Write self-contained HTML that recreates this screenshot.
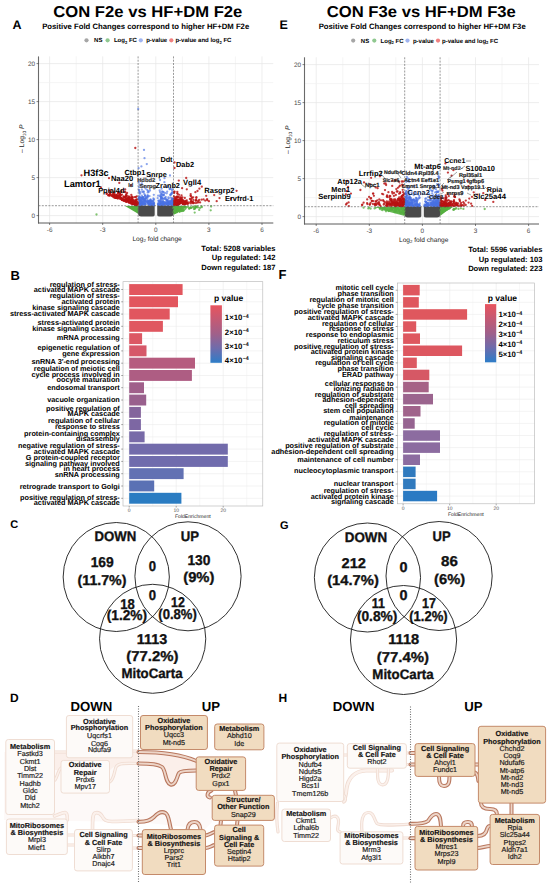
<!DOCTYPE html><html><head><meta charset="utf-8"><style>html,body{margin:0;padding:0;background:#fff}svg{display:block}text{font-family:"Liberation Sans", sans-serif;text-rendering:geometricPrecision}</style></head><body>
<svg width="550" height="890" viewBox="0 0 550 890" font-family='"Liberation Sans", sans-serif'>
<rect width="550" height="890" fill="#fff"/>
<text x="147.8" y="17.0" font-size="15.8" font-weight="bold" text-anchor="middle" textLength="189" lengthAdjust="spacingAndGlyphs">CON F2e vs HF+DM F2e</text>
<text x="145.7" y="28.8" font-size="7.8" font-weight="bold" text-anchor="middle" textLength="207" lengthAdjust="spacingAndGlyphs">Positive Fold Changes correspond to higher HF+DM F2e</text>
<text x="12.5" y="29.3" font-size="12.5" font-weight="bold">A</text>
<text x="421.3" y="17.0" font-size="15.8" font-weight="bold" text-anchor="middle" textLength="189" lengthAdjust="spacingAndGlyphs">CON F3e vs HF+DM F3e</text>
<text x="422.2" y="28.8" font-size="7.8" font-weight="bold" text-anchor="middle" textLength="207" lengthAdjust="spacingAndGlyphs">Positive Fold Changes correspond to higher HF+DM F3e</text>
<text x="279.5" y="29.3" font-size="12.5" font-weight="bold">E</text>
<line x1="49.6" y1="56.4" x2="49.6" y2="223.0" stroke="#e6e6e6" stroke-width="0.7"/><line x1="76.2" y1="56.4" x2="76.2" y2="223.0" stroke="#f1f1f1" stroke-width="0.7"/><line x1="102.7" y1="56.4" x2="102.7" y2="223.0" stroke="#e6e6e6" stroke-width="0.7"/><line x1="129.2" y1="56.4" x2="129.2" y2="223.0" stroke="#f1f1f1" stroke-width="0.7"/><line x1="155.8" y1="56.4" x2="155.8" y2="223.0" stroke="#e6e6e6" stroke-width="0.7"/><line x1="182.4" y1="56.4" x2="182.4" y2="223.0" stroke="#f1f1f1" stroke-width="0.7"/><line x1="208.9" y1="56.4" x2="208.9" y2="223.0" stroke="#e6e6e6" stroke-width="0.7"/><line x1="235.4" y1="56.4" x2="235.4" y2="223.0" stroke="#f1f1f1" stroke-width="0.7"/><line x1="262.0" y1="56.4" x2="262.0" y2="223.0" stroke="#e6e6e6" stroke-width="0.7"/><line x1="38.5" y1="215.6" x2="273.3" y2="215.6" stroke="#e6e6e6" stroke-width="0.7"/><line x1="38.5" y1="196.6" x2="273.3" y2="196.6" stroke="#f1f1f1" stroke-width="0.7"/><line x1="38.5" y1="177.6" x2="273.3" y2="177.6" stroke="#e6e6e6" stroke-width="0.7"/><line x1="38.5" y1="158.6" x2="273.3" y2="158.6" stroke="#f1f1f1" stroke-width="0.7"/><line x1="38.5" y1="139.6" x2="273.3" y2="139.6" stroke="#e6e6e6" stroke-width="0.7"/><line x1="38.5" y1="120.6" x2="273.3" y2="120.6" stroke="#f1f1f1" stroke-width="0.7"/><line x1="38.5" y1="101.6" x2="273.3" y2="101.6" stroke="#e6e6e6" stroke-width="0.7"/><line x1="38.5" y1="82.6" x2="273.3" y2="82.6" stroke="#f1f1f1" stroke-width="0.7"/><line x1="38.5" y1="63.6" x2="273.3" y2="63.6" stroke="#e6e6e6" stroke-width="0.7"/>
<path d="M138.1,205.7 H154.7 V215.0 Q154.7,216.5 152.3,216.5 H141.1 Q138.1,216.5 138.1,213.5Z" fill="#4a4a4a"/><path d="M157.2,205.7 H173.5 V213.5 Q173.5,216.5 170.5,216.5 H159.7 Q157.2,216.5 157.2,215.0Z" fill="#4a4a4a"/><path d="M125,205.9 L138.1,205.9 L138.1,213.7 Z" fill="#55b040"/><path d="M173.5,205.9 L187.5,205.9 Q180.5,210.7 173.5,215.1 Z" fill="#55b040"/><g fill="#55b040" fill-opacity="0.75"><circle cx="175.4" cy="210.1" r="1.15"/><circle cx="195.6" cy="207.8" r="1.15"/><circle cx="173.5" cy="212.3" r="1.15"/><circle cx="174.6" cy="207.3" r="1.15"/><circle cx="195.0" cy="208.6" r="1.15"/><circle cx="190.6" cy="208.0" r="1.15"/><circle cx="178.1" cy="206.7" r="1.15"/><circle cx="179.6" cy="211.8" r="1.15"/><circle cx="176.6" cy="211.7" r="1.15"/><circle cx="176.2" cy="208.4" r="1.15"/><circle cx="184.0" cy="206.6" r="1.15"/><circle cx="176.0" cy="207.7" r="1.15"/><circle cx="181.4" cy="209.0" r="1.15"/><circle cx="200.0" cy="207.9" r="1.15"/><circle cx="175.8" cy="208.2" r="1.15"/><circle cx="176.8" cy="209.5" r="1.15"/><circle cx="173.6" cy="206.8" r="1.15"/><circle cx="189.4" cy="208.6" r="1.15"/><circle cx="174.1" cy="209.8" r="1.15"/><circle cx="176.0" cy="209.1" r="1.15"/><circle cx="194.0" cy="209.1" r="1.15"/><circle cx="177.0" cy="207.4" r="1.15"/><circle cx="182.2" cy="210.6" r="1.15"/><circle cx="178.1" cy="210.6" r="1.15"/><circle cx="196.1" cy="207.0" r="1.15"/><circle cx="201.5" cy="206.5" r="1.15"/><circle cx="184.7" cy="207.4" r="1.15"/><circle cx="174.9" cy="212.6" r="1.15"/><circle cx="196.2" cy="206.7" r="1.15"/><circle cx="181.7" cy="209.8" r="1.15"/><circle cx="173.6" cy="208.2" r="1.15"/><circle cx="174.9" cy="209.9" r="1.15"/><circle cx="180.4" cy="209.1" r="1.15"/><circle cx="177.9" cy="210.3" r="1.15"/><circle cx="179.6" cy="211.4" r="1.15"/><circle cx="201.8" cy="207.2" r="1.15"/><circle cx="181.4" cy="210.8" r="1.15"/><circle cx="181.1" cy="210.6" r="1.15"/><circle cx="179.9" cy="210.3" r="1.15"/><circle cx="185.2" cy="209.1" r="1.15"/><circle cx="197.4" cy="206.6" r="1.15"/><circle cx="189.0" cy="208.5" r="1.15"/><circle cx="179.5" cy="208.4" r="1.15"/><circle cx="173.7" cy="208.2" r="1.15"/><circle cx="184.5" cy="207.0" r="1.15"/><circle cx="176.5" cy="212.2" r="1.15"/><circle cx="183.7" cy="210.6" r="1.15"/><circle cx="193.7" cy="207.0" r="1.15"/><circle cx="195.4" cy="207.0" r="1.15"/><circle cx="194.5" cy="208.8" r="1.15"/><circle cx="179.5" cy="209.3" r="1.15"/><circle cx="174.3" cy="209.8" r="1.15"/><circle cx="179.6" cy="207.2" r="1.15"/><circle cx="183.4" cy="210.3" r="1.15"/><circle cx="192.7" cy="206.9" r="1.15"/><circle cx="174.3" cy="208.2" r="1.15"/><circle cx="177.4" cy="207.6" r="1.15"/><circle cx="191.5" cy="207.9" r="1.15"/><circle cx="185.7" cy="207.4" r="1.15"/><circle cx="175.2" cy="208.3" r="1.15"/><circle cx="195.4" cy="207.6" r="1.15"/><circle cx="190.5" cy="207.3" r="1.15"/><circle cx="175.7" cy="208.4" r="1.15"/><circle cx="182.9" cy="210.7" r="1.15"/><circle cx="188.0" cy="206.9" r="1.15"/><circle cx="175.7" cy="212.6" r="1.15"/><circle cx="174.4" cy="208.4" r="1.15"/><circle cx="211.1" cy="206.5" r="1.15"/><circle cx="178.0" cy="207.7" r="1.15"/><circle cx="174.9" cy="209.5" r="1.15"/><circle cx="183.2" cy="208.0" r="1.15"/><circle cx="174.0" cy="211.7" r="1.15"/><circle cx="198.0" cy="207.6" r="1.15"/><circle cx="178.4" cy="209.6" r="1.15"/><circle cx="178.5" cy="208.9" r="1.15"/><circle cx="190.5" cy="207.8" r="1.15"/><circle cx="179.1" cy="207.1" r="1.15"/><circle cx="174.9" cy="211.3" r="1.15"/><circle cx="186.3" cy="207.6" r="1.15"/><circle cx="179.1" cy="208.8" r="1.15"/><circle cx="179.5" cy="207.5" r="1.15"/><circle cx="183.7" cy="209.8" r="1.15"/><circle cx="182.5" cy="210.7" r="1.15"/><circle cx="182.2" cy="208.8" r="1.15"/><circle cx="181.1" cy="211.2" r="1.15"/><circle cx="179.7" cy="210.2" r="1.15"/><circle cx="177.2" cy="212.0" r="1.15"/><circle cx="177.0" cy="206.7" r="1.15"/><circle cx="195.9" cy="206.7" r="1.15"/><circle cx="96.5" cy="214.5" r="1.15"/><circle cx="210.7" cy="210.3" r="1.15"/><circle cx="199.2" cy="209.9" r="1.15"/><circle cx="194.7" cy="212.6" r="1.15"/></g><g fill="#4a72e4" fill-opacity="0.65"><circle cx="172.6" cy="202.0" r="1.15"/><circle cx="140.4" cy="200.2" r="1.15"/><circle cx="164.9" cy="192.9" r="1.15"/><circle cx="152.9" cy="203.7" r="1.15"/><circle cx="172.9" cy="198.7" r="1.15"/><circle cx="158.2" cy="204.8" r="1.15"/><circle cx="147.6" cy="202.2" r="1.15"/><circle cx="161.7" cy="203.2" r="1.15"/><circle cx="139.3" cy="203.0" r="1.15"/><circle cx="162.2" cy="203.8" r="1.15"/><circle cx="145.2" cy="201.0" r="1.15"/><circle cx="145.8" cy="198.5" r="1.15"/><circle cx="139.1" cy="190.3" r="1.15"/><circle cx="157.7" cy="198.1" r="1.15"/><circle cx="139.4" cy="184.5" r="1.15"/><circle cx="161.5" cy="192.7" r="1.15"/><circle cx="148.7" cy="203.6" r="1.15"/><circle cx="141.5" cy="200.6" r="1.15"/><circle cx="164.4" cy="182.2" r="1.15"/><circle cx="172.8" cy="202.4" r="1.15"/><circle cx="150.6" cy="199.4" r="1.15"/><circle cx="145.2" cy="195.5" r="1.15"/><circle cx="141.8" cy="203.8" r="1.15"/><circle cx="167.2" cy="191.6" r="1.15"/><circle cx="172.6" cy="192.2" r="1.15"/><circle cx="168.4" cy="197.5" r="1.15"/><circle cx="153.2" cy="202.4" r="1.15"/><circle cx="168.1" cy="202.0" r="1.15"/><circle cx="163.0" cy="201.6" r="1.15"/><circle cx="161.0" cy="198.2" r="1.15"/><circle cx="141.7" cy="198.1" r="1.15"/><circle cx="160.7" cy="203.7" r="1.15"/><circle cx="146.8" cy="197.1" r="1.15"/><circle cx="172.3" cy="202.3" r="1.15"/><circle cx="153.5" cy="203.6" r="1.15"/><circle cx="142.0" cy="203.0" r="1.15"/><circle cx="144.7" cy="203.4" r="1.15"/><circle cx="166.6" cy="200.1" r="1.15"/><circle cx="164.2" cy="203.7" r="1.15"/><circle cx="150.3" cy="204.6" r="1.15"/><circle cx="166.7" cy="193.3" r="1.15"/><circle cx="139.3" cy="198.1" r="1.15"/><circle cx="165.7" cy="204.0" r="1.15"/><circle cx="152.7" cy="204.7" r="1.15"/><circle cx="139.3" cy="191.8" r="1.15"/><circle cx="141.8" cy="203.8" r="1.15"/><circle cx="152.9" cy="204.0" r="1.15"/><circle cx="172.9" cy="201.4" r="1.15"/><circle cx="162.0" cy="204.9" r="1.15"/><circle cx="163.1" cy="204.2" r="1.15"/><circle cx="160.5" cy="203.7" r="1.15"/><circle cx="172.1" cy="189.2" r="1.15"/><circle cx="168.4" cy="204.3" r="1.15"/><circle cx="153.2" cy="203.9" r="1.15"/><circle cx="152.5" cy="204.1" r="1.15"/><circle cx="169.3" cy="204.0" r="1.15"/><circle cx="140.4" cy="205.0" r="1.15"/><circle cx="159.6" cy="200.7" r="1.15"/><circle cx="149.1" cy="204.9" r="1.15"/><circle cx="172.2" cy="201.1" r="1.15"/><circle cx="145.1" cy="195.6" r="1.15"/><circle cx="147.7" cy="192.4" r="1.15"/><circle cx="170.5" cy="194.6" r="1.15"/><circle cx="139.7" cy="197.6" r="1.15"/><circle cx="158.6" cy="204.7" r="1.15"/><circle cx="143.6" cy="202.0" r="1.15"/><circle cx="158.6" cy="201.0" r="1.15"/><circle cx="169.0" cy="204.2" r="1.15"/><circle cx="153.6" cy="205.1" r="1.15"/><circle cx="161.8" cy="203.6" r="1.15"/><circle cx="145.4" cy="198.0" r="1.15"/><circle cx="154.0" cy="199.5" r="1.15"/><circle cx="162.9" cy="199.1" r="1.15"/><circle cx="143.6" cy="191.4" r="1.15"/><circle cx="141.7" cy="201.7" r="1.15"/><circle cx="140.0" cy="201.4" r="1.15"/><circle cx="160.6" cy="194.4" r="1.15"/><circle cx="142.6" cy="202.4" r="1.15"/><circle cx="142.8" cy="197.1" r="1.15"/><circle cx="167.5" cy="201.8" r="1.15"/><circle cx="171.7" cy="193.5" r="1.15"/><circle cx="163.8" cy="204.4" r="1.15"/><circle cx="151.6" cy="203.6" r="1.15"/><circle cx="163.0" cy="201.0" r="1.15"/><circle cx="148.1" cy="202.4" r="1.15"/><circle cx="172.5" cy="199.4" r="1.15"/><circle cx="147.8" cy="203.7" r="1.15"/><circle cx="163.9" cy="203.8" r="1.15"/><circle cx="146.3" cy="201.6" r="1.15"/><circle cx="167.5" cy="204.1" r="1.15"/><circle cx="167.2" cy="200.4" r="1.15"/><circle cx="168.7" cy="203.5" r="1.15"/><circle cx="147.1" cy="189.8" r="1.15"/><circle cx="159.6" cy="204.9" r="1.15"/><circle cx="141.4" cy="202.2" r="1.15"/><circle cx="168.5" cy="204.0" r="1.15"/><circle cx="145.5" cy="188.6" r="1.15"/><circle cx="147.3" cy="198.8" r="1.15"/><circle cx="163.6" cy="203.8" r="1.15"/><circle cx="146.8" cy="200.3" r="1.15"/><circle cx="138.8" cy="181.9" r="1.15"/><circle cx="170.7" cy="201.9" r="1.15"/><circle cx="147.7" cy="197.2" r="1.15"/><circle cx="142.7" cy="203.1" r="1.15"/><circle cx="139.8" cy="200.2" r="1.15"/><circle cx="171.9" cy="198.1" r="1.15"/><circle cx="139.7" cy="203.9" r="1.15"/><circle cx="141.6" cy="198.6" r="1.15"/><circle cx="142.8" cy="198.9" r="1.15"/><circle cx="171.7" cy="200.8" r="1.15"/><circle cx="141.8" cy="183.3" r="1.15"/><circle cx="149.3" cy="204.6" r="1.15"/><circle cx="160.9" cy="197.0" r="1.15"/><circle cx="153.9" cy="203.4" r="1.15"/><circle cx="170.7" cy="203.9" r="1.15"/><circle cx="164.5" cy="198.5" r="1.15"/><circle cx="168.3" cy="204.9" r="1.15"/><circle cx="148.4" cy="201.0" r="1.15"/><circle cx="170.6" cy="203.9" r="1.15"/><circle cx="163.6" cy="194.5" r="1.15"/><circle cx="143.5" cy="204.8" r="1.15"/><circle cx="139.4" cy="196.2" r="1.15"/><circle cx="161.3" cy="196.5" r="1.15"/><circle cx="153.1" cy="200.9" r="1.15"/><circle cx="140.5" cy="185.7" r="1.15"/><circle cx="162.6" cy="198.6" r="1.15"/><circle cx="150.9" cy="201.2" r="1.15"/><circle cx="163.6" cy="202.7" r="1.15"/><circle cx="169.3" cy="204.2" r="1.15"/><circle cx="144.9" cy="204.0" r="1.15"/><circle cx="160.3" cy="203.1" r="1.15"/><circle cx="148.1" cy="190.9" r="1.15"/><circle cx="145.1" cy="204.4" r="1.15"/><circle cx="143.3" cy="199.9" r="1.15"/><circle cx="162.1" cy="191.3" r="1.15"/><circle cx="145.1" cy="196.1" r="1.15"/><circle cx="168.9" cy="203.1" r="1.15"/><circle cx="140.5" cy="200.2" r="1.15"/><circle cx="154.0" cy="203.7" r="1.15"/><circle cx="153.5" cy="199.7" r="1.15"/><circle cx="147.5" cy="202.0" r="1.15"/><circle cx="172.1" cy="204.3" r="1.15"/><circle cx="142.6" cy="197.2" r="1.15"/><circle cx="145.6" cy="203.9" r="1.15"/><circle cx="165.7" cy="204.9" r="1.15"/><circle cx="158.5" cy="203.7" r="1.15"/><circle cx="140.5" cy="204.0" r="1.15"/><circle cx="167.2" cy="205.0" r="1.15"/><circle cx="162.9" cy="204.6" r="1.15"/><circle cx="144.8" cy="200.3" r="1.15"/><circle cx="167.3" cy="200.7" r="1.15"/><circle cx="150.3" cy="204.8" r="1.15"/><circle cx="166.7" cy="204.1" r="1.15"/><circle cx="140.6" cy="202.4" r="1.15"/><circle cx="153.4" cy="198.3" r="1.15"/><circle cx="163.2" cy="202.2" r="1.15"/><circle cx="168.3" cy="202.7" r="1.15"/><circle cx="143.7" cy="192.1" r="1.15"/><circle cx="139.2" cy="203.3" r="1.15"/><circle cx="148.0" cy="196.2" r="1.15"/><circle cx="148.9" cy="203.2" r="1.15"/><circle cx="142.1" cy="203.0" r="1.15"/><circle cx="149.5" cy="196.1" r="1.15"/><circle cx="169.7" cy="189.0" r="1.15"/><circle cx="152.7" cy="201.1" r="1.15"/><circle cx="142.7" cy="202.2" r="1.15"/><circle cx="151.5" cy="204.4" r="1.15"/><circle cx="172.9" cy="203.6" r="1.15"/><circle cx="151.3" cy="201.6" r="1.15"/><circle cx="172.4" cy="203.4" r="1.15"/><circle cx="161.4" cy="194.1" r="1.15"/><circle cx="168.2" cy="185.9" r="1.15"/><circle cx="148.2" cy="201.0" r="1.15"/><circle cx="153.5" cy="202.7" r="1.15"/><circle cx="148.8" cy="203.7" r="1.15"/><circle cx="141.1" cy="204.7" r="1.15"/><circle cx="140.5" cy="204.4" r="1.15"/><circle cx="142.2" cy="204.4" r="1.15"/><circle cx="150.6" cy="205.0" r="1.15"/><circle cx="150.4" cy="199.9" r="1.15"/><circle cx="144.0" cy="200.8" r="1.15"/><circle cx="170.7" cy="202.1" r="1.15"/><circle cx="160.8" cy="201.6" r="1.15"/><circle cx="159.6" cy="204.8" r="1.15"/><circle cx="147.7" cy="195.2" r="1.15"/><circle cx="160.1" cy="196.0" r="1.15"/><circle cx="160.5" cy="200.6" r="1.15"/><circle cx="166.9" cy="203.6" r="1.15"/><circle cx="149.7" cy="201.0" r="1.15"/><circle cx="140.2" cy="202.1" r="1.15"/><circle cx="144.4" cy="186.8" r="1.15"/><circle cx="158.1" cy="195.7" r="1.15"/><circle cx="163.6" cy="203.5" r="1.15"/><circle cx="141.6" cy="204.1" r="1.15"/><circle cx="142.3" cy="203.1" r="1.15"/><circle cx="138.7" cy="199.7" r="1.15"/><circle cx="151.3" cy="203.2" r="1.15"/><circle cx="165.6" cy="201.8" r="1.15"/><circle cx="149.6" cy="202.2" r="1.15"/><circle cx="171.5" cy="200.0" r="1.15"/><circle cx="169.2" cy="204.5" r="1.15"/><circle cx="143.5" cy="197.4" r="1.15"/><circle cx="143.2" cy="203.8" r="1.15"/><circle cx="143.1" cy="202.1" r="1.15"/><circle cx="171.0" cy="201.2" r="1.15"/><circle cx="145.2" cy="200.4" r="1.15"/><circle cx="149.4" cy="203.1" r="1.15"/><circle cx="161.1" cy="199.5" r="1.15"/><circle cx="171.5" cy="193.9" r="1.15"/><circle cx="170.3" cy="203.6" r="1.15"/><circle cx="168.2" cy="205.0" r="1.15"/><circle cx="147.7" cy="202.3" r="1.15"/><circle cx="171.8" cy="193.0" r="1.15"/><circle cx="160.6" cy="204.7" r="1.15"/><circle cx="170.1" cy="203.7" r="1.15"/><circle cx="140.3" cy="202.2" r="1.15"/><circle cx="164.0" cy="195.1" r="1.15"/><circle cx="148.2" cy="204.0" r="1.15"/><circle cx="162.5" cy="198.1" r="1.15"/><circle cx="172.4" cy="199.9" r="1.15"/><circle cx="170.0" cy="200.8" r="1.15"/><circle cx="166.3" cy="199.4" r="1.15"/><circle cx="141.5" cy="197.6" r="1.15"/><circle cx="149.9" cy="201.2" r="1.15"/><circle cx="167.4" cy="200.1" r="1.15"/><circle cx="138.8" cy="197.9" r="1.15"/><circle cx="166.0" cy="203.1" r="1.15"/><circle cx="139.0" cy="187.2" r="1.15"/><circle cx="140.4" cy="203.0" r="1.15"/><circle cx="168.6" cy="202.9" r="1.15"/><circle cx="161.6" cy="188.7" r="1.15"/><circle cx="163.6" cy="205.1" r="1.15"/><circle cx="166.4" cy="203.1" r="1.15"/><circle cx="143.2" cy="197.6" r="1.15"/><circle cx="172.8" cy="204.0" r="1.15"/><circle cx="169.8" cy="189.0" r="1.15"/><circle cx="167.9" cy="202.4" r="1.15"/><circle cx="140.1" cy="199.6" r="1.15"/><circle cx="163.1" cy="205.0" r="1.15"/><circle cx="151.9" cy="204.2" r="1.15"/><circle cx="151.0" cy="204.4" r="1.15"/><circle cx="172.2" cy="201.9" r="1.15"/><circle cx="144.7" cy="201.6" r="1.15"/><circle cx="144.4" cy="203.0" r="1.15"/><circle cx="144.3" cy="199.7" r="1.15"/><circle cx="140.1" cy="202.2" r="1.15"/><circle cx="170.4" cy="195.2" r="1.15"/><circle cx="139.6" cy="202.0" r="1.15"/><circle cx="169.5" cy="201.6" r="1.15"/><circle cx="168.6" cy="198.7" r="1.15"/><circle cx="158.0" cy="203.4" r="1.15"/><circle cx="167.7" cy="201.3" r="1.15"/><circle cx="170.5" cy="197.7" r="1.15"/><circle cx="139.2" cy="199.2" r="1.15"/><circle cx="165.1" cy="202.6" r="1.15"/><circle cx="158.7" cy="204.6" r="1.15"/><circle cx="172.1" cy="204.5" r="1.15"/><circle cx="159.7" cy="190.4" r="1.15"/><circle cx="150.8" cy="203.9" r="1.15"/><circle cx="172.7" cy="204.9" r="1.15"/><circle cx="138.7" cy="198.5" r="1.15"/><circle cx="170.9" cy="205.0" r="1.15"/><circle cx="172.4" cy="199.2" r="1.15"/><circle cx="148.2" cy="201.0" r="1.15"/><circle cx="150.2" cy="202.8" r="1.15"/><circle cx="160.4" cy="202.6" r="1.15"/><circle cx="158.5" cy="204.4" r="1.15"/><circle cx="160.0" cy="192.1" r="1.15"/><circle cx="141.0" cy="200.6" r="1.15"/><circle cx="159.0" cy="203.1" r="1.15"/><circle cx="140.6" cy="204.5" r="1.15"/><circle cx="154.0" cy="204.9" r="1.15"/><circle cx="144.3" cy="193.9" r="1.15"/><circle cx="141.9" cy="189.7" r="1.15"/><circle cx="139.4" cy="193.6" r="1.15"/><circle cx="139.9" cy="192.1" r="1.15"/><circle cx="165.7" cy="196.9" r="1.15"/><circle cx="143.2" cy="203.1" r="1.15"/><circle cx="141.8" cy="204.2" r="1.15"/><circle cx="152.0" cy="203.8" r="1.15"/><circle cx="163.3" cy="195.1" r="1.15"/><circle cx="142.7" cy="199.4" r="1.15"/><circle cx="142.5" cy="200.4" r="1.15"/><circle cx="172.0" cy="190.4" r="1.15"/><circle cx="160.6" cy="196.5" r="1.15"/><circle cx="163.0" cy="202.0" r="1.15"/><circle cx="145.4" cy="203.2" r="1.15"/><circle cx="139.3" cy="197.2" r="1.15"/><circle cx="161.7" cy="204.9" r="1.15"/><circle cx="158.6" cy="204.8" r="1.15"/><circle cx="160.7" cy="199.2" r="1.15"/><circle cx="149.1" cy="204.3" r="1.15"/><circle cx="151.0" cy="202.8" r="1.15"/><circle cx="150.4" cy="200.8" r="1.15"/><circle cx="152.1" cy="201.3" r="1.15"/><circle cx="149.4" cy="202.8" r="1.15"/><circle cx="166.1" cy="203.1" r="1.15"/><circle cx="145.6" cy="204.3" r="1.15"/><circle cx="153.5" cy="205.0" r="1.15"/><circle cx="158.5" cy="200.7" r="1.15"/><circle cx="150.7" cy="200.4" r="1.15"/><circle cx="148.7" cy="192.0" r="1.15"/><circle cx="172.6" cy="199.5" r="1.15"/><circle cx="163.3" cy="191.8" r="1.15"/><circle cx="150.0" cy="190.5" r="1.15"/><circle cx="142.7" cy="197.8" r="1.15"/><circle cx="172.9" cy="204.6" r="1.15"/><circle cx="142.4" cy="204.3" r="1.15"/><circle cx="143.8" cy="198.8" r="1.15"/><circle cx="169.9" cy="202.7" r="1.15"/><circle cx="144.5" cy="199.3" r="1.15"/><circle cx="167.8" cy="201.8" r="1.15"/><circle cx="141.5" cy="201.4" r="1.15"/><circle cx="163.4" cy="204.6" r="1.15"/><circle cx="145.0" cy="199.1" r="1.15"/><circle cx="162.0" cy="194.5" r="1.15"/><circle cx="152.5" cy="204.5" r="1.15"/><circle cx="166.1" cy="199.5" r="1.15"/><circle cx="164.2" cy="203.5" r="1.15"/><circle cx="168.4" cy="201.3" r="1.15"/><circle cx="152.3" cy="204.5" r="1.15"/><circle cx="162.5" cy="195.7" r="1.15"/><circle cx="161.9" cy="202.4" r="1.15"/><circle cx="149.4" cy="202.5" r="1.15"/><circle cx="160.8" cy="205.1" r="1.15"/><circle cx="141.8" cy="197.9" r="1.15"/><circle cx="170.1" cy="188.5" r="1.15"/><circle cx="170.4" cy="202.4" r="1.15"/><circle cx="164.0" cy="202.0" r="1.15"/><circle cx="159.8" cy="201.8" r="1.15"/><circle cx="147.3" cy="196.5" r="1.15"/><circle cx="161.8" cy="198.1" r="1.15"/><circle cx="152.5" cy="204.8" r="1.15"/><circle cx="140.2" cy="193.6" r="1.15"/><circle cx="165.2" cy="197.8" r="1.15"/><circle cx="140.0" cy="197.5" r="1.15"/><circle cx="140.0" cy="198.1" r="1.15"/><circle cx="161.3" cy="201.6" r="1.15"/><circle cx="166.6" cy="204.1" r="1.15"/><circle cx="167.5" cy="202.0" r="1.15"/><circle cx="141.0" cy="204.4" r="1.15"/><circle cx="143.1" cy="204.7" r="1.15"/><circle cx="163.2" cy="192.1" r="1.15"/><circle cx="153.7" cy="202.3" r="1.15"/><circle cx="159.4" cy="201.8" r="1.15"/><circle cx="161.3" cy="197.5" r="1.15"/><circle cx="153.8" cy="194.8" r="1.15"/><circle cx="166.5" cy="187.2" r="1.15"/><circle cx="150.9" cy="204.9" r="1.15"/><circle cx="141.1" cy="204.6" r="1.15"/><circle cx="153.1" cy="205.0" r="1.15"/><circle cx="141.9" cy="195.7" r="1.15"/><circle cx="161.8" cy="203.8" r="1.15"/><circle cx="170.7" cy="194.7" r="1.15"/><circle cx="139.1" cy="199.9" r="1.15"/><circle cx="144.9" cy="201.3" r="1.15"/><circle cx="146.1" cy="198.1" r="1.15"/><circle cx="163.3" cy="203.6" r="1.15"/><circle cx="172.2" cy="203.6" r="1.15"/><circle cx="150.0" cy="201.8" r="1.15"/><circle cx="139.0" cy="189.8" r="1.15"/><circle cx="145.8" cy="201.5" r="1.15"/><circle cx="164.5" cy="198.9" r="1.15"/><circle cx="146.8" cy="201.8" r="1.15"/><circle cx="139.2" cy="203.0" r="1.15"/><circle cx="170.2" cy="203.7" r="1.15"/><circle cx="139.7" cy="205.0" r="1.15"/><circle cx="169.5" cy="201.6" r="1.15"/><circle cx="170.9" cy="203.2" r="1.15"/><circle cx="161.5" cy="204.9" r="1.15"/><circle cx="151.0" cy="201.6" r="1.15"/><circle cx="141.0" cy="199.6" r="1.15"/><circle cx="142.3" cy="192.0" r="1.15"/><circle cx="161.6" cy="201.5" r="1.15"/><circle cx="138.8" cy="203.9" r="1.15"/><circle cx="138.2" cy="109.0" r="1.15"/><circle cx="144.0" cy="149.9" r="1.15"/><circle cx="144.5" cy="158.2" r="1.15"/><circle cx="146.8" cy="164.1" r="1.15"/><circle cx="141.4" cy="166.4" r="1.15"/><circle cx="138.6" cy="168.2" r="1.15"/><circle cx="170.0" cy="175.5" r="1.15"/><circle cx="164.5" cy="178.2" r="1.15"/><circle cx="150.0" cy="176.0" r="1.15"/><circle cx="160.0" cy="180.0" r="1.15"/></g><g fill="#b81212" fill-opacity="0.82"><circle cx="128.8" cy="201.8" r="1.15"/><circle cx="132.5" cy="200.8" r="1.15"/><circle cx="119.7" cy="197.1" r="1.15"/><circle cx="106.8" cy="193.4" r="1.15"/><circle cx="133.0" cy="201.9" r="1.15"/><circle cx="119.7" cy="198.7" r="1.15"/><circle cx="118.2" cy="196.9" r="1.15"/><circle cx="125.6" cy="199.5" r="1.15"/><circle cx="137.6" cy="204.0" r="1.15"/><circle cx="128.7" cy="198.5" r="1.15"/><circle cx="116.8" cy="198.0" r="1.15"/><circle cx="128.5" cy="201.7" r="1.15"/><circle cx="109.1" cy="195.5" r="1.15"/><circle cx="124.6" cy="199.7" r="1.15"/><circle cx="128.9" cy="202.4" r="1.15"/><circle cx="125.4" cy="200.1" r="1.15"/><circle cx="116.0" cy="196.5" r="1.15"/><circle cx="116.3" cy="196.6" r="1.15"/><circle cx="106.6" cy="193.9" r="1.15"/><circle cx="114.6" cy="197.4" r="1.15"/><circle cx="135.0" cy="204.7" r="1.15"/><circle cx="134.2" cy="204.4" r="1.15"/><circle cx="131.7" cy="198.2" r="1.15"/><circle cx="126.6" cy="201.6" r="1.15"/><circle cx="134.8" cy="197.1" r="1.15"/><circle cx="128.1" cy="198.6" r="1.15"/><circle cx="122.3" cy="198.9" r="1.15"/><circle cx="114.4" cy="196.3" r="1.15"/><circle cx="122.1" cy="198.6" r="1.15"/><circle cx="127.9" cy="200.3" r="1.15"/><circle cx="129.1" cy="201.3" r="1.15"/><circle cx="114.4" cy="195.4" r="1.15"/><circle cx="117.7" cy="198.3" r="1.15"/><circle cx="112.2" cy="194.9" r="1.15"/><circle cx="116.8" cy="196.8" r="1.15"/><circle cx="119.7" cy="194.8" r="1.15"/><circle cx="129.8" cy="202.7" r="1.15"/><circle cx="134.2" cy="202.0" r="1.15"/><circle cx="135.5" cy="203.7" r="1.15"/><circle cx="114.2" cy="194.8" r="1.15"/><circle cx="136.1" cy="204.1" r="1.15"/><circle cx="115.6" cy="197.8" r="1.15"/><circle cx="129.2" cy="199.2" r="1.15"/><circle cx="122.0" cy="199.1" r="1.15"/><circle cx="117.7" cy="197.3" r="1.15"/><circle cx="134.9" cy="202.3" r="1.15"/><circle cx="126.8" cy="198.8" r="1.15"/><circle cx="132.0" cy="201.8" r="1.15"/><circle cx="121.9" cy="199.4" r="1.15"/><circle cx="113.3" cy="193.7" r="1.15"/><circle cx="129.6" cy="200.0" r="1.15"/><circle cx="126.2" cy="195.0" r="1.15"/><circle cx="121.0" cy="198.4" r="1.15"/><circle cx="130.3" cy="201.6" r="1.15"/><circle cx="126.0" cy="201.1" r="1.15"/><circle cx="135.7" cy="203.1" r="1.15"/><circle cx="136.2" cy="205.0" r="1.15"/><circle cx="132.0" cy="200.1" r="1.15"/><circle cx="113.9" cy="195.9" r="1.15"/><circle cx="133.5" cy="203.7" r="1.15"/><circle cx="128.9" cy="200.8" r="1.15"/><circle cx="125.9" cy="195.7" r="1.15"/><circle cx="117.2" cy="197.8" r="1.15"/><circle cx="121.6" cy="198.0" r="1.15"/><circle cx="121.1" cy="198.1" r="1.15"/><circle cx="127.5" cy="199.8" r="1.15"/><circle cx="118.7" cy="195.6" r="1.15"/><circle cx="124.0" cy="197.0" r="1.15"/><circle cx="125.9" cy="200.9" r="1.15"/><circle cx="135.4" cy="201.2" r="1.15"/><circle cx="127.7" cy="200.6" r="1.15"/><circle cx="134.9" cy="201.8" r="1.15"/><circle cx="136.0" cy="200.2" r="1.15"/><circle cx="123.6" cy="200.4" r="1.15"/><circle cx="136.6" cy="205.1" r="1.15"/><circle cx="133.3" cy="203.1" r="1.15"/><circle cx="131.1" cy="203.5" r="1.15"/><circle cx="120.7" cy="199.1" r="1.15"/><circle cx="116.4" cy="196.7" r="1.15"/><circle cx="116.7" cy="197.0" r="1.15"/><circle cx="134.1" cy="203.3" r="1.15"/><circle cx="124.9" cy="197.1" r="1.15"/><circle cx="129.7" cy="200.9" r="1.15"/><circle cx="136.8" cy="202.6" r="1.15"/><circle cx="128.9" cy="202.5" r="1.15"/><circle cx="115.7" cy="197.2" r="1.15"/><circle cx="123.0" cy="200.3" r="1.15"/><circle cx="133.5" cy="199.8" r="1.15"/><circle cx="112.9" cy="196.2" r="1.15"/><circle cx="133.2" cy="204.2" r="1.15"/><circle cx="126.1" cy="200.3" r="1.15"/><circle cx="109.7" cy="195.5" r="1.15"/><circle cx="108.1" cy="195.3" r="1.15"/><circle cx="118.0" cy="197.4" r="1.15"/><circle cx="127.3" cy="200.4" r="1.15"/><circle cx="127.9" cy="199.4" r="1.15"/><circle cx="130.1" cy="202.7" r="1.15"/><circle cx="120.0" cy="197.7" r="1.15"/><circle cx="126.6" cy="199.1" r="1.15"/><circle cx="129.6" cy="197.9" r="1.15"/><circle cx="116.0" cy="196.4" r="1.15"/><circle cx="109.3" cy="194.6" r="1.15"/><circle cx="136.8" cy="199.5" r="1.15"/><circle cx="109.9" cy="193.6" r="1.15"/><circle cx="120.2" cy="197.2" r="1.15"/><circle cx="128.9" cy="200.0" r="1.15"/><circle cx="120.1" cy="194.5" r="1.15"/><circle cx="133.0" cy="204.1" r="1.15"/><circle cx="132.3" cy="203.8" r="1.15"/><circle cx="116.2" cy="195.2" r="1.15"/><circle cx="129.2" cy="199.6" r="1.15"/><circle cx="112.2" cy="196.0" r="1.15"/><circle cx="129.0" cy="201.5" r="1.15"/><circle cx="133.2" cy="201.8" r="1.15"/><circle cx="131.2" cy="200.5" r="1.15"/><circle cx="135.3" cy="202.0" r="1.15"/><circle cx="108.5" cy="195.1" r="1.15"/><circle cx="116.8" cy="195.6" r="1.15"/><circle cx="136.5" cy="205.1" r="1.15"/><circle cx="118.1" cy="195.7" r="1.15"/><circle cx="129.6" cy="200.5" r="1.15"/><circle cx="122.1" cy="200.1" r="1.15"/><circle cx="129.8" cy="199.2" r="1.15"/><circle cx="122.0" cy="194.6" r="1.15"/><circle cx="126.6" cy="195.9" r="1.15"/><circle cx="117.9" cy="197.3" r="1.15"/><circle cx="124.3" cy="197.4" r="1.15"/><circle cx="132.0" cy="199.6" r="1.15"/><circle cx="119.6" cy="196.8" r="1.15"/><circle cx="132.2" cy="203.8" r="1.15"/><circle cx="113.7" cy="197.3" r="1.15"/><circle cx="111.5" cy="195.7" r="1.15"/><circle cx="118.7" cy="196.7" r="1.15"/><circle cx="133.9" cy="201.9" r="1.15"/><circle cx="115.8" cy="195.6" r="1.15"/><circle cx="135.1" cy="204.9" r="1.15"/><circle cx="131.0" cy="197.5" r="1.15"/><circle cx="131.4" cy="202.0" r="1.15"/><circle cx="133.7" cy="203.1" r="1.15"/><circle cx="121.8" cy="199.6" r="1.15"/><circle cx="126.0" cy="201.5" r="1.15"/><circle cx="115.9" cy="197.6" r="1.15"/><circle cx="126.5" cy="198.3" r="1.15"/><circle cx="135.4" cy="205.0" r="1.15"/><circle cx="115.7" cy="197.0" r="1.15"/><circle cx="129.3" cy="196.9" r="1.15"/><circle cx="137.6" cy="201.9" r="1.15"/><circle cx="134.1" cy="202.1" r="1.15"/><circle cx="122.5" cy="199.9" r="1.15"/><circle cx="115.7" cy="197.7" r="1.15"/><circle cx="132.1" cy="198.4" r="1.15"/><circle cx="124.0" cy="200.8" r="1.15"/><circle cx="123.3" cy="199.0" r="1.15"/><circle cx="134.2" cy="202.7" r="1.15"/><circle cx="122.3" cy="199.5" r="1.15"/><circle cx="131.2" cy="203.4" r="1.15"/><circle cx="133.8" cy="203.0" r="1.15"/><circle cx="122.3" cy="199.8" r="1.15"/><circle cx="132.2" cy="198.2" r="1.15"/><circle cx="114.3" cy="196.0" r="1.15"/><circle cx="133.7" cy="201.6" r="1.15"/><circle cx="113.3" cy="194.8" r="1.15"/><circle cx="137.4" cy="204.5" r="1.15"/><circle cx="127.5" cy="201.7" r="1.15"/><circle cx="131.9" cy="200.3" r="1.15"/><circle cx="135.8" cy="197.2" r="1.15"/><circle cx="132.4" cy="203.3" r="1.15"/><circle cx="124.8" cy="200.4" r="1.15"/><circle cx="120.1" cy="197.0" r="1.15"/><circle cx="131.2" cy="200.4" r="1.15"/><circle cx="110.3" cy="193.9" r="1.15"/><circle cx="135.2" cy="202.8" r="1.15"/><circle cx="117.9" cy="198.4" r="1.15"/><circle cx="117.2" cy="195.7" r="1.15"/><circle cx="125.6" cy="197.2" r="1.15"/><circle cx="115.4" cy="196.1" r="1.15"/><circle cx="125.1" cy="199.9" r="1.15"/><circle cx="129.9" cy="202.4" r="1.15"/><circle cx="126.2" cy="200.9" r="1.15"/><circle cx="126.0" cy="201.6" r="1.15"/><circle cx="126.5" cy="201.6" r="1.15"/><circle cx="132.9" cy="197.3" r="1.15"/><circle cx="115.5" cy="197.9" r="1.15"/><circle cx="112.9" cy="196.4" r="1.15"/><circle cx="136.4" cy="199.7" r="1.15"/><circle cx="137.0" cy="202.8" r="1.15"/><circle cx="125.7" cy="196.5" r="1.15"/><circle cx="135.8" cy="202.5" r="1.15"/><circle cx="120.1" cy="194.2" r="1.15"/><circle cx="110.7" cy="195.1" r="1.15"/><circle cx="124.5" cy="201.1" r="1.15"/><circle cx="132.2" cy="199.8" r="1.15"/><circle cx="132.2" cy="199.8" r="1.15"/><circle cx="134.3" cy="200.6" r="1.15"/><circle cx="131.6" cy="202.0" r="1.15"/><circle cx="115.1" cy="197.6" r="1.15"/><circle cx="115.0" cy="197.2" r="1.15"/><circle cx="128.1" cy="197.8" r="1.15"/><circle cx="136.3" cy="204.6" r="1.15"/><circle cx="125.9" cy="198.7" r="1.15"/><circle cx="136.7" cy="196.3" r="1.15"/><circle cx="131.9" cy="201.4" r="1.15"/><circle cx="131.8" cy="197.7" r="1.15"/><circle cx="127.1" cy="192.9" r="1.15"/><circle cx="120.9" cy="195.2" r="1.15"/><circle cx="128.6" cy="196.4" r="1.15"/><circle cx="118.0" cy="192.9" r="1.15"/><circle cx="114.2" cy="191.8" r="1.15"/><circle cx="130.8" cy="200.3" r="1.15"/><circle cx="129.6" cy="200.9" r="1.15"/><circle cx="136.5" cy="201.5" r="1.15"/><circle cx="120.1" cy="195.6" r="1.15"/><circle cx="123.5" cy="196.5" r="1.15"/><circle cx="110.5" cy="190.7" r="1.15"/><circle cx="124.6" cy="191.9" r="1.15"/><circle cx="109.2" cy="190.7" r="1.15"/><circle cx="126.7" cy="196.1" r="1.15"/><circle cx="110.2" cy="192.9" r="1.15"/><circle cx="114.6" cy="194.0" r="1.15"/><circle cx="134.1" cy="201.9" r="1.15"/><circle cx="121.5" cy="191.2" r="1.15"/><circle cx="129.0" cy="198.0" r="1.15"/><circle cx="132.0" cy="196.6" r="1.15"/><circle cx="126.4" cy="194.1" r="1.15"/><circle cx="128.1" cy="198.9" r="1.15"/><circle cx="120.1" cy="192.6" r="1.15"/><circle cx="119.8" cy="193.6" r="1.15"/><circle cx="119.3" cy="195.2" r="1.15"/><circle cx="130.4" cy="200.5" r="1.15"/><circle cx="118.0" cy="193.2" r="1.15"/><circle cx="119.3" cy="182.9" r="1.15"/><circle cx="131.3" cy="194.9" r="1.15"/><circle cx="129.2" cy="200.6" r="1.15"/><circle cx="119.6" cy="196.6" r="1.15"/><circle cx="125.2" cy="189.5" r="1.15"/><circle cx="127.7" cy="198.4" r="1.15"/><circle cx="125.3" cy="192.2" r="1.15"/><circle cx="113.4" cy="193.5" r="1.15"/><circle cx="116.7" cy="195.0" r="1.15"/><circle cx="137.7" cy="202.9" r="1.15"/><circle cx="191.0" cy="196.2" r="1.15"/><circle cx="175.5" cy="198.4" r="1.15"/><circle cx="178.6" cy="201.4" r="1.15"/><circle cx="174.4" cy="191.6" r="1.15"/><circle cx="180.2" cy="200.4" r="1.15"/><circle cx="196.2" cy="199.9" r="1.15"/><circle cx="177.8" cy="203.4" r="1.15"/><circle cx="192.9" cy="202.0" r="1.15"/><circle cx="176.5" cy="196.9" r="1.15"/><circle cx="175.7" cy="199.1" r="1.15"/><circle cx="177.6" cy="204.6" r="1.15"/><circle cx="195.4" cy="192.2" r="1.15"/><circle cx="190.9" cy="201.5" r="1.15"/><circle cx="174.9" cy="203.8" r="1.15"/><circle cx="179.5" cy="197.4" r="1.15"/><circle cx="230.7" cy="198.8" r="1.15"/><circle cx="177.8" cy="203.5" r="1.15"/><circle cx="185.9" cy="202.0" r="1.15"/><circle cx="176.7" cy="203.3" r="1.15"/><circle cx="192.1" cy="202.2" r="1.15"/><circle cx="183.3" cy="204.0" r="1.15"/><circle cx="175.6" cy="204.1" r="1.15"/><circle cx="176.4" cy="204.0" r="1.15"/><circle cx="187.9" cy="203.7" r="1.15"/><circle cx="175.3" cy="203.2" r="1.15"/><circle cx="185.2" cy="204.2" r="1.15"/><circle cx="181.7" cy="202.5" r="1.15"/><circle cx="177.6" cy="197.5" r="1.15"/><circle cx="175.9" cy="202.9" r="1.15"/><circle cx="178.8" cy="200.1" r="1.15"/><circle cx="187.7" cy="202.1" r="1.15"/><circle cx="196.3" cy="197.9" r="1.15"/><circle cx="177.1" cy="204.8" r="1.15"/><circle cx="192.1" cy="197.7" r="1.15"/><circle cx="183.9" cy="203.9" r="1.15"/><circle cx="184.8" cy="202.2" r="1.15"/><circle cx="175.7" cy="200.9" r="1.15"/><circle cx="174.2" cy="193.1" r="1.15"/><circle cx="183.6" cy="202.1" r="1.15"/><circle cx="178.0" cy="203.4" r="1.15"/><circle cx="189.9" cy="199.0" r="1.15"/><circle cx="178.2" cy="200.2" r="1.15"/><circle cx="174.4" cy="202.8" r="1.15"/><circle cx="178.9" cy="201.7" r="1.15"/><circle cx="177.7" cy="204.6" r="1.15"/><circle cx="175.8" cy="204.1" r="1.15"/><circle cx="183.0" cy="203.5" r="1.15"/><circle cx="175.8" cy="200.7" r="1.15"/><circle cx="191.5" cy="198.4" r="1.15"/><circle cx="176.3" cy="204.9" r="1.15"/><circle cx="182.1" cy="199.7" r="1.15"/><circle cx="176.3" cy="200.2" r="1.15"/><circle cx="207.2" cy="200.2" r="1.15"/><circle cx="180.9" cy="200.2" r="1.15"/><circle cx="183.4" cy="200.5" r="1.15"/><circle cx="176.7" cy="203.7" r="1.15"/><circle cx="175.9" cy="203.6" r="1.15"/><circle cx="174.2" cy="200.8" r="1.15"/><circle cx="178.4" cy="203.7" r="1.15"/><circle cx="182.5" cy="202.7" r="1.15"/><circle cx="175.2" cy="202.2" r="1.15"/><circle cx="200.1" cy="202.4" r="1.15"/><circle cx="191.3" cy="201.2" r="1.15"/><circle cx="178.8" cy="201.5" r="1.15"/><circle cx="196.4" cy="197.2" r="1.15"/><circle cx="177.3" cy="191.8" r="1.15"/><circle cx="193.1" cy="203.3" r="1.15"/><circle cx="201.6" cy="199.7" r="1.15"/><circle cx="177.3" cy="193.3" r="1.15"/><circle cx="182.4" cy="197.3" r="1.15"/><circle cx="181.0" cy="198.8" r="1.15"/><circle cx="182.9" cy="204.1" r="1.15"/><circle cx="176.9" cy="203.9" r="1.15"/><circle cx="180.3" cy="203.1" r="1.15"/><circle cx="177.0" cy="197.3" r="1.15"/><circle cx="177.6" cy="193.8" r="1.15"/><circle cx="203.5" cy="199.4" r="1.15"/><circle cx="178.5" cy="202.5" r="1.15"/><circle cx="176.7" cy="203.3" r="1.15"/><circle cx="205.2" cy="200.6" r="1.15"/><circle cx="185.7" cy="203.1" r="1.15"/><circle cx="180.7" cy="197.4" r="1.15"/><circle cx="184.6" cy="204.2" r="1.15"/><circle cx="179.5" cy="203.0" r="1.15"/><circle cx="185.2" cy="202.8" r="1.15"/><circle cx="181.5" cy="195.4" r="1.15"/><circle cx="180.5" cy="202.9" r="1.15"/><circle cx="198.1" cy="200.9" r="1.15"/><circle cx="176.4" cy="198.8" r="1.15"/><circle cx="176.7" cy="204.3" r="1.15"/><circle cx="181.4" cy="200.7" r="1.15"/><circle cx="182.4" cy="200.3" r="1.15"/><circle cx="181.9" cy="199.9" r="1.15"/><circle cx="207.1" cy="199.2" r="1.15"/><circle cx="179.2" cy="201.8" r="1.15"/><circle cx="174.5" cy="202.9" r="1.15"/><circle cx="185.0" cy="201.5" r="1.15"/><circle cx="186.8" cy="200.3" r="1.15"/><circle cx="179.8" cy="202.0" r="1.15"/><circle cx="177.9" cy="201.2" r="1.15"/><circle cx="178.3" cy="204.3" r="1.15"/><circle cx="190.5" cy="195.6" r="1.15"/><circle cx="195.9" cy="203.1" r="1.15"/><circle cx="191.1" cy="199.6" r="1.15"/><circle cx="175.7" cy="203.4" r="1.15"/><circle cx="178.3" cy="204.4" r="1.15"/><circle cx="179.8" cy="203.0" r="1.15"/><circle cx="178.2" cy="201.0" r="1.15"/><circle cx="175.6" cy="204.0" r="1.15"/><circle cx="177.0" cy="203.1" r="1.15"/><circle cx="193.4" cy="199.9" r="1.15"/><circle cx="175.7" cy="200.7" r="1.15"/><circle cx="186.2" cy="178.0" r="1.15"/><circle cx="175.0" cy="200.0" r="1.15"/><circle cx="182.1" cy="188.2" r="1.15"/><circle cx="174.0" cy="196.3" r="1.15"/><circle cx="176.9" cy="200.1" r="1.15"/><circle cx="180.7" cy="201.5" r="1.15"/><circle cx="176.3" cy="204.6" r="1.15"/><circle cx="176.4" cy="204.7" r="1.15"/><circle cx="186.7" cy="202.9" r="1.15"/><circle cx="183.6" cy="201.4" r="1.15"/><circle cx="176.8" cy="203.4" r="1.15"/><circle cx="174.9" cy="200.5" r="1.15"/><circle cx="179.5" cy="203.9" r="1.15"/><circle cx="176.9" cy="203.2" r="1.15"/><circle cx="180.2" cy="202.3" r="1.15"/><circle cx="198.5" cy="202.3" r="1.15"/><circle cx="183.3" cy="201.7" r="1.15"/><circle cx="177.5" cy="199.8" r="1.15"/><circle cx="190.7" cy="194.1" r="1.15"/><circle cx="177.3" cy="196.4" r="1.15"/><circle cx="178.5" cy="204.4" r="1.15"/><circle cx="193.2" cy="197.3" r="1.15"/><circle cx="176.7" cy="201.7" r="1.15"/><circle cx="174.5" cy="202.6" r="1.15"/><circle cx="186.8" cy="189.3" r="1.15"/><circle cx="174.4" cy="198.0" r="1.15"/><circle cx="185.5" cy="203.9" r="1.15"/><circle cx="184.4" cy="201.9" r="1.15"/><circle cx="178.1" cy="196.8" r="1.15"/><circle cx="184.8" cy="197.9" r="1.15"/><circle cx="236.6" cy="190.8" r="1.15"/><circle cx="197.5" cy="191.0" r="1.15"/><circle cx="192.9" cy="202.7" r="1.15"/><circle cx="181.3" cy="201.7" r="1.15"/><circle cx="181.5" cy="198.4" r="1.15"/><circle cx="183.3" cy="201.7" r="1.15"/><circle cx="191.4" cy="201.7" r="1.15"/><circle cx="181.7" cy="201.3" r="1.15"/><circle cx="182.8" cy="204.1" r="1.15"/><circle cx="176.4" cy="204.6" r="1.15"/><circle cx="195.8" cy="200.5" r="1.15"/><circle cx="185.9" cy="200.9" r="1.15"/><circle cx="180.2" cy="202.3" r="1.15"/><circle cx="180.0" cy="200.2" r="1.15"/><circle cx="189.6" cy="202.7" r="1.15"/><circle cx="178.1" cy="204.1" r="1.15"/><circle cx="177.0" cy="204.5" r="1.15"/><circle cx="199.4" cy="188.7" r="1.15"/><circle cx="178.6" cy="200.2" r="1.15"/><circle cx="174.5" cy="201.7" r="1.15"/><circle cx="197.3" cy="202.5" r="1.15"/><circle cx="175.0" cy="201.9" r="1.15"/><circle cx="187.7" cy="203.5" r="1.15"/><circle cx="179.1" cy="204.3" r="1.15"/><circle cx="216.7" cy="201.2" r="1.15"/><circle cx="177.5" cy="204.2" r="1.15"/><circle cx="195.9" cy="200.6" r="1.15"/><circle cx="179.5" cy="198.8" r="1.15"/><circle cx="186.5" cy="203.6" r="1.15"/><circle cx="181.2" cy="198.3" r="1.15"/><circle cx="178.4" cy="202.3" r="1.15"/><circle cx="174.5" cy="205.0" r="1.15"/><circle cx="174.6" cy="204.2" r="1.15"/><circle cx="174.5" cy="200.9" r="1.15"/><circle cx="187.4" cy="203.4" r="1.15"/><circle cx="174.3" cy="192.0" r="1.15"/><circle cx="190.9" cy="203.4" r="1.15"/><circle cx="183.6" cy="204.1" r="1.15"/><circle cx="179.1" cy="194.8" r="1.15"/><circle cx="182.1" cy="202.9" r="1.15"/><circle cx="174.2" cy="204.3" r="1.15"/><circle cx="174.2" cy="204.9" r="1.15"/><circle cx="176.6" cy="204.7" r="1.15"/><circle cx="175.7" cy="197.4" r="1.15"/><circle cx="182.0" cy="200.5" r="1.15"/><circle cx="175.8" cy="203.3" r="1.15"/><circle cx="185.4" cy="202.1" r="1.15"/><circle cx="194.1" cy="202.9" r="1.15"/><circle cx="81.5" cy="175.3" r="1.15"/><circle cx="100.9" cy="187.5" r="1.15"/><circle cx="109.0" cy="178.2" r="1.15"/><circle cx="131.0" cy="185.2" r="1.15"/><circle cx="135.3" cy="148.0" r="1.15"/><circle cx="174.5" cy="162.5" r="1.15"/><circle cx="174.5" cy="168.0" r="1.15"/><circle cx="178.8" cy="180.6" r="1.15"/><circle cx="201.8" cy="186.7" r="1.15"/><circle cx="214.2" cy="195.1" r="1.15"/><circle cx="219.5" cy="198.1" r="1.15"/><circle cx="206.2" cy="195.8" r="1.15"/><circle cx="208.9" cy="201.2" r="1.15"/><circle cx="199.2" cy="200.0" r="1.15"/></g>
<line x1="138.1" y1="56.4" x2="138.1" y2="223.0" stroke="#555" stroke-width="0.6" stroke-dasharray="2,1.3"/>
<line x1="173.5" y1="56.4" x2="173.5" y2="223.0" stroke="#555" stroke-width="0.6" stroke-dasharray="2,1.3"/>
<line x1="38.5" y1="205.7" x2="273.3" y2="205.7" stroke="#555" stroke-width="0.6" stroke-dasharray="2,1.3"/>
<line x1="38.5" y1="56.4" x2="38.5" y2="223.5" stroke="#6a6a6a" stroke-width="1.1"/>
<line x1="38.0" y1="223.0" x2="273.3" y2="223.0" stroke="#5a5a5a" stroke-width="1.0"/>
<line x1="36.5" y1="215.6" x2="38.5" y2="215.6" stroke="#333" stroke-width="0.6"/>
<text x="35.0" y="217.8" font-size="6.4" text-anchor="end" fill="#4d4d4d">0</text>
<line x1="36.5" y1="177.6" x2="38.5" y2="177.6" stroke="#333" stroke-width="0.6"/>
<text x="35.0" y="179.8" font-size="6.4" text-anchor="end" fill="#4d4d4d">5</text>
<line x1="36.5" y1="139.6" x2="38.5" y2="139.6" stroke="#333" stroke-width="0.6"/>
<text x="35.0" y="141.8" font-size="6.4" text-anchor="end" fill="#4d4d4d">10</text>
<line x1="36.5" y1="101.6" x2="38.5" y2="101.6" stroke="#333" stroke-width="0.6"/>
<text x="35.0" y="103.8" font-size="6.4" text-anchor="end" fill="#4d4d4d">15</text>
<line x1="36.5" y1="63.6" x2="38.5" y2="63.6" stroke="#333" stroke-width="0.6"/>
<text x="35.0" y="65.8" font-size="6.4" text-anchor="end" fill="#4d4d4d">20</text>
<line x1="49.6" y1="223.0" x2="49.6" y2="225.0" stroke="#333" stroke-width="0.6"/>
<text x="49.6" y="232.3" font-size="6.4" text-anchor="middle" fill="#4d4d4d">-6</text>
<line x1="102.7" y1="223.0" x2="102.7" y2="225.0" stroke="#333" stroke-width="0.6"/>
<text x="102.7" y="232.3" font-size="6.4" text-anchor="middle" fill="#4d4d4d">-3</text>
<line x1="155.8" y1="223.0" x2="155.8" y2="225.0" stroke="#333" stroke-width="0.6"/>
<text x="155.8" y="232.3" font-size="6.4" text-anchor="middle" fill="#4d4d4d">0</text>
<line x1="208.9" y1="223.0" x2="208.9" y2="225.0" stroke="#333" stroke-width="0.6"/>
<text x="208.9" y="232.3" font-size="6.4" text-anchor="middle" fill="#4d4d4d">3</text>
<line x1="262.0" y1="223.0" x2="262.0" y2="225.0" stroke="#333" stroke-width="0.6"/>
<text x="262.0" y="232.3" font-size="6.4" text-anchor="middle" fill="#4d4d4d">6</text>
<text x="157.1" y="240.5" font-size="6.6" text-anchor="middle" fill="#222">Log<tspan font-size="4.4" dy="1.5">2</tspan><tspan dy="-1.5"> fold change</tspan></text>
<text transform="translate(23.9,138.7) rotate(-90)" font-size="6.8" text-anchor="middle" fill="#222">– Log<tspan font-size="4.7" dy="1.6">10</tspan><tspan dy="-1.6" font-style="italic"> P</tspan></text>
<circle cx="86.5" cy="40.3" r="2.1" fill="#a6a6a6"/>
<circle cx="107.6" cy="40.3" r="2.1" fill="#90c890"/>
<circle cx="140.8" cy="40.3" r="2.1" fill="#a0b4f0"/>
<circle cx="171.3" cy="40.3" r="2.1" fill="#f08080"/>
<text x="94.1" y="42.4" font-size="6" font-weight="bold">NS</text>
<text x="113.9" y="42.4" font-size="6" font-weight="bold">Log<tspan font-size="4.2" dy="1.4">2</tspan><tspan dy="-1.4"> FC</tspan></text>
<text x="146.2" y="42.4" font-size="6" font-weight="bold">p-value</text>
<text x="175.4" y="42.4" font-size="6" font-weight="bold">p-value and log<tspan font-size="4.2" dy="1.4">2</tspan><tspan dy="-1.4"> FC</tspan></text>
<text x="275.5" y="251.3" font-size="7.6" font-weight="bold" text-anchor="end">Total: 5208 variables</text>
<text x="275.5" y="260.4" font-size="7.6" font-weight="bold" text-anchor="end">Up regulated: 142</text>
<text x="275.5" y="269.5" font-size="7.6" font-weight="bold" text-anchor="end">Down regulated: 187</text>
<text x="83.6" y="176.2" font-size="9.2" font-weight="bold">H3f3c</text>
<text x="64.0" y="186.6" font-size="9.3" font-weight="bold">Lamtor1</text>
<text x="110.9" y="181.1" font-size="7.6" font-weight="bold">Naa20</text>
<text x="98.2" y="192.6" font-size="7.4" font-weight="bold">Ppial4d</text>
<text x="124.4" y="174.8" font-size="7.4" font-weight="bold">Ctbp1</text>
<text x="146.2" y="177.3" font-size="7.3" font-weight="bold">Snrpe</text>
<text x="137.2" y="181.6" font-size="5.8" font-weight="bold" fill="#3a3a3a" stroke="#3a3a3a" stroke-width="0.18">Hdbd2</text>
<text x="139.8" y="188.4" font-size="5.6" font-weight="bold" fill="#333" stroke="#333" stroke-width="0.18">Snrpg</text>
<text x="128.2" y="186.8" font-size="5.6" font-weight="bold" fill="#333" stroke="#333" stroke-width="0.18">Id</text>
<text x="155.6" y="187.6" font-size="7.3" font-weight="bold">Zranb2</text>
<text x="160.4" y="161.5" font-size="7.3" font-weight="bold">Ddt</text>
<text x="176.0" y="167.2" font-size="7.4" font-weight="bold">Dab2</text>
<text x="183.0" y="185.1" font-size="7.6" font-weight="bold">Vgll4</text>
<text x="204.2" y="192.6" font-size="7.6" font-weight="bold">Rasgrp2</text>
<text x="225.0" y="201.3" font-size="7.4" font-weight="bold">Ervfrd-1</text>
<line x1="316.2" y1="57.3" x2="316.2" y2="224" stroke="#e6e6e6" stroke-width="0.7"/><line x1="342.8" y1="57.3" x2="342.8" y2="224" stroke="#f1f1f1" stroke-width="0.7"/><line x1="369.3" y1="57.3" x2="369.3" y2="224" stroke="#e6e6e6" stroke-width="0.7"/><line x1="395.8" y1="57.3" x2="395.8" y2="224" stroke="#f1f1f1" stroke-width="0.7"/><line x1="422.4" y1="57.3" x2="422.4" y2="224" stroke="#e6e6e6" stroke-width="0.7"/><line x1="448.9" y1="57.3" x2="448.9" y2="224" stroke="#f1f1f1" stroke-width="0.7"/><line x1="475.5" y1="57.3" x2="475.5" y2="224" stroke="#e6e6e6" stroke-width="0.7"/><line x1="502.0" y1="57.3" x2="502.0" y2="224" stroke="#f1f1f1" stroke-width="0.7"/><line x1="528.6" y1="57.3" x2="528.6" y2="224" stroke="#e6e6e6" stroke-width="0.7"/><line x1="304.5" y1="216.6" x2="539" y2="216.6" stroke="#e6e6e6" stroke-width="0.7"/><line x1="304.5" y1="197.6" x2="539" y2="197.6" stroke="#f1f1f1" stroke-width="0.7"/><line x1="304.5" y1="178.6" x2="539" y2="178.6" stroke="#e6e6e6" stroke-width="0.7"/><line x1="304.5" y1="159.6" x2="539" y2="159.6" stroke="#f1f1f1" stroke-width="0.7"/><line x1="304.5" y1="140.6" x2="539" y2="140.6" stroke="#e6e6e6" stroke-width="0.7"/><line x1="304.5" y1="121.6" x2="539" y2="121.6" stroke="#f1f1f1" stroke-width="0.7"/><line x1="304.5" y1="102.6" x2="539" y2="102.6" stroke="#e6e6e6" stroke-width="0.7"/><line x1="304.5" y1="83.6" x2="539" y2="83.6" stroke="#f1f1f1" stroke-width="0.7"/><line x1="304.5" y1="64.6" x2="539" y2="64.6" stroke="#e6e6e6" stroke-width="0.7"/>
<path d="M404.7,206.7 H421.3 V216.0 Q421.3,217.5 418.9,217.5 H407.7 Q404.7,217.5 404.7,214.5Z" fill="#4a4a4a"/><path d="M423.8,206.7 H440.1 V214.5 Q440.1,217.5 437.1,217.5 H426.3 Q423.8,217.5 423.8,216.0Z" fill="#4a4a4a"/><path d="M374.7,206.9 L404.7,206.9 L404.7,216.1 Q390.7,212.7 374.7,206.9 Z" fill="#55b040" opacity="0.9"/><path d="M440.1,206.9 L453.1,206.9 Q446.1,210.7 440.1,216.1 Z" fill="#55b040"/><g fill="#55b040" fill-opacity="0.75"><circle cx="392.1" cy="209.6" r="1.15"/><circle cx="403.5" cy="208.2" r="1.15"/><circle cx="392.5" cy="208.0" r="1.15"/><circle cx="394.7" cy="210.7" r="1.15"/><circle cx="386.0" cy="211.3" r="1.15"/><circle cx="398.0" cy="208.3" r="1.15"/><circle cx="387.4" cy="209.3" r="1.15"/><circle cx="394.9" cy="211.4" r="1.15"/><circle cx="385.2" cy="209.6" r="1.15"/><circle cx="370.6" cy="208.7" r="1.15"/><circle cx="400.8" cy="213.0" r="1.15"/><circle cx="384.4" cy="207.9" r="1.15"/><circle cx="388.7" cy="210.8" r="1.15"/><circle cx="399.2" cy="211.0" r="1.15"/><circle cx="402.8" cy="208.8" r="1.15"/><circle cx="395.7" cy="207.9" r="1.15"/><circle cx="401.6" cy="208.9" r="1.15"/><circle cx="383.3" cy="208.6" r="1.15"/><circle cx="382.6" cy="210.2" r="1.15"/><circle cx="393.4" cy="207.8" r="1.15"/><circle cx="403.9" cy="211.4" r="1.15"/><circle cx="402.3" cy="209.0" r="1.15"/><circle cx="392.0" cy="209.8" r="1.15"/><circle cx="396.4" cy="210.5" r="1.15"/><circle cx="390.8" cy="207.7" r="1.15"/><circle cx="404.2" cy="209.5" r="1.15"/><circle cx="395.1" cy="207.8" r="1.15"/><circle cx="401.9" cy="208.7" r="1.15"/><circle cx="397.2" cy="211.9" r="1.15"/><circle cx="403.6" cy="213.0" r="1.15"/><circle cx="382.4" cy="208.2" r="1.15"/><circle cx="375.7" cy="207.7" r="1.15"/><circle cx="399.5" cy="210.4" r="1.15"/><circle cx="369.2" cy="207.6" r="1.15"/><circle cx="404.3" cy="213.9" r="1.15"/><circle cx="395.9" cy="209.6" r="1.15"/><circle cx="395.2" cy="211.5" r="1.15"/><circle cx="402.4" cy="212.6" r="1.15"/><circle cx="368.3" cy="208.4" r="1.15"/><circle cx="374.6" cy="208.4" r="1.15"/><circle cx="403.1" cy="210.1" r="1.15"/><circle cx="402.6" cy="208.1" r="1.15"/><circle cx="395.5" cy="211.8" r="1.15"/><circle cx="379.9" cy="209.0" r="1.15"/><circle cx="388.7" cy="211.0" r="1.15"/><circle cx="385.2" cy="209.7" r="1.15"/><circle cx="390.8" cy="209.6" r="1.15"/><circle cx="391.9" cy="208.6" r="1.15"/><circle cx="402.5" cy="209.8" r="1.15"/><circle cx="403.6" cy="212.7" r="1.15"/><circle cx="404.1" cy="213.5" r="1.15"/><circle cx="389.7" cy="209.9" r="1.15"/><circle cx="404.6" cy="207.6" r="1.15"/><circle cx="397.1" cy="209.1" r="1.15"/><circle cx="395.6" cy="210.3" r="1.15"/><circle cx="404.0" cy="213.8" r="1.15"/><circle cx="363.6" cy="207.7" r="1.15"/><circle cx="395.0" cy="210.2" r="1.15"/><circle cx="401.4" cy="212.0" r="1.15"/><circle cx="391.6" cy="208.4" r="1.15"/><circle cx="390.7" cy="209.2" r="1.15"/><circle cx="386.8" cy="209.6" r="1.15"/><circle cx="402.4" cy="211.9" r="1.15"/><circle cx="399.9" cy="212.3" r="1.15"/><circle cx="403.9" cy="213.0" r="1.15"/><circle cx="394.7" cy="208.1" r="1.15"/><circle cx="396.5" cy="208.0" r="1.15"/><circle cx="390.2" cy="210.4" r="1.15"/><circle cx="401.5" cy="208.8" r="1.15"/><circle cx="384.2" cy="207.7" r="1.15"/><circle cx="389.7" cy="208.9" r="1.15"/><circle cx="399.5" cy="209.6" r="1.15"/><circle cx="403.6" cy="211.1" r="1.15"/><circle cx="394.1" cy="211.0" r="1.15"/><circle cx="402.4" cy="209.4" r="1.15"/><circle cx="404.5" cy="211.0" r="1.15"/><circle cx="398.8" cy="210.0" r="1.15"/><circle cx="380.0" cy="208.1" r="1.15"/><circle cx="399.8" cy="212.9" r="1.15"/><circle cx="394.9" cy="212.2" r="1.15"/><circle cx="381.6" cy="209.7" r="1.15"/><circle cx="443.4" cy="209.3" r="1.15"/><circle cx="440.4" cy="209.9" r="1.15"/><circle cx="443.2" cy="208.9" r="1.15"/><circle cx="442.7" cy="209.1" r="1.15"/><circle cx="443.6" cy="211.1" r="1.15"/><circle cx="440.8" cy="211.1" r="1.15"/><circle cx="445.5" cy="210.4" r="1.15"/><circle cx="446.2" cy="208.0" r="1.15"/><circle cx="463.4" cy="208.9" r="1.15"/><circle cx="454.0" cy="209.0" r="1.15"/><circle cx="445.2" cy="208.2" r="1.15"/><circle cx="442.0" cy="211.3" r="1.15"/><circle cx="449.4" cy="207.9" r="1.15"/><circle cx="446.9" cy="209.8" r="1.15"/><circle cx="441.2" cy="212.1" r="1.15"/><circle cx="458.5" cy="208.9" r="1.15"/><circle cx="441.8" cy="211.0" r="1.15"/><circle cx="442.9" cy="207.7" r="1.15"/><circle cx="443.7" cy="208.3" r="1.15"/><circle cx="448.5" cy="208.3" r="1.15"/><circle cx="449.5" cy="208.6" r="1.15"/><circle cx="445.0" cy="210.3" r="1.15"/><circle cx="443.9" cy="211.2" r="1.15"/><circle cx="444.0" cy="210.4" r="1.15"/><circle cx="441.4" cy="208.0" r="1.15"/><circle cx="453.3" cy="209.7" r="1.15"/><circle cx="460.9" cy="208.3" r="1.15"/><circle cx="455.5" cy="208.9" r="1.15"/><circle cx="445.4" cy="209.0" r="1.15"/><circle cx="444.3" cy="209.1" r="1.15"/><circle cx="454.1" cy="209.3" r="1.15"/><circle cx="444.0" cy="211.0" r="1.15"/><circle cx="453.7" cy="209.8" r="1.15"/><circle cx="456.1" cy="208.2" r="1.15"/><circle cx="484.7" cy="209.0" r="1.15"/></g><g fill="#4a72e4" fill-opacity="0.65"><circle cx="439.4" cy="205.1" r="1.15"/><circle cx="434.0" cy="203.0" r="1.15"/><circle cx="435.3" cy="203.3" r="1.15"/><circle cx="433.2" cy="205.6" r="1.15"/><circle cx="411.6" cy="200.5" r="1.15"/><circle cx="417.3" cy="205.3" r="1.15"/><circle cx="408.0" cy="197.9" r="1.15"/><circle cx="429.9" cy="205.5" r="1.15"/><circle cx="425.3" cy="198.9" r="1.15"/><circle cx="439.5" cy="200.3" r="1.15"/><circle cx="426.8" cy="205.8" r="1.15"/><circle cx="438.5" cy="176.1" r="1.15"/><circle cx="405.7" cy="203.4" r="1.15"/><circle cx="413.5" cy="199.6" r="1.15"/><circle cx="416.3" cy="206.1" r="1.15"/><circle cx="425.8" cy="202.0" r="1.15"/><circle cx="415.6" cy="203.7" r="1.15"/><circle cx="437.0" cy="196.5" r="1.15"/><circle cx="411.0" cy="202.2" r="1.15"/><circle cx="414.2" cy="201.3" r="1.15"/><circle cx="435.0" cy="204.7" r="1.15"/><circle cx="426.2" cy="201.9" r="1.15"/><circle cx="406.7" cy="206.0" r="1.15"/><circle cx="426.0" cy="198.3" r="1.15"/><circle cx="431.3" cy="205.9" r="1.15"/><circle cx="409.6" cy="203.2" r="1.15"/><circle cx="428.1" cy="197.0" r="1.15"/><circle cx="406.4" cy="191.1" r="1.15"/><circle cx="406.8" cy="201.1" r="1.15"/><circle cx="410.9" cy="202.9" r="1.15"/><circle cx="439.5" cy="204.8" r="1.15"/><circle cx="424.6" cy="204.3" r="1.15"/><circle cx="409.0" cy="193.7" r="1.15"/><circle cx="432.5" cy="190.8" r="1.15"/><circle cx="415.7" cy="205.5" r="1.15"/><circle cx="406.4" cy="197.8" r="1.15"/><circle cx="408.2" cy="204.1" r="1.15"/><circle cx="438.2" cy="205.1" r="1.15"/><circle cx="438.5" cy="191.4" r="1.15"/><circle cx="432.8" cy="205.1" r="1.15"/><circle cx="408.0" cy="205.3" r="1.15"/><circle cx="424.8" cy="205.5" r="1.15"/><circle cx="431.5" cy="203.9" r="1.15"/><circle cx="405.4" cy="198.9" r="1.15"/><circle cx="434.8" cy="200.0" r="1.15"/><circle cx="419.2" cy="195.8" r="1.15"/><circle cx="429.3" cy="194.1" r="1.15"/><circle cx="407.1" cy="195.1" r="1.15"/><circle cx="430.8" cy="204.6" r="1.15"/><circle cx="407.3" cy="204.8" r="1.15"/><circle cx="406.3" cy="181.8" r="1.15"/><circle cx="438.1" cy="198.9" r="1.15"/><circle cx="419.6" cy="205.7" r="1.15"/><circle cx="417.2" cy="205.0" r="1.15"/><circle cx="415.3" cy="204.9" r="1.15"/><circle cx="433.3" cy="205.0" r="1.15"/><circle cx="405.4" cy="193.3" r="1.15"/><circle cx="412.7" cy="203.3" r="1.15"/><circle cx="418.7" cy="205.7" r="1.15"/><circle cx="408.7" cy="205.9" r="1.15"/><circle cx="409.7" cy="197.4" r="1.15"/><circle cx="408.6" cy="202.2" r="1.15"/><circle cx="408.1" cy="205.0" r="1.15"/><circle cx="433.5" cy="203.3" r="1.15"/><circle cx="438.9" cy="205.3" r="1.15"/><circle cx="434.6" cy="202.9" r="1.15"/><circle cx="435.6" cy="202.0" r="1.15"/><circle cx="433.9" cy="198.6" r="1.15"/><circle cx="427.7" cy="199.9" r="1.15"/><circle cx="407.9" cy="205.1" r="1.15"/><circle cx="436.2" cy="204.0" r="1.15"/><circle cx="439.0" cy="184.8" r="1.15"/><circle cx="417.6" cy="204.4" r="1.15"/><circle cx="434.4" cy="187.2" r="1.15"/><circle cx="419.0" cy="204.5" r="1.15"/><circle cx="430.1" cy="199.8" r="1.15"/><circle cx="437.0" cy="204.7" r="1.15"/><circle cx="418.5" cy="205.6" r="1.15"/><circle cx="434.2" cy="203.4" r="1.15"/><circle cx="407.0" cy="201.8" r="1.15"/><circle cx="428.4" cy="205.8" r="1.15"/><circle cx="436.2" cy="203.3" r="1.15"/><circle cx="431.7" cy="203.7" r="1.15"/><circle cx="427.1" cy="205.1" r="1.15"/><circle cx="415.6" cy="193.2" r="1.15"/><circle cx="417.5" cy="205.6" r="1.15"/><circle cx="410.6" cy="204.1" r="1.15"/><circle cx="413.1" cy="205.0" r="1.15"/><circle cx="406.9" cy="205.0" r="1.15"/><circle cx="430.5" cy="203.5" r="1.15"/><circle cx="409.5" cy="203.3" r="1.15"/><circle cx="436.6" cy="205.1" r="1.15"/><circle cx="417.0" cy="204.0" r="1.15"/><circle cx="435.2" cy="192.4" r="1.15"/><circle cx="432.1" cy="204.2" r="1.15"/><circle cx="426.8" cy="203.6" r="1.15"/><circle cx="406.8" cy="198.7" r="1.15"/><circle cx="416.7" cy="201.7" r="1.15"/><circle cx="406.2" cy="201.0" r="1.15"/><circle cx="416.6" cy="205.3" r="1.15"/><circle cx="436.8" cy="205.9" r="1.15"/><circle cx="428.6" cy="205.7" r="1.15"/><circle cx="438.4" cy="195.7" r="1.15"/><circle cx="406.4" cy="200.6" r="1.15"/><circle cx="436.4" cy="204.7" r="1.15"/><circle cx="426.4" cy="205.1" r="1.15"/><circle cx="419.0" cy="205.3" r="1.15"/><circle cx="409.0" cy="199.6" r="1.15"/><circle cx="435.8" cy="199.8" r="1.15"/><circle cx="431.3" cy="199.8" r="1.15"/><circle cx="409.9" cy="203.9" r="1.15"/><circle cx="408.2" cy="200.2" r="1.15"/><circle cx="409.9" cy="201.2" r="1.15"/><circle cx="428.0" cy="205.1" r="1.15"/><circle cx="418.6" cy="205.0" r="1.15"/><circle cx="416.2" cy="205.3" r="1.15"/><circle cx="427.5" cy="203.1" r="1.15"/><circle cx="419.3" cy="198.0" r="1.15"/><circle cx="411.2" cy="205.5" r="1.15"/><circle cx="405.9" cy="197.2" r="1.15"/><circle cx="407.6" cy="204.9" r="1.15"/><circle cx="436.5" cy="202.9" r="1.15"/><circle cx="434.5" cy="203.3" r="1.15"/><circle cx="411.5" cy="204.2" r="1.15"/><circle cx="439.1" cy="185.5" r="1.15"/><circle cx="409.0" cy="179.2" r="1.15"/><circle cx="431.1" cy="202.5" r="1.15"/><circle cx="405.9" cy="203.4" r="1.15"/><circle cx="438.5" cy="205.5" r="1.15"/><circle cx="407.0" cy="205.7" r="1.15"/><circle cx="436.2" cy="203.9" r="1.15"/><circle cx="411.0" cy="200.1" r="1.15"/><circle cx="419.8" cy="203.4" r="1.15"/><circle cx="418.4" cy="206.1" r="1.15"/><circle cx="438.8" cy="176.9" r="1.15"/><circle cx="409.9" cy="204.1" r="1.15"/><circle cx="405.9" cy="201.6" r="1.15"/><circle cx="435.9" cy="196.9" r="1.15"/><circle cx="405.9" cy="193.4" r="1.15"/><circle cx="433.8" cy="201.8" r="1.15"/><circle cx="436.7" cy="197.6" r="1.15"/><circle cx="434.7" cy="202.2" r="1.15"/><circle cx="407.1" cy="187.7" r="1.15"/><circle cx="412.4" cy="200.1" r="1.15"/><circle cx="418.2" cy="205.6" r="1.15"/><circle cx="424.5" cy="206.1" r="1.15"/><circle cx="436.8" cy="203.8" r="1.15"/><circle cx="433.5" cy="201.0" r="1.15"/><circle cx="429.8" cy="197.3" r="1.15"/><circle cx="406.7" cy="204.8" r="1.15"/><circle cx="409.9" cy="203.4" r="1.15"/><circle cx="433.3" cy="195.5" r="1.15"/><circle cx="425.6" cy="201.6" r="1.15"/><circle cx="435.7" cy="200.8" r="1.15"/><circle cx="406.8" cy="176.8" r="1.15"/><circle cx="437.1" cy="184.1" r="1.15"/><circle cx="418.1" cy="205.2" r="1.15"/><circle cx="424.8" cy="205.9" r="1.15"/><circle cx="437.7" cy="201.1" r="1.15"/><circle cx="410.1" cy="204.6" r="1.15"/><circle cx="412.4" cy="200.8" r="1.15"/><circle cx="415.5" cy="201.4" r="1.15"/><circle cx="429.0" cy="205.0" r="1.15"/><circle cx="435.6" cy="204.4" r="1.15"/><circle cx="409.1" cy="205.5" r="1.15"/><circle cx="406.8" cy="205.4" r="1.15"/><circle cx="417.4" cy="200.3" r="1.15"/><circle cx="406.0" cy="204.5" r="1.15"/><circle cx="406.6" cy="201.0" r="1.15"/><circle cx="406.9" cy="205.6" r="1.15"/><circle cx="434.5" cy="186.9" r="1.15"/><circle cx="433.9" cy="199.3" r="1.15"/><circle cx="410.1" cy="197.2" r="1.15"/><circle cx="408.9" cy="197.7" r="1.15"/><circle cx="437.4" cy="202.7" r="1.15"/><circle cx="415.9" cy="204.4" r="1.15"/><circle cx="435.5" cy="203.0" r="1.15"/><circle cx="427.8" cy="204.2" r="1.15"/><circle cx="414.6" cy="201.1" r="1.15"/><circle cx="438.3" cy="196.7" r="1.15"/><circle cx="409.3" cy="195.8" r="1.15"/><circle cx="419.1" cy="205.3" r="1.15"/><circle cx="411.8" cy="202.3" r="1.15"/><circle cx="405.6" cy="204.3" r="1.15"/><circle cx="432.6" cy="205.1" r="1.15"/><circle cx="413.7" cy="195.0" r="1.15"/><circle cx="436.9" cy="205.6" r="1.15"/><circle cx="437.9" cy="202.1" r="1.15"/><circle cx="437.7" cy="192.0" r="1.15"/><circle cx="410.3" cy="200.1" r="1.15"/><circle cx="432.8" cy="204.0" r="1.15"/><circle cx="417.1" cy="201.5" r="1.15"/><circle cx="434.0" cy="206.1" r="1.15"/><circle cx="412.8" cy="206.0" r="1.15"/><circle cx="406.5" cy="201.9" r="1.15"/><circle cx="438.8" cy="204.4" r="1.15"/><circle cx="408.0" cy="200.3" r="1.15"/><circle cx="436.0" cy="205.7" r="1.15"/><circle cx="405.4" cy="200.9" r="1.15"/><circle cx="405.8" cy="203.9" r="1.15"/><circle cx="428.2" cy="203.5" r="1.15"/><circle cx="410.7" cy="205.1" r="1.15"/><circle cx="413.2" cy="199.6" r="1.15"/><circle cx="436.2" cy="195.2" r="1.15"/><circle cx="432.3" cy="201.0" r="1.15"/><circle cx="426.6" cy="206.1" r="1.15"/><circle cx="416.0" cy="197.9" r="1.15"/><circle cx="405.6" cy="206.0" r="1.15"/><circle cx="432.2" cy="204.1" r="1.15"/><circle cx="412.1" cy="201.8" r="1.15"/><circle cx="427.0" cy="204.5" r="1.15"/><circle cx="412.0" cy="205.2" r="1.15"/><circle cx="409.8" cy="206.1" r="1.15"/><circle cx="410.1" cy="204.1" r="1.15"/><circle cx="438.1" cy="205.4" r="1.15"/><circle cx="414.4" cy="186.4" r="1.15"/><circle cx="413.0" cy="206.0" r="1.15"/><circle cx="439.4" cy="202.6" r="1.15"/><circle cx="406.1" cy="199.3" r="1.15"/><circle cx="414.5" cy="204.3" r="1.15"/><circle cx="408.5" cy="204.4" r="1.15"/><circle cx="437.6" cy="197.0" r="1.15"/><circle cx="438.9" cy="202.4" r="1.15"/><circle cx="435.6" cy="205.9" r="1.15"/><circle cx="424.8" cy="205.6" r="1.15"/><circle cx="429.6" cy="202.5" r="1.15"/><circle cx="426.1" cy="205.4" r="1.15"/><circle cx="413.5" cy="202.4" r="1.15"/><circle cx="438.7" cy="196.1" r="1.15"/><circle cx="416.3" cy="205.1" r="1.15"/><circle cx="407.2" cy="202.8" r="1.15"/><circle cx="432.2" cy="193.3" r="1.15"/><circle cx="438.7" cy="201.4" r="1.15"/><circle cx="432.2" cy="190.9" r="1.15"/><circle cx="406.9" cy="205.7" r="1.15"/><circle cx="407.7" cy="204.4" r="1.15"/><circle cx="407.7" cy="203.3" r="1.15"/><circle cx="417.8" cy="194.2" r="1.15"/><circle cx="412.3" cy="202.3" r="1.15"/><circle cx="406.6" cy="201.9" r="1.15"/><circle cx="435.5" cy="203.9" r="1.15"/><circle cx="416.4" cy="205.0" r="1.15"/><circle cx="432.0" cy="203.0" r="1.15"/><circle cx="425.9" cy="205.0" r="1.15"/><circle cx="430.2" cy="200.3" r="1.15"/><circle cx="414.8" cy="203.1" r="1.15"/><circle cx="415.0" cy="201.7" r="1.15"/><circle cx="417.2" cy="205.6" r="1.15"/><circle cx="427.1" cy="204.8" r="1.15"/><circle cx="406.1" cy="204.3" r="1.15"/><circle cx="436.8" cy="203.6" r="1.15"/><circle cx="427.6" cy="203.2" r="1.15"/><circle cx="419.4" cy="205.7" r="1.15"/><circle cx="426.9" cy="205.5" r="1.15"/><circle cx="438.4" cy="199.5" r="1.15"/><circle cx="406.4" cy="196.1" r="1.15"/><circle cx="405.6" cy="194.2" r="1.15"/><circle cx="431.8" cy="205.5" r="1.15"/><circle cx="433.9" cy="203.8" r="1.15"/><circle cx="412.5" cy="203.2" r="1.15"/><circle cx="412.0" cy="203.2" r="1.15"/><circle cx="437.7" cy="203.7" r="1.15"/><circle cx="416.7" cy="206.1" r="1.15"/><circle cx="407.8" cy="192.9" r="1.15"/><circle cx="426.4" cy="204.3" r="1.15"/><circle cx="406.2" cy="202.3" r="1.15"/><circle cx="436.5" cy="201.5" r="1.15"/><circle cx="414.2" cy="205.6" r="1.15"/><circle cx="439.4" cy="204.5" r="1.15"/><circle cx="426.3" cy="202.5" r="1.15"/><circle cx="419.5" cy="205.4" r="1.15"/><circle cx="436.4" cy="203.0" r="1.15"/><circle cx="416.5" cy="198.1" r="1.15"/><circle cx="439.2" cy="197.0" r="1.15"/><circle cx="426.8" cy="205.1" r="1.15"/><circle cx="408.3" cy="205.2" r="1.15"/><circle cx="431.8" cy="203.6" r="1.15"/><circle cx="405.6" cy="201.7" r="1.15"/><circle cx="438.7" cy="194.8" r="1.15"/><circle cx="439.0" cy="205.9" r="1.15"/><circle cx="408.2" cy="189.0" r="1.15"/><circle cx="405.4" cy="199.9" r="1.15"/><circle cx="410.0" cy="198.9" r="1.15"/><circle cx="437.1" cy="203.0" r="1.15"/><circle cx="426.3" cy="206.0" r="1.15"/><circle cx="406.4" cy="194.2" r="1.15"/><circle cx="433.2" cy="205.7" r="1.15"/><circle cx="406.7" cy="195.8" r="1.15"/><circle cx="408.3" cy="202.9" r="1.15"/><circle cx="408.3" cy="181.2" r="1.15"/><circle cx="433.0" cy="201.8" r="1.15"/><circle cx="411.2" cy="203.7" r="1.15"/><circle cx="411.9" cy="199.8" r="1.15"/><circle cx="405.6" cy="200.7" r="1.15"/><circle cx="434.9" cy="205.1" r="1.15"/><circle cx="413.2" cy="199.9" r="1.15"/><circle cx="430.8" cy="203.6" r="1.15"/><circle cx="438.3" cy="203.7" r="1.15"/><circle cx="406.2" cy="191.4" r="1.15"/><circle cx="414.2" cy="205.9" r="1.15"/><circle cx="407.8" cy="202.2" r="1.15"/><circle cx="405.4" cy="203.6" r="1.15"/><circle cx="437.9" cy="192.0" r="1.15"/><circle cx="433.7" cy="199.8" r="1.15"/><circle cx="436.6" cy="192.0" r="1.15"/><circle cx="408.1" cy="205.4" r="1.15"/><circle cx="408.4" cy="191.7" r="1.15"/><circle cx="430.2" cy="188.3" r="1.15"/><circle cx="416.3" cy="200.3" r="1.15"/><circle cx="432.3" cy="203.0" r="1.15"/><circle cx="407.2" cy="205.9" r="1.15"/><circle cx="407.6" cy="204.8" r="1.15"/><circle cx="407.7" cy="203.9" r="1.15"/><circle cx="434.6" cy="205.1" r="1.15"/><circle cx="437.4" cy="204.7" r="1.15"/><circle cx="437.9" cy="200.1" r="1.15"/><circle cx="436.3" cy="201.5" r="1.15"/><circle cx="434.4" cy="205.1" r="1.15"/><circle cx="416.9" cy="202.8" r="1.15"/><circle cx="414.2" cy="199.6" r="1.15"/><circle cx="437.7" cy="201.8" r="1.15"/><circle cx="432.6" cy="201.7" r="1.15"/><circle cx="409.2" cy="203.2" r="1.15"/><circle cx="412.6" cy="206.0" r="1.15"/><circle cx="430.2" cy="200.0" r="1.15"/><circle cx="437.4" cy="205.7" r="1.15"/><circle cx="409.5" cy="203.2" r="1.15"/><circle cx="418.8" cy="206.0" r="1.15"/><circle cx="439.3" cy="204.6" r="1.15"/><circle cx="437.6" cy="204.2" r="1.15"/><circle cx="427.5" cy="202.9" r="1.15"/><circle cx="435.1" cy="206.0" r="1.15"/><circle cx="426.4" cy="206.0" r="1.15"/><circle cx="427.8" cy="206.1" r="1.15"/><circle cx="433.5" cy="185.8" r="1.15"/><circle cx="426.9" cy="205.9" r="1.15"/><circle cx="437.1" cy="200.3" r="1.15"/><circle cx="405.7" cy="201.8" r="1.15"/><circle cx="439.5" cy="203.4" r="1.15"/><circle cx="417.8" cy="206.1" r="1.15"/><circle cx="411.0" cy="198.1" r="1.15"/><circle cx="425.1" cy="201.3" r="1.15"/><circle cx="435.3" cy="202.4" r="1.15"/><circle cx="406.3" cy="203.7" r="1.15"/><circle cx="405.7" cy="201.6" r="1.15"/><circle cx="411.0" cy="203.4" r="1.15"/><circle cx="411.1" cy="204.4" r="1.15"/><circle cx="432.9" cy="205.5" r="1.15"/><circle cx="407.5" cy="201.2" r="1.15"/><circle cx="415.0" cy="204.5" r="1.15"/><circle cx="437.2" cy="203.5" r="1.15"/><circle cx="438.5" cy="204.7" r="1.15"/><circle cx="430.4" cy="205.0" r="1.15"/><circle cx="407.7" cy="178.3" r="1.15"/><circle cx="409.8" cy="203.9" r="1.15"/><circle cx="417.8" cy="205.0" r="1.15"/><circle cx="405.4" cy="193.5" r="1.15"/><circle cx="437.3" cy="202.4" r="1.15"/><circle cx="438.0" cy="201.1" r="1.15"/><circle cx="427.6" cy="205.8" r="1.15"/><circle cx="437.8" cy="204.7" r="1.15"/><circle cx="411.0" cy="199.3" r="1.15"/><circle cx="427.2" cy="204.2" r="1.15"/><circle cx="435.9" cy="189.2" r="1.15"/><circle cx="416.8" cy="200.3" r="1.15"/><circle cx="433.4" cy="205.8" r="1.15"/><circle cx="436.6" cy="201.5" r="1.15"/><circle cx="426.7" cy="205.2" r="1.15"/><circle cx="437.3" cy="205.0" r="1.15"/><circle cx="433.2" cy="196.9" r="1.15"/><circle cx="416.9" cy="203.4" r="1.15"/><circle cx="416.4" cy="205.5" r="1.15"/><circle cx="406.2" cy="202.0" r="1.15"/><circle cx="410.7" cy="204.2" r="1.15"/><circle cx="415.0" cy="200.2" r="1.15"/><circle cx="408.6" cy="198.6" r="1.15"/><circle cx="426.9" cy="204.7" r="1.15"/><circle cx="432.4" cy="205.5" r="1.15"/><circle cx="412.4" cy="205.5" r="1.15"/><circle cx="410.0" cy="202.8" r="1.15"/><circle cx="439.0" cy="178.2" r="1.15"/><circle cx="405.3" cy="196.8" r="1.15"/><circle cx="419.6" cy="197.7" r="1.15"/><circle cx="439.5" cy="204.6" r="1.15"/><circle cx="437.9" cy="205.5" r="1.15"/><circle cx="418.3" cy="199.0" r="1.15"/><circle cx="407.7" cy="196.4" r="1.15"/><circle cx="427.9" cy="204.5" r="1.15"/><circle cx="438.4" cy="204.6" r="1.15"/><circle cx="416.7" cy="205.6" r="1.15"/><circle cx="409.1" cy="188.1" r="1.15"/><circle cx="406.6" cy="197.9" r="1.15"/><circle cx="431.0" cy="190.3" r="1.15"/><circle cx="416.6" cy="199.0" r="1.15"/><circle cx="408.0" cy="205.6" r="1.15"/><circle cx="407.8" cy="205.5" r="1.15"/><circle cx="439.2" cy="205.8" r="1.15"/><circle cx="428.5" cy="200.3" r="1.15"/><circle cx="409.5" cy="205.9" r="1.15"/><circle cx="428.1" cy="205.0" r="1.15"/><circle cx="439.4" cy="205.9" r="1.15"/><circle cx="431.8" cy="196.1" r="1.15"/><circle cx="411.7" cy="192.8" r="1.15"/><circle cx="438.4" cy="204.6" r="1.15"/><circle cx="411.9" cy="204.2" r="1.15"/><circle cx="406.8" cy="200.6" r="1.15"/><circle cx="436.8" cy="199.8" r="1.15"/><circle cx="418.7" cy="205.9" r="1.15"/><circle cx="407.5" cy="204.1" r="1.15"/><circle cx="405.4" cy="205.3" r="1.15"/><circle cx="438.5" cy="201.9" r="1.15"/><circle cx="405.8" cy="193.4" r="1.15"/><circle cx="436.8" cy="191.7" r="1.15"/><circle cx="425.4" cy="205.7" r="1.15"/><circle cx="410.7" cy="204.9" r="1.15"/><circle cx="436.5" cy="206.1" r="1.15"/><circle cx="410.0" cy="198.0" r="1.15"/><circle cx="409.0" cy="201.8" r="1.15"/><circle cx="412.5" cy="204.8" r="1.15"/><circle cx="437.4" cy="196.4" r="1.15"/><circle cx="418.9" cy="174.0" r="1.15"/><circle cx="429.5" cy="179.4" r="1.15"/><circle cx="409.1" cy="181.6" r="1.15"/></g><g fill="#b81212" fill-opacity="0.82"><circle cx="370.6" cy="198.5" r="1.15"/><circle cx="371.8" cy="200.8" r="1.15"/><circle cx="403.4" cy="195.5" r="1.15"/><circle cx="397.9" cy="199.7" r="1.15"/><circle cx="393.3" cy="199.6" r="1.15"/><circle cx="398.2" cy="200.5" r="1.15"/><circle cx="390.5" cy="204.5" r="1.15"/><circle cx="399.7" cy="205.7" r="1.15"/><circle cx="398.1" cy="204.5" r="1.15"/><circle cx="397.3" cy="202.4" r="1.15"/><circle cx="369.8" cy="184.1" r="1.15"/><circle cx="367.4" cy="204.1" r="1.15"/><circle cx="375.7" cy="187.4" r="1.15"/><circle cx="399.2" cy="205.9" r="1.15"/><circle cx="395.3" cy="206.0" r="1.15"/><circle cx="380.6" cy="206.1" r="1.15"/><circle cx="400.1" cy="199.7" r="1.15"/><circle cx="386.9" cy="201.5" r="1.15"/><circle cx="403.0" cy="181.5" r="1.15"/><circle cx="384.7" cy="201.9" r="1.15"/><circle cx="369.1" cy="196.9" r="1.15"/><circle cx="400.9" cy="204.1" r="1.15"/><circle cx="400.6" cy="206.1" r="1.15"/><circle cx="400.4" cy="199.1" r="1.15"/><circle cx="402.3" cy="204.2" r="1.15"/><circle cx="385.6" cy="183.4" r="1.15"/><circle cx="393.7" cy="201.2" r="1.15"/><circle cx="387.0" cy="204.0" r="1.15"/><circle cx="403.3" cy="202.1" r="1.15"/><circle cx="384.3" cy="203.7" r="1.15"/><circle cx="392.0" cy="201.2" r="1.15"/><circle cx="388.4" cy="192.2" r="1.15"/><circle cx="384.3" cy="183.6" r="1.15"/><circle cx="391.3" cy="200.5" r="1.15"/><circle cx="399.2" cy="186.6" r="1.15"/><circle cx="395.4" cy="199.7" r="1.15"/><circle cx="402.2" cy="196.0" r="1.15"/><circle cx="393.3" cy="202.8" r="1.15"/><circle cx="403.4" cy="198.4" r="1.15"/><circle cx="389.5" cy="205.9" r="1.15"/><circle cx="392.5" cy="193.6" r="1.15"/><circle cx="403.6" cy="204.5" r="1.15"/><circle cx="379.3" cy="199.5" r="1.15"/><circle cx="375.1" cy="203.7" r="1.15"/><circle cx="387.6" cy="204.1" r="1.15"/><circle cx="402.0" cy="204.1" r="1.15"/><circle cx="401.1" cy="201.0" r="1.15"/><circle cx="400.4" cy="199.4" r="1.15"/><circle cx="403.9" cy="202.2" r="1.15"/><circle cx="403.7" cy="204.5" r="1.15"/><circle cx="401.7" cy="181.5" r="1.15"/><circle cx="400.1" cy="193.2" r="1.15"/><circle cx="373.3" cy="193.6" r="1.15"/><circle cx="402.4" cy="195.6" r="1.15"/><circle cx="393.0" cy="203.3" r="1.15"/><circle cx="395.5" cy="204.8" r="1.15"/><circle cx="348.8" cy="206.1" r="1.15"/><circle cx="373.9" cy="195.8" r="1.15"/><circle cx="394.7" cy="199.4" r="1.15"/><circle cx="395.6" cy="203.7" r="1.15"/><circle cx="377.2" cy="203.3" r="1.15"/><circle cx="392.1" cy="192.0" r="1.15"/><circle cx="346.0" cy="204.5" r="1.15"/><circle cx="402.8" cy="203.0" r="1.15"/><circle cx="397.8" cy="204.9" r="1.15"/><circle cx="392.4" cy="202.8" r="1.15"/><circle cx="402.2" cy="201.9" r="1.15"/><circle cx="399.2" cy="197.5" r="1.15"/><circle cx="403.4" cy="199.5" r="1.15"/><circle cx="383.6" cy="201.2" r="1.15"/><circle cx="401.4" cy="200.1" r="1.15"/><circle cx="386.5" cy="206.1" r="1.15"/><circle cx="398.9" cy="204.2" r="1.15"/><circle cx="372.9" cy="204.0" r="1.15"/><circle cx="402.3" cy="204.6" r="1.15"/><circle cx="402.1" cy="199.7" r="1.15"/><circle cx="387.3" cy="197.0" r="1.15"/><circle cx="400.3" cy="200.3" r="1.15"/><circle cx="400.6" cy="199.6" r="1.15"/><circle cx="401.8" cy="206.0" r="1.15"/><circle cx="400.3" cy="200.7" r="1.15"/><circle cx="395.3" cy="205.7" r="1.15"/><circle cx="373.0" cy="193.6" r="1.15"/><circle cx="388.2" cy="202.5" r="1.15"/><circle cx="399.9" cy="202.5" r="1.15"/><circle cx="404.0" cy="199.2" r="1.15"/><circle cx="390.6" cy="204.6" r="1.15"/><circle cx="391.1" cy="204.6" r="1.15"/><circle cx="363.6" cy="202.7" r="1.15"/><circle cx="392.4" cy="203.7" r="1.15"/><circle cx="400.6" cy="199.4" r="1.15"/><circle cx="404.1" cy="200.2" r="1.15"/><circle cx="371.1" cy="198.2" r="1.15"/><circle cx="369.7" cy="204.3" r="1.15"/><circle cx="402.9" cy="205.3" r="1.15"/><circle cx="398.1" cy="198.8" r="1.15"/><circle cx="399.6" cy="201.9" r="1.15"/><circle cx="396.1" cy="204.1" r="1.15"/><circle cx="399.1" cy="199.5" r="1.15"/><circle cx="375.1" cy="205.1" r="1.15"/><circle cx="390.2" cy="199.1" r="1.15"/><circle cx="401.9" cy="206.0" r="1.15"/><circle cx="391.3" cy="199.8" r="1.15"/><circle cx="362.3" cy="204.7" r="1.15"/><circle cx="393.9" cy="195.9" r="1.15"/><circle cx="370.6" cy="202.9" r="1.15"/><circle cx="398.4" cy="204.5" r="1.15"/><circle cx="348.6" cy="202.4" r="1.15"/><circle cx="394.2" cy="202.8" r="1.15"/><circle cx="396.7" cy="200.9" r="1.15"/><circle cx="392.3" cy="180.8" r="1.15"/><circle cx="383.2" cy="194.3" r="1.15"/><circle cx="391.0" cy="203.7" r="1.15"/><circle cx="385.8" cy="205.3" r="1.15"/><circle cx="386.1" cy="185.0" r="1.15"/><circle cx="379.4" cy="203.9" r="1.15"/><circle cx="394.9" cy="200.8" r="1.15"/><circle cx="400.9" cy="205.8" r="1.15"/><circle cx="400.1" cy="200.0" r="1.15"/><circle cx="397.9" cy="187.8" r="1.15"/><circle cx="376.2" cy="204.8" r="1.15"/><circle cx="377.3" cy="200.3" r="1.15"/><circle cx="367.1" cy="203.1" r="1.15"/><circle cx="401.5" cy="203.6" r="1.15"/><circle cx="387.1" cy="195.5" r="1.15"/><circle cx="382.1" cy="193.8" r="1.15"/><circle cx="387.5" cy="203.4" r="1.15"/><circle cx="376.1" cy="201.4" r="1.15"/><circle cx="362.0" cy="205.1" r="1.15"/><circle cx="396.6" cy="204.8" r="1.15"/><circle cx="374.6" cy="204.6" r="1.15"/><circle cx="389.1" cy="204.0" r="1.15"/><circle cx="391.2" cy="200.9" r="1.15"/><circle cx="392.1" cy="202.3" r="1.15"/><circle cx="346.9" cy="191.2" r="1.15"/><circle cx="403.0" cy="205.8" r="1.15"/><circle cx="379.0" cy="202.2" r="1.15"/><circle cx="402.3" cy="205.5" r="1.15"/><circle cx="397.8" cy="205.6" r="1.15"/><circle cx="403.1" cy="192.2" r="1.15"/><circle cx="395.9" cy="202.7" r="1.15"/><circle cx="403.0" cy="202.2" r="1.15"/><circle cx="389.2" cy="204.3" r="1.15"/><circle cx="396.3" cy="189.1" r="1.15"/><circle cx="389.7" cy="195.9" r="1.15"/><circle cx="400.5" cy="200.0" r="1.15"/><circle cx="397.0" cy="203.5" r="1.15"/><circle cx="345.8" cy="194.3" r="1.15"/><circle cx="385.0" cy="190.1" r="1.15"/><circle cx="403.1" cy="202.5" r="1.15"/><circle cx="394.8" cy="205.0" r="1.15"/><circle cx="403.1" cy="185.8" r="1.15"/><circle cx="400.7" cy="201.8" r="1.15"/><circle cx="401.3" cy="204.6" r="1.15"/><circle cx="401.3" cy="201.2" r="1.15"/><circle cx="404.1" cy="202.1" r="1.15"/><circle cx="394.0" cy="193.0" r="1.15"/><circle cx="397.8" cy="204.3" r="1.15"/><circle cx="402.6" cy="198.8" r="1.15"/><circle cx="378.9" cy="204.4" r="1.15"/><circle cx="401.2" cy="197.3" r="1.15"/><circle cx="386.2" cy="202.8" r="1.15"/><circle cx="394.1" cy="205.4" r="1.15"/><circle cx="389.5" cy="203.9" r="1.15"/><circle cx="387.0" cy="203.7" r="1.15"/><circle cx="391.2" cy="199.0" r="1.15"/><circle cx="395.5" cy="180.0" r="1.15"/><circle cx="389.3" cy="201.3" r="1.15"/><circle cx="346.9" cy="203.4" r="1.15"/><circle cx="369.9" cy="204.7" r="1.15"/><circle cx="395.8" cy="205.0" r="1.15"/><circle cx="394.6" cy="203.4" r="1.15"/><circle cx="402.3" cy="202.6" r="1.15"/><circle cx="401.5" cy="196.5" r="1.15"/><circle cx="372.0" cy="201.0" r="1.15"/><circle cx="403.1" cy="194.9" r="1.15"/><circle cx="396.8" cy="191.5" r="1.15"/><circle cx="403.1" cy="198.4" r="1.15"/><circle cx="395.2" cy="202.2" r="1.15"/><circle cx="373.5" cy="201.1" r="1.15"/><circle cx="400.2" cy="192.1" r="1.15"/><circle cx="396.1" cy="205.9" r="1.15"/><circle cx="403.5" cy="201.4" r="1.15"/><circle cx="387.3" cy="204.8" r="1.15"/><circle cx="404.0" cy="193.8" r="1.15"/><circle cx="402.7" cy="189.8" r="1.15"/><circle cx="400.1" cy="206.1" r="1.15"/><circle cx="397.4" cy="202.8" r="1.15"/><circle cx="381.0" cy="200.3" r="1.15"/><circle cx="398.5" cy="202.7" r="1.15"/><circle cx="397.6" cy="191.5" r="1.15"/><circle cx="386.8" cy="196.5" r="1.15"/><circle cx="376.6" cy="204.4" r="1.15"/><circle cx="403.4" cy="200.0" r="1.15"/><circle cx="401.8" cy="203.3" r="1.15"/><circle cx="387.7" cy="205.8" r="1.15"/><circle cx="401.9" cy="205.8" r="1.15"/><circle cx="387.2" cy="205.8" r="1.15"/><circle cx="393.7" cy="202.2" r="1.15"/><circle cx="378.3" cy="202.9" r="1.15"/><circle cx="394.7" cy="203.7" r="1.15"/><circle cx="395.5" cy="206.1" r="1.15"/><circle cx="401.1" cy="204.7" r="1.15"/><circle cx="379.8" cy="205.1" r="1.15"/><circle cx="393.7" cy="204.3" r="1.15"/><circle cx="367.2" cy="199.4" r="1.15"/><circle cx="396.5" cy="205.0" r="1.15"/><circle cx="399.9" cy="205.9" r="1.15"/><circle cx="396.5" cy="202.2" r="1.15"/><circle cx="398.9" cy="199.4" r="1.15"/><circle cx="397.7" cy="204.3" r="1.15"/><circle cx="350.9" cy="193.6" r="1.15"/><circle cx="396.2" cy="202.9" r="1.15"/><circle cx="392.6" cy="205.3" r="1.15"/><circle cx="397.4" cy="205.2" r="1.15"/><circle cx="390.3" cy="196.2" r="1.15"/><circle cx="377.6" cy="188.2" r="1.15"/><circle cx="375.3" cy="204.2" r="1.15"/><circle cx="400.4" cy="203.3" r="1.15"/><circle cx="399.0" cy="181.7" r="1.15"/><circle cx="403.0" cy="205.8" r="1.15"/><circle cx="387.0" cy="204.7" r="1.15"/><circle cx="390.2" cy="199.6" r="1.15"/><circle cx="391.4" cy="206.0" r="1.15"/><circle cx="389.8" cy="202.9" r="1.15"/><circle cx="391.6" cy="201.9" r="1.15"/><circle cx="398.7" cy="199.2" r="1.15"/><circle cx="392.2" cy="185.9" r="1.15"/><circle cx="383.1" cy="200.2" r="1.15"/><circle cx="389.4" cy="197.3" r="1.15"/><circle cx="400.0" cy="185.6" r="1.15"/><circle cx="401.8" cy="197.1" r="1.15"/><circle cx="402.1" cy="196.9" r="1.15"/><circle cx="399.1" cy="193.7" r="1.15"/><circle cx="401.7" cy="205.3" r="1.15"/><circle cx="403.7" cy="203.7" r="1.15"/><circle cx="395.8" cy="195.0" r="1.15"/><circle cx="375.9" cy="201.5" r="1.15"/><circle cx="402.1" cy="184.7" r="1.15"/><circle cx="399.6" cy="203.7" r="1.15"/><circle cx="383.7" cy="204.5" r="1.15"/><circle cx="399.2" cy="205.1" r="1.15"/><circle cx="394.2" cy="203.3" r="1.15"/><circle cx="392.0" cy="204.5" r="1.15"/><circle cx="402.1" cy="199.5" r="1.15"/><circle cx="453.2" cy="205.6" r="1.15"/><circle cx="444.5" cy="206.0" r="1.15"/><circle cx="458.9" cy="206.0" r="1.15"/><circle cx="444.7" cy="202.4" r="1.15"/><circle cx="483.3" cy="193.2" r="1.15"/><circle cx="442.0" cy="204.2" r="1.15"/><circle cx="445.1" cy="205.6" r="1.15"/><circle cx="453.7" cy="201.5" r="1.15"/><circle cx="446.2" cy="197.5" r="1.15"/><circle cx="444.7" cy="203.0" r="1.15"/><circle cx="449.6" cy="205.0" r="1.15"/><circle cx="443.4" cy="204.0" r="1.15"/><circle cx="444.1" cy="205.6" r="1.15"/><circle cx="449.6" cy="205.3" r="1.15"/><circle cx="446.9" cy="205.8" r="1.15"/><circle cx="451.0" cy="202.0" r="1.15"/><circle cx="458.1" cy="203.3" r="1.15"/><circle cx="472.1" cy="205.9" r="1.15"/><circle cx="447.2" cy="203.8" r="1.15"/><circle cx="445.1" cy="203.4" r="1.15"/><circle cx="461.1" cy="202.9" r="1.15"/><circle cx="444.5" cy="203.7" r="1.15"/><circle cx="445.4" cy="206.0" r="1.15"/><circle cx="445.7" cy="195.3" r="1.15"/><circle cx="469.3" cy="198.6" r="1.15"/><circle cx="445.4" cy="197.4" r="1.15"/><circle cx="445.6" cy="202.6" r="1.15"/><circle cx="447.1" cy="205.4" r="1.15"/><circle cx="463.3" cy="202.2" r="1.15"/><circle cx="457.4" cy="205.4" r="1.15"/><circle cx="465.8" cy="200.6" r="1.15"/><circle cx="441.9" cy="205.7" r="1.15"/><circle cx="457.2" cy="204.8" r="1.15"/><circle cx="441.9" cy="189.0" r="1.15"/><circle cx="443.3" cy="198.3" r="1.15"/><circle cx="453.4" cy="201.9" r="1.15"/><circle cx="446.7" cy="205.1" r="1.15"/><circle cx="449.6" cy="202.7" r="1.15"/><circle cx="457.1" cy="205.1" r="1.15"/><circle cx="493.3" cy="201.9" r="1.15"/><circle cx="459.8" cy="200.3" r="1.15"/><circle cx="448.4" cy="203.6" r="1.15"/><circle cx="450.2" cy="205.8" r="1.15"/><circle cx="440.9" cy="204.9" r="1.15"/><circle cx="445.5" cy="206.1" r="1.15"/><circle cx="442.5" cy="205.4" r="1.15"/><circle cx="468.6" cy="202.6" r="1.15"/><circle cx="445.5" cy="200.9" r="1.15"/><circle cx="447.9" cy="194.1" r="1.15"/><circle cx="442.1" cy="201.1" r="1.15"/><circle cx="441.2" cy="206.1" r="1.15"/><circle cx="453.4" cy="205.8" r="1.15"/><circle cx="444.2" cy="205.1" r="1.15"/><circle cx="442.1" cy="205.1" r="1.15"/><circle cx="456.1" cy="204.0" r="1.15"/><circle cx="443.3" cy="204.2" r="1.15"/><circle cx="443.3" cy="205.3" r="1.15"/><circle cx="450.4" cy="203.0" r="1.15"/><circle cx="445.6" cy="200.0" r="1.15"/><circle cx="441.2" cy="203.7" r="1.15"/><circle cx="462.3" cy="205.2" r="1.15"/><circle cx="440.7" cy="205.6" r="1.15"/><circle cx="451.6" cy="205.9" r="1.15"/><circle cx="441.1" cy="202.3" r="1.15"/><circle cx="440.7" cy="205.9" r="1.15"/><circle cx="448.5" cy="203.4" r="1.15"/><circle cx="440.8" cy="197.4" r="1.15"/><circle cx="442.1" cy="203.9" r="1.15"/><circle cx="446.9" cy="205.6" r="1.15"/><circle cx="446.7" cy="200.5" r="1.15"/><circle cx="455.6" cy="205.3" r="1.15"/><circle cx="454.6" cy="204.1" r="1.15"/><circle cx="450.8" cy="202.9" r="1.15"/><circle cx="442.9" cy="204.5" r="1.15"/><circle cx="450.4" cy="204.8" r="1.15"/><circle cx="454.0" cy="200.2" r="1.15"/><circle cx="446.0" cy="204.0" r="1.15"/><circle cx="448.6" cy="200.1" r="1.15"/><circle cx="441.5" cy="205.8" r="1.15"/><circle cx="464.2" cy="203.5" r="1.15"/><circle cx="443.3" cy="203.7" r="1.15"/><circle cx="443.9" cy="205.6" r="1.15"/><circle cx="443.0" cy="205.5" r="1.15"/><circle cx="454.8" cy="205.9" r="1.15"/><circle cx="444.1" cy="204.7" r="1.15"/><circle cx="444.6" cy="205.6" r="1.15"/><circle cx="452.8" cy="203.9" r="1.15"/><circle cx="443.5" cy="202.3" r="1.15"/><circle cx="454.1" cy="196.5" r="1.15"/><circle cx="461.5" cy="205.4" r="1.15"/><circle cx="443.0" cy="204.3" r="1.15"/><circle cx="454.0" cy="203.2" r="1.15"/><circle cx="454.4" cy="194.4" r="1.15"/><circle cx="459.9" cy="201.3" r="1.15"/><circle cx="442.3" cy="204.8" r="1.15"/><circle cx="447.9" cy="172.6" r="1.15"/><circle cx="455.9" cy="202.7" r="1.15"/><circle cx="448.5" cy="203.5" r="1.15"/><circle cx="446.4" cy="205.7" r="1.15"/><circle cx="447.7" cy="206.1" r="1.15"/><circle cx="448.8" cy="196.1" r="1.15"/><circle cx="442.0" cy="201.7" r="1.15"/><circle cx="446.6" cy="205.0" r="1.15"/><circle cx="449.0" cy="205.7" r="1.15"/><circle cx="446.3" cy="197.5" r="1.15"/><circle cx="457.2" cy="204.6" r="1.15"/><circle cx="446.1" cy="203.3" r="1.15"/><circle cx="440.7" cy="204.5" r="1.15"/><circle cx="452.0" cy="204.3" r="1.15"/><circle cx="441.1" cy="200.6" r="1.15"/><circle cx="450.4" cy="204.0" r="1.15"/><circle cx="447.8" cy="203.6" r="1.15"/><circle cx="453.9" cy="201.6" r="1.15"/><circle cx="440.6" cy="202.5" r="1.15"/><circle cx="442.2" cy="204.2" r="1.15"/><circle cx="447.3" cy="200.8" r="1.15"/><circle cx="455.7" cy="204.4" r="1.15"/><circle cx="455.0" cy="197.0" r="1.15"/><circle cx="444.1" cy="201.3" r="1.15"/><circle cx="441.7" cy="206.1" r="1.15"/><circle cx="456.8" cy="203.2" r="1.15"/><circle cx="444.7" cy="204.5" r="1.15"/><circle cx="441.0" cy="200.0" r="1.15"/><circle cx="442.4" cy="190.6" r="1.15"/><circle cx="444.0" cy="203.1" r="1.15"/><circle cx="461.0" cy="205.9" r="1.15"/><circle cx="452.3" cy="204.9" r="1.15"/><circle cx="445.4" cy="199.0" r="1.15"/><circle cx="448.1" cy="206.0" r="1.15"/><circle cx="443.5" cy="205.7" r="1.15"/><circle cx="440.8" cy="204.1" r="1.15"/><circle cx="443.3" cy="201.9" r="1.15"/><circle cx="444.9" cy="205.7" r="1.15"/><circle cx="463.8" cy="205.5" r="1.15"/><circle cx="447.9" cy="204.7" r="1.15"/><circle cx="441.8" cy="204.0" r="1.15"/><circle cx="444.9" cy="206.1" r="1.15"/><circle cx="459.4" cy="199.3" r="1.15"/><circle cx="443.5" cy="204.0" r="1.15"/><circle cx="454.9" cy="196.9" r="1.15"/><circle cx="471.1" cy="203.7" r="1.15"/><circle cx="451.4" cy="201.4" r="1.15"/><circle cx="460.5" cy="204.4" r="1.15"/><circle cx="449.8" cy="201.1" r="1.15"/><circle cx="465.7" cy="205.0" r="1.15"/><circle cx="446.2" cy="198.5" r="1.15"/><circle cx="446.0" cy="202.3" r="1.15"/><circle cx="442.6" cy="204.7" r="1.15"/><circle cx="441.1" cy="198.1" r="1.15"/><circle cx="441.7" cy="204.3" r="1.15"/><circle cx="347.2" cy="180.9" r="1.15"/><circle cx="348.1" cy="187.0" r="1.15"/><circle cx="360.4" cy="190.0" r="1.15"/><circle cx="364.0" cy="182.4" r="1.15"/><circle cx="371.1" cy="177.8" r="1.15"/><circle cx="379.9" cy="176.3" r="1.15"/><circle cx="445.4" cy="163.4" r="1.15"/><circle cx="451.6" cy="175.6" r="1.15"/><circle cx="453.4" cy="170.2" r="1.15"/><circle cx="467.5" cy="180.9" r="1.15"/><circle cx="473.7" cy="192.3" r="1.15"/><circle cx="468.4" cy="186.2" r="1.15"/><circle cx="477.3" cy="194.6" r="1.15"/><circle cx="485.2" cy="199.9" r="1.15"/><circle cx="472.0" cy="196.8" r="1.15"/></g>
<line x1="404.7" y1="57.3" x2="404.7" y2="224" stroke="#555" stroke-width="0.6" stroke-dasharray="2,1.3"/>
<line x1="440.1" y1="57.3" x2="440.1" y2="224" stroke="#555" stroke-width="0.6" stroke-dasharray="2,1.3"/>
<line x1="304.5" y1="206.7" x2="539" y2="206.7" stroke="#555" stroke-width="0.6" stroke-dasharray="2,1.3"/>
<line x1="304.5" y1="57.3" x2="304.5" y2="224.5" stroke="#6a6a6a" stroke-width="1.1"/>
<line x1="304.0" y1="224" x2="539" y2="224" stroke="#5a5a5a" stroke-width="1.0"/>
<line x1="302.5" y1="216.6" x2="304.5" y2="216.6" stroke="#333" stroke-width="0.6"/>
<text x="301.0" y="218.8" font-size="6.4" text-anchor="end" fill="#4d4d4d">0</text>
<line x1="302.5" y1="178.6" x2="304.5" y2="178.6" stroke="#333" stroke-width="0.6"/>
<text x="301.0" y="180.8" font-size="6.4" text-anchor="end" fill="#4d4d4d">5</text>
<line x1="302.5" y1="140.6" x2="304.5" y2="140.6" stroke="#333" stroke-width="0.6"/>
<text x="301.0" y="142.8" font-size="6.4" text-anchor="end" fill="#4d4d4d">10</text>
<line x1="302.5" y1="102.6" x2="304.5" y2="102.6" stroke="#333" stroke-width="0.6"/>
<text x="301.0" y="104.8" font-size="6.4" text-anchor="end" fill="#4d4d4d">15</text>
<line x1="302.5" y1="64.6" x2="304.5" y2="64.6" stroke="#333" stroke-width="0.6"/>
<text x="301.0" y="66.8" font-size="6.4" text-anchor="end" fill="#4d4d4d">20</text>
<line x1="316.2" y1="224" x2="316.2" y2="226" stroke="#333" stroke-width="0.6"/>
<text x="316.2" y="233.3" font-size="6.4" text-anchor="middle" fill="#4d4d4d">-6</text>
<line x1="369.3" y1="224" x2="369.3" y2="226" stroke="#333" stroke-width="0.6"/>
<text x="369.3" y="233.3" font-size="6.4" text-anchor="middle" fill="#4d4d4d">-3</text>
<line x1="422.4" y1="224" x2="422.4" y2="226" stroke="#333" stroke-width="0.6"/>
<text x="422.4" y="233.3" font-size="6.4" text-anchor="middle" fill="#4d4d4d">0</text>
<line x1="475.5" y1="224" x2="475.5" y2="226" stroke="#333" stroke-width="0.6"/>
<text x="475.5" y="233.3" font-size="6.4" text-anchor="middle" fill="#4d4d4d">3</text>
<line x1="528.6" y1="224" x2="528.6" y2="226" stroke="#333" stroke-width="0.6"/>
<text x="528.6" y="233.3" font-size="6.4" text-anchor="middle" fill="#4d4d4d">6</text>
<text x="423.7" y="241.5" font-size="6.6" text-anchor="middle" fill="#222">Log<tspan font-size="4.4" dy="1.5">2</tspan><tspan dy="-1.5"> fold change</tspan></text>
<text transform="translate(289.9,139.7) rotate(-90)" font-size="6.8" text-anchor="middle" fill="#222">– Log<tspan font-size="4.7" dy="1.6">10</tspan><tspan dy="-1.6" font-style="italic"> P</tspan></text>
<circle cx="353.2" cy="40.6" r="2.1" fill="#a6a6a6"/>
<circle cx="374.3" cy="40.6" r="2.1" fill="#90c890"/>
<circle cx="407.5" cy="40.6" r="2.1" fill="#a0b4f0"/>
<circle cx="438.0" cy="40.6" r="2.1" fill="#f08080"/>
<text x="360.8" y="42.7" font-size="6" font-weight="bold">NS</text>
<text x="380.6" y="42.7" font-size="6" font-weight="bold">Log<tspan font-size="4.2" dy="1.4">2</tspan><tspan dy="-1.4"> FC</tspan></text>
<text x="412.9" y="42.7" font-size="6" font-weight="bold">p-value</text>
<text x="442.1" y="42.7" font-size="6" font-weight="bold">p-value and log<tspan font-size="4.2" dy="1.4">2</tspan><tspan dy="-1.4"> FC</tspan></text>
<text x="542.4" y="252.4" font-size="7.6" font-weight="bold" text-anchor="end">Total: 5596 variables</text>
<text x="542.4" y="261.5" font-size="7.6" font-weight="bold" text-anchor="end">Up regulated: 103</text>
<text x="542.4" y="270.6" font-size="7.6" font-weight="bold" text-anchor="end">Down regulated: 223</text>
<line x1="383" y1="176" x2="386" y2="180" stroke="#333" stroke-width="0.45"/>
<line x1="380.5" y1="171" x2="382" y2="176.5" stroke="#333" stroke-width="0.45"/>
<line x1="361" y1="184" x2="366" y2="188" stroke="#333" stroke-width="0.45"/>
<line x1="398" y1="174" x2="401" y2="178" stroke="#333" stroke-width="0.45"/>
<line x1="398" y1="180" x2="400" y2="184" stroke="#333" stroke-width="0.45"/>
<line x1="462" y1="168" x2="465" y2="166" stroke="#333" stroke-width="0.45"/>
<line x1="457" y1="172" x2="450" y2="178" stroke="#333" stroke-width="0.45"/>
<line x1="452" y1="175.5" x2="447" y2="180" stroke="#333" stroke-width="0.45"/>
<line x1="444" y1="183" x2="441" y2="186" stroke="#333" stroke-width="0.45"/>
<line x1="439" y1="189" x2="443" y2="188" stroke="#333" stroke-width="0.45"/>
<line x1="444" y1="192" x2="441" y2="194" stroke="#333" stroke-width="0.45"/>
<line x1="437" y1="193" x2="434" y2="196" stroke="#333" stroke-width="0.45"/>
<line x1="485" y1="187" x2="487" y2="189" stroke="#333" stroke-width="0.45"/>
<line x1="471" y1="195" x2="467" y2="193" stroke="#333" stroke-width="0.45"/>
<line x1="466" y1="161" x2="471" y2="161" stroke="#333" stroke-width="0.45"/>
<line x1="439" y1="183" x2="436" y2="186" stroke="#333" stroke-width="0.45"/>
<text x="358.7" y="176.3" font-size="7.6" font-weight="bold">Lrrfip2</text>
<text x="384.0" y="174.0" font-size="5.2" font-weight="bold" fill="#1a1a1a" stroke="#1a1a1a" stroke-width="0.18">Ndufb4</text>
<text x="337.3" y="183.9" font-size="7.4" font-weight="bold">Atp12a</text>
<text x="365.0" y="187.0" font-size="5.9" font-weight="bold" fill="#1a1a1a" stroke="#1a1a1a" stroke-width="0.18">Npc1</text>
<text x="382.7" y="181.6" font-size="5.2" font-weight="bold" fill="#1a1a1a" stroke="#1a1a1a" stroke-width="0.18">Slc7a6</text>
<text x="331.3" y="192.4" font-size="7.3" font-weight="bold">Men1</text>
<text x="318.2" y="199.0" font-size="7.6" font-weight="bold">Serpinb9</text>
<text x="444.2" y="162.9" font-size="7.1" font-weight="bold">Ccne1</text>
<text x="414.2" y="168.6" font-size="7.5" font-weight="bold">Mt-atp6</text>
<text x="443.0" y="170.4" font-size="5.4" font-weight="bold" fill="#333" stroke="#333" stroke-width="0.18">Mt-nd2-</text>
<text x="465.4" y="170.5" font-size="7.4" font-weight="bold">S100a10</text>
<text x="459.0" y="177.0" font-size="5.6" font-weight="bold" fill="#1a1a1a" stroke="#1a1a1a" stroke-width="0.18">Rpl35al1</text>
<text x="401.5" y="175.2" font-size="5.6" font-weight="bold" fill="#1a1a1a" stroke="#1a1a1a" stroke-width="0.18">Cldn4 Rpl39.4</text>
<text x="404.0" y="182.0" font-size="5.6" font-weight="bold" fill="#1a1a1a" stroke="#1a1a1a" stroke-width="0.18">Actn4 Eef1e1</text>
<text x="447.4" y="183.3" font-size="5.6" font-weight="bold" fill="#1a1a1a" stroke="#1a1a1a" stroke-width="0.18">Psmg1 Igfbp6</text>
<text x="401.4" y="188.0" font-size="5.4" font-weight="bold" fill="#1a1a1a" stroke="#1a1a1a" stroke-width="0.18">Cmnt1 Snrpg.1</text>
<text x="441.5" y="189.0" font-size="5.5" font-weight="bold" fill="#1a1a1a" stroke="#1a1a1a" stroke-width="0.18">Mt-nd3 Vapp19.1</text>
<text x="486.7" y="192.4" font-size="7.2" font-weight="bold">Rpia</text>
<text x="407.6" y="194.5" font-size="7.4" font-weight="bold" fill="#0d1b3e">Ccna2</text>
<text x="446.6" y="194.6" font-size="5.6" font-weight="bold" fill="#1a1a1a" stroke="#1a1a1a" stroke-width="0.18">mrps9</text>
<text x="473.0" y="199.4" font-size="7.7" font-weight="bold">Slc25a44</text>
<text x="429.0" y="198.8" font-size="5.8" font-weight="bold" fill="#1a1a1a" stroke="#1a1a1a" stroke-width="0.18">Cdc3</text>
<text x="10.4" y="279.6" font-size="13" font-weight="bold">B</text>
<text x="278.4" y="279.3" font-size="13" font-weight="bold">F</text>
<rect x="123" y="281.7" width="139.8" height="224.3" fill="#fff"/><line x1="129.2" y1="281.7" x2="129.2" y2="506" stroke="#ebebeb" stroke-width="0.6"/><line x1="152.7" y1="281.7" x2="152.7" y2="506" stroke="#f3f3f3" stroke-width="0.6"/><line x1="176.2" y1="281.7" x2="176.2" y2="506" stroke="#ebebeb" stroke-width="0.6"/><line x1="199.7" y1="281.7" x2="199.7" y2="506" stroke="#f3f3f3" stroke-width="0.6"/><line x1="223.2" y1="281.7" x2="223.2" y2="506" stroke="#ebebeb" stroke-width="0.6"/><line x1="246.7" y1="281.7" x2="246.7" y2="506" stroke="#f3f3f3" stroke-width="0.6"/><line x1="123" y1="289.5" x2="262.8" y2="289.5" stroke="#ebebeb" stroke-width="0.6"/><line x1="123" y1="301.8" x2="262.8" y2="301.8" stroke="#ebebeb" stroke-width="0.6"/><line x1="123" y1="314.1" x2="262.8" y2="314.1" stroke="#ebebeb" stroke-width="0.6"/><line x1="123" y1="326.3" x2="262.8" y2="326.3" stroke="#ebebeb" stroke-width="0.6"/><line x1="123" y1="338.6" x2="262.8" y2="338.6" stroke="#ebebeb" stroke-width="0.6"/><line x1="123" y1="350.9" x2="262.8" y2="350.9" stroke="#ebebeb" stroke-width="0.6"/><line x1="123" y1="363.2" x2="262.8" y2="363.2" stroke="#ebebeb" stroke-width="0.6"/><line x1="123" y1="375.5" x2="262.8" y2="375.5" stroke="#ebebeb" stroke-width="0.6"/><line x1="123" y1="387.7" x2="262.8" y2="387.7" stroke="#ebebeb" stroke-width="0.6"/><line x1="123" y1="400.0" x2="262.8" y2="400.0" stroke="#ebebeb" stroke-width="0.6"/><line x1="123" y1="412.3" x2="262.8" y2="412.3" stroke="#ebebeb" stroke-width="0.6"/><line x1="123" y1="424.6" x2="262.8" y2="424.6" stroke="#ebebeb" stroke-width="0.6"/><line x1="123" y1="436.9" x2="262.8" y2="436.9" stroke="#ebebeb" stroke-width="0.6"/><line x1="123" y1="449.1" x2="262.8" y2="449.1" stroke="#ebebeb" stroke-width="0.6"/><line x1="123" y1="461.4" x2="262.8" y2="461.4" stroke="#ebebeb" stroke-width="0.6"/><line x1="123" y1="473.7" x2="262.8" y2="473.7" stroke="#ebebeb" stroke-width="0.6"/><line x1="123" y1="486.0" x2="262.8" y2="486.0" stroke="#ebebeb" stroke-width="0.6"/><line x1="123" y1="498.3" x2="262.8" y2="498.3" stroke="#ebebeb" stroke-width="0.6"/>
<rect x="129.2" y="284.1" width="53.4" height="10.9" fill="#e2565e"/>
<rect x="129.2" y="296.3" width="48.8" height="10.9" fill="#e2565e"/>
<rect x="129.2" y="308.6" width="40.5" height="10.9" fill="#e1565f"/>
<rect x="129.2" y="320.9" width="33.7" height="10.9" fill="#e05760"/>
<rect x="129.2" y="333.2" width="12.9" height="10.9" fill="#dc5864"/>
<rect x="129.2" y="345.4" width="17.3" height="10.9" fill="#d65869"/>
<rect x="129.2" y="357.7" width="65.8" height="10.9" fill="#b65c7f"/>
<rect x="129.2" y="370.0" width="62.7" height="10.9" fill="#ae5d83"/>
<rect x="129.2" y="382.3" width="14.8" height="10.9" fill="#a05f8a"/>
<rect x="129.2" y="394.6" width="17.0" height="10.9" fill="#99608d"/>
<rect x="129.2" y="406.9" width="11.7" height="10.9" fill="#84649c"/>
<rect x="129.2" y="419.1" width="11.7" height="10.9" fill="#7d67a3"/>
<rect x="129.2" y="431.4" width="15.4" height="10.9" fill="#786aa8"/>
<rect x="129.2" y="443.7" width="98.6" height="10.9" fill="#726bab"/>
<rect x="129.2" y="456.0" width="98.6" height="10.9" fill="#706cad"/>
<rect x="129.2" y="468.2" width="54.4" height="10.9" fill="#6271b3"/>
<rect x="129.2" y="480.5" width="25.0" height="10.9" fill="#5a71b4"/>
<rect x="129.2" y="492.8" width="52.2" height="10.9" fill="#2a7cc2"/>
<rect x="123" y="281.7" width="139.8" height="224.3" fill="none" stroke="#b3b3b3" stroke-width="0.6"/>
<line x1="121.2" y1="289.5" x2="123" y2="289.5" stroke="#555" stroke-width="0.5"/>
<line x1="121.2" y1="301.8" x2="123" y2="301.8" stroke="#555" stroke-width="0.5"/>
<line x1="121.2" y1="314.1" x2="123" y2="314.1" stroke="#555" stroke-width="0.5"/>
<line x1="121.2" y1="326.3" x2="123" y2="326.3" stroke="#555" stroke-width="0.5"/>
<line x1="121.2" y1="338.6" x2="123" y2="338.6" stroke="#555" stroke-width="0.5"/>
<line x1="121.2" y1="350.9" x2="123" y2="350.9" stroke="#555" stroke-width="0.5"/>
<line x1="121.2" y1="363.2" x2="123" y2="363.2" stroke="#555" stroke-width="0.5"/>
<line x1="121.2" y1="375.5" x2="123" y2="375.5" stroke="#555" stroke-width="0.5"/>
<line x1="121.2" y1="387.7" x2="123" y2="387.7" stroke="#555" stroke-width="0.5"/>
<line x1="121.2" y1="400.0" x2="123" y2="400.0" stroke="#555" stroke-width="0.5"/>
<line x1="121.2" y1="412.3" x2="123" y2="412.3" stroke="#555" stroke-width="0.5"/>
<line x1="121.2" y1="424.6" x2="123" y2="424.6" stroke="#555" stroke-width="0.5"/>
<line x1="121.2" y1="436.9" x2="123" y2="436.9" stroke="#555" stroke-width="0.5"/>
<line x1="121.2" y1="449.1" x2="123" y2="449.1" stroke="#555" stroke-width="0.5"/>
<line x1="121.2" y1="461.4" x2="123" y2="461.4" stroke="#555" stroke-width="0.5"/>
<line x1="121.2" y1="473.7" x2="123" y2="473.7" stroke="#555" stroke-width="0.5"/>
<line x1="121.2" y1="486.0" x2="123" y2="486.0" stroke="#555" stroke-width="0.5"/>
<line x1="121.2" y1="498.3" x2="123" y2="498.3" stroke="#555" stroke-width="0.5"/>
<line x1="129.2" y1="506" x2="129.2" y2="507.6" stroke="#555" stroke-width="0.5"/>
<text x="129.2" y="512.2" font-size="5.0" text-anchor="middle" fill="#4d4d4d">0</text>
<line x1="176.2" y1="506" x2="176.2" y2="507.6" stroke="#555" stroke-width="0.5"/>
<text x="176.2" y="512.2" font-size="5.0" text-anchor="middle" fill="#4d4d4d">10</text>
<line x1="223.2" y1="506" x2="223.2" y2="507.6" stroke="#555" stroke-width="0.5"/>
<text x="223.2" y="512.2" font-size="5.0" text-anchor="middle" fill="#4d4d4d">20</text>
<text x="192.8" y="518.0" font-size="5.1" text-anchor="middle" fill="#1a1a1a">FoldEnrichment</text>
<text x="119.8" y="286.7" font-size="7.3" font-weight="bold" text-anchor="end">regulation of stress-</text>
<text x="119.8" y="292.3" font-size="7.3" font-weight="bold" text-anchor="end">activated MAPK cascade</text>
<text x="119.8" y="298.2" font-size="7.3" font-weight="bold" text-anchor="end">regulation of stress-</text>
<text x="119.8" y="303.8" font-size="7.3" font-weight="bold" text-anchor="end">activated protein</text>
<text x="119.8" y="309.8" font-size="7.3" font-weight="bold" text-anchor="end">kinase signaling cascade</text>
<text x="119.8" y="315.5" font-size="7.3" font-weight="bold" text-anchor="end">stress-activated MAPK cascade</text>
<text x="119.8" y="324.5" font-size="7.3" font-weight="bold" text-anchor="end">stress-activated protein</text>
<text x="119.8" y="330.5" font-size="7.3" font-weight="bold" text-anchor="end">kinase signaling cascade</text>
<text x="119.8" y="339.5" font-size="7.3" font-weight="bold" text-anchor="end">mRNA processing</text>
<text x="119.8" y="350.4" font-size="7.3" font-weight="bold" text-anchor="end">epigenetic regulation of</text>
<text x="119.8" y="356.0" font-size="7.3" font-weight="bold" text-anchor="end">gene expression</text>
<text x="119.8" y="363.6" font-size="7.3" font-weight="bold" text-anchor="end">snRNA 3′-end processing</text>
<text x="119.8" y="371.0" font-size="7.3" font-weight="bold" text-anchor="end">regulation of meiotic cell</text>
<text x="119.8" y="376.6" font-size="7.3" font-weight="bold" text-anchor="end">cycle process involved in</text>
<text x="119.8" y="382.4" font-size="7.3" font-weight="bold" text-anchor="end">oocyte maturation</text>
<text x="119.8" y="389.6" font-size="7.3" font-weight="bold" text-anchor="end">endosomal transport</text>
<text x="119.8" y="401.6" font-size="7.3" font-weight="bold" text-anchor="end">vacuole organization</text>
<text x="119.8" y="411.0" font-size="7.3" font-weight="bold" text-anchor="end">positive regulation of</text>
<text x="119.8" y="416.4" font-size="7.3" font-weight="bold" text-anchor="end">MAPK cascade</text>
<text x="119.8" y="422.6" font-size="7.3" font-weight="bold" text-anchor="end">regulation of cellular</text>
<text x="119.8" y="428.6" font-size="7.3" font-weight="bold" text-anchor="end">response to stress</text>
<text x="119.8" y="436.2" font-size="7.3" font-weight="bold" text-anchor="end">protein-containing complex</text>
<text x="119.8" y="441.4" font-size="7.3" font-weight="bold" text-anchor="end">disassembly</text>
<text x="119.8" y="448.3" font-size="7.3" font-weight="bold" text-anchor="end">negative regulation of stress-</text>
<text x="119.8" y="454.3" font-size="7.3" font-weight="bold" text-anchor="end">activated MAPK cascade</text>
<text x="119.8" y="459.8" font-size="7.3" font-weight="bold" text-anchor="end">G protein-coupled receptor</text>
<text x="119.8" y="465.5" font-size="7.3" font-weight="bold" text-anchor="end">signaling pathway involved</text>
<text x="119.8" y="471.4" font-size="7.3" font-weight="bold" text-anchor="end">in heart process</text>
<text x="119.8" y="476.8" font-size="7.3" font-weight="bold" text-anchor="end">snRNA processing</text>
<text x="119.8" y="488.9" font-size="7.3" font-weight="bold" text-anchor="end">retrograde transport to Golgi</text>
<text x="119.8" y="499.9" font-size="7.3" font-weight="bold" text-anchor="end">positive regulation of stress-</text>
<text x="119.8" y="505.3" font-size="7.3" font-weight="bold" text-anchor="end">activated MAPK cascade</text>
<defs><linearGradient id="gb" x1="0" y1="0" x2="0" y2="1"><stop offset="0" stop-color="#e8545e"/><stop offset="0.5" stop-color="#a0608a"/><stop offset="0.75" stop-color="#6e6cac"/><stop offset="1" stop-color="#2d7dc8"/></linearGradient></defs>
<text x="213.9" y="301.4" font-size="8.5" font-weight="bold">p value</text>
<rect x="210.4" y="305.3" width="11.5" height="57.5" fill="url(#gb)"/>
<text x="224.8" y="320.3" font-size="7.8" font-weight="bold">1×10<tspan font-size="5.3" dx="0.3" dy="-2.6">−4</tspan></text>
<text x="224.8" y="334.6" font-size="7.8" font-weight="bold">2×10<tspan font-size="5.3" dx="0.3" dy="-2.6">−4</tspan></text>
<text x="224.8" y="348.6" font-size="7.8" font-weight="bold">3×10<tspan font-size="5.3" dx="0.3" dy="-2.6">−4</tspan></text>
<text x="224.8" y="362.5" font-size="7.8" font-weight="bold">4×10<tspan font-size="5.3" dx="0.3" dy="-2.6">−4</tspan></text>
<rect x="397.5" y="283" width="137.10000000000002" height="220.8" fill="#fff"/><line x1="403.1" y1="283" x2="403.1" y2="503.8" stroke="#ebebeb" stroke-width="0.6"/><line x1="426.4" y1="283" x2="426.4" y2="503.8" stroke="#f3f3f3" stroke-width="0.6"/><line x1="449.7" y1="283" x2="449.7" y2="503.8" stroke="#ebebeb" stroke-width="0.6"/><line x1="472.9" y1="283" x2="472.9" y2="503.8" stroke="#f3f3f3" stroke-width="0.6"/><line x1="496.2" y1="283" x2="496.2" y2="503.8" stroke="#ebebeb" stroke-width="0.6"/><line x1="519.5" y1="283" x2="519.5" y2="503.8" stroke="#f3f3f3" stroke-width="0.6"/><line x1="397.5" y1="290.2" x2="534.6" y2="290.2" stroke="#ebebeb" stroke-width="0.6"/><line x1="397.5" y1="302.3" x2="534.6" y2="302.3" stroke="#ebebeb" stroke-width="0.6"/><line x1="397.5" y1="314.4" x2="534.6" y2="314.4" stroke="#ebebeb" stroke-width="0.6"/><line x1="397.5" y1="326.5" x2="534.6" y2="326.5" stroke="#ebebeb" stroke-width="0.6"/><line x1="397.5" y1="338.6" x2="534.6" y2="338.6" stroke="#ebebeb" stroke-width="0.6"/><line x1="397.5" y1="350.8" x2="534.6" y2="350.8" stroke="#ebebeb" stroke-width="0.6"/><line x1="397.5" y1="362.9" x2="534.6" y2="362.9" stroke="#ebebeb" stroke-width="0.6"/><line x1="397.5" y1="375.0" x2="534.6" y2="375.0" stroke="#ebebeb" stroke-width="0.6"/><line x1="397.5" y1="387.1" x2="534.6" y2="387.1" stroke="#ebebeb" stroke-width="0.6"/><line x1="397.5" y1="399.2" x2="534.6" y2="399.2" stroke="#ebebeb" stroke-width="0.6"/><line x1="397.5" y1="411.3" x2="534.6" y2="411.3" stroke="#ebebeb" stroke-width="0.6"/><line x1="397.5" y1="423.4" x2="534.6" y2="423.4" stroke="#ebebeb" stroke-width="0.6"/><line x1="397.5" y1="435.5" x2="534.6" y2="435.5" stroke="#ebebeb" stroke-width="0.6"/><line x1="397.5" y1="447.6" x2="534.6" y2="447.6" stroke="#ebebeb" stroke-width="0.6"/><line x1="397.5" y1="459.7" x2="534.6" y2="459.7" stroke="#ebebeb" stroke-width="0.6"/><line x1="397.5" y1="471.8" x2="534.6" y2="471.8" stroke="#ebebeb" stroke-width="0.6"/><line x1="397.5" y1="484.0" x2="534.6" y2="484.0" stroke="#ebebeb" stroke-width="0.6"/><line x1="397.5" y1="496.1" x2="534.6" y2="496.1" stroke="#ebebeb" stroke-width="0.6"/>
<rect x="403.1" y="284.9" width="16.6" height="10.5" fill="#df575e"/>
<rect x="403.1" y="297.1" width="15.7" height="10.5" fill="#df575e"/>
<rect x="403.1" y="309.2" width="64.0" height="10.5" fill="#df575e"/>
<rect x="403.1" y="321.3" width="13.1" height="10.5" fill="#de575f"/>
<rect x="403.1" y="333.4" width="16.9" height="10.5" fill="#de575f"/>
<rect x="403.1" y="345.5" width="59.0" height="10.5" fill="#dd5760"/>
<rect x="403.1" y="357.6" width="13.7" height="10.5" fill="#dc5861"/>
<rect x="403.1" y="369.7" width="26.2" height="10.5" fill="#d65865"/>
<rect x="403.1" y="381.8" width="25.6" height="10.5" fill="#a66286"/>
<rect x="403.1" y="393.9" width="29.9" height="10.5" fill="#9b648e"/>
<rect x="403.1" y="406.0" width="17.4" height="10.5" fill="#a0638b"/>
<rect x="403.1" y="418.2" width="11.6" height="10.5" fill="#966491"/>
<rect x="403.1" y="430.3" width="36.9" height="10.5" fill="#8c6ca0"/>
<rect x="403.1" y="442.4" width="36.9" height="10.5" fill="#8c6ca0"/>
<rect x="403.1" y="454.5" width="16.9" height="10.5" fill="#8c6ca0"/>
<rect x="403.1" y="466.6" width="12.5" height="10.5" fill="#307abe"/>
<rect x="403.1" y="478.7" width="12.5" height="10.5" fill="#307abe"/>
<rect x="403.1" y="490.8" width="34.0" height="10.5" fill="#2a7ac3"/>
<rect x="397.5" y="283" width="137.10000000000002" height="220.8" fill="none" stroke="#b3b3b3" stroke-width="0.6"/>
<line x1="395.7" y1="290.2" x2="397.5" y2="290.2" stroke="#555" stroke-width="0.5"/>
<line x1="395.7" y1="302.3" x2="397.5" y2="302.3" stroke="#555" stroke-width="0.5"/>
<line x1="395.7" y1="314.4" x2="397.5" y2="314.4" stroke="#555" stroke-width="0.5"/>
<line x1="395.7" y1="326.5" x2="397.5" y2="326.5" stroke="#555" stroke-width="0.5"/>
<line x1="395.7" y1="338.6" x2="397.5" y2="338.6" stroke="#555" stroke-width="0.5"/>
<line x1="395.7" y1="350.8" x2="397.5" y2="350.8" stroke="#555" stroke-width="0.5"/>
<line x1="395.7" y1="362.9" x2="397.5" y2="362.9" stroke="#555" stroke-width="0.5"/>
<line x1="395.7" y1="375.0" x2="397.5" y2="375.0" stroke="#555" stroke-width="0.5"/>
<line x1="395.7" y1="387.1" x2="397.5" y2="387.1" stroke="#555" stroke-width="0.5"/>
<line x1="395.7" y1="399.2" x2="397.5" y2="399.2" stroke="#555" stroke-width="0.5"/>
<line x1="395.7" y1="411.3" x2="397.5" y2="411.3" stroke="#555" stroke-width="0.5"/>
<line x1="395.7" y1="423.4" x2="397.5" y2="423.4" stroke="#555" stroke-width="0.5"/>
<line x1="395.7" y1="435.5" x2="397.5" y2="435.5" stroke="#555" stroke-width="0.5"/>
<line x1="395.7" y1="447.6" x2="397.5" y2="447.6" stroke="#555" stroke-width="0.5"/>
<line x1="395.7" y1="459.7" x2="397.5" y2="459.7" stroke="#555" stroke-width="0.5"/>
<line x1="395.7" y1="471.8" x2="397.5" y2="471.8" stroke="#555" stroke-width="0.5"/>
<line x1="395.7" y1="484.0" x2="397.5" y2="484.0" stroke="#555" stroke-width="0.5"/>
<line x1="395.7" y1="496.1" x2="397.5" y2="496.1" stroke="#555" stroke-width="0.5"/>
<line x1="403.1" y1="503.8" x2="403.1" y2="505.40000000000003" stroke="#555" stroke-width="0.5"/>
<text x="403.1" y="510.0" font-size="5.0" text-anchor="middle" fill="#4d4d4d">0</text>
<line x1="449.7" y1="503.8" x2="449.7" y2="505.40000000000003" stroke="#555" stroke-width="0.5"/>
<text x="449.7" y="510.0" font-size="5.0" text-anchor="middle" fill="#4d4d4d">10</text>
<line x1="496.2" y1="503.8" x2="496.2" y2="505.40000000000003" stroke="#555" stroke-width="0.5"/>
<text x="496.2" y="510.0" font-size="5.0" text-anchor="middle" fill="#4d4d4d">20</text>
<text x="465.8" y="515.8" font-size="5.1" text-anchor="middle" fill="#1a1a1a">FoldEnrichment</text>
<text x="393.8" y="289.8" font-size="7.3" font-weight="bold" text-anchor="end">mitotic cell cycle</text>
<text x="393.8" y="295.9" font-size="7.3" font-weight="bold" text-anchor="end">phase transition</text>
<text x="393.8" y="302.4" font-size="7.3" font-weight="bold" text-anchor="end">regulation of mitotic cell</text>
<text x="393.8" y="308.3" font-size="7.3" font-weight="bold" text-anchor="end">cycle phase transition</text>
<text x="393.8" y="314.4" font-size="7.3" font-weight="bold" text-anchor="end">positive regulation of stress-</text>
<text x="393.8" y="319.9" font-size="7.3" font-weight="bold" text-anchor="end">activated MAPK cascade</text>
<text x="393.8" y="325.8" font-size="7.3" font-weight="bold" text-anchor="end">regulation of cellular</text>
<text x="393.8" y="331.3" font-size="7.3" font-weight="bold" text-anchor="end">response to stress</text>
<text x="393.8" y="337.2" font-size="7.3" font-weight="bold" text-anchor="end">response to endoplasmic</text>
<text x="393.8" y="343.3" font-size="7.3" font-weight="bold" text-anchor="end">reticulum stress</text>
<text x="393.8" y="348.9" font-size="7.3" font-weight="bold" text-anchor="end">positive regulation of stress-</text>
<text x="393.8" y="354.4" font-size="7.3" font-weight="bold" text-anchor="end">activated protein kinase</text>
<text x="393.8" y="359.5" font-size="7.3" font-weight="bold" text-anchor="end">signaling cascade</text>
<text x="393.8" y="364.9" font-size="7.3" font-weight="bold" text-anchor="end">regulation of cell cycle</text>
<text x="393.8" y="370.8" font-size="7.3" font-weight="bold" text-anchor="end">phase transition</text>
<text x="393.8" y="376.8" font-size="7.3" font-weight="bold" text-anchor="end">ERAD pathway</text>
<text x="393.8" y="386.0" font-size="7.3" font-weight="bold" text-anchor="end">cellular response to</text>
<text x="393.8" y="391.1" font-size="7.3" font-weight="bold" text-anchor="end">ionizing radiation</text>
<text x="393.8" y="396.6" font-size="7.3" font-weight="bold" text-anchor="end">regulation of substrate</text>
<text x="393.8" y="402.2" font-size="7.3" font-weight="bold" text-anchor="end">adhesion-dependent</text>
<text x="393.8" y="407.7" font-size="7.3" font-weight="bold" text-anchor="end">cell spreading</text>
<text x="393.8" y="413.2" font-size="7.3" font-weight="bold" text-anchor="end">stem cell population</text>
<text x="393.8" y="419.5" font-size="7.3" font-weight="bold" text-anchor="end">maintenance</text>
<text x="393.8" y="424.6" font-size="7.3" font-weight="bold" text-anchor="end">regulation of mitotic</text>
<text x="393.8" y="430.3" font-size="7.3" font-weight="bold" text-anchor="end">cell cycle</text>
<text x="393.8" y="436.3" font-size="7.3" font-weight="bold" text-anchor="end">regulation of stress-</text>
<text x="393.8" y="442.1" font-size="7.3" font-weight="bold" text-anchor="end">activated MAPK cascade</text>
<text x="393.8" y="448.3" font-size="7.3" font-weight="bold" text-anchor="end">positive regulation of substrate</text>
<text x="393.8" y="454.3" font-size="7.3" font-weight="bold" text-anchor="end">adhesion-dependent cell spreading</text>
<text x="393.8" y="461.8" font-size="7.3" font-weight="bold" text-anchor="end">maintenance of cell number</text>
<text x="393.8" y="473.2" font-size="7.3" font-weight="bold" text-anchor="end">nucleocytoplasmic transport</text>
<text x="393.8" y="486.2" font-size="7.3" font-weight="bold" text-anchor="end">nuclear transport</text>
<text x="393.8" y="493.2" font-size="7.3" font-weight="bold" text-anchor="end">regulation of stress-</text>
<text x="393.8" y="499.0" font-size="7.3" font-weight="bold" text-anchor="end">activated protein kinase</text>
<text x="393.8" y="504.0" font-size="7.3" font-weight="bold" text-anchor="end">signaling cascade</text>
<defs><linearGradient id="gf" x1="0" y1="0" x2="0" y2="1"><stop offset="0" stop-color="#e8545e"/><stop offset="0.5" stop-color="#a0608a"/><stop offset="0.75" stop-color="#6e6cac"/><stop offset="1" stop-color="#2d7dc8"/></linearGradient></defs>
<text x="487.8" y="301.4" font-size="8.5" font-weight="bold">p value</text>
<rect x="485" y="304.1" width="11.2" height="58.2" fill="url(#gf)"/>
<text x="498.4" y="317.3" font-size="7.8" font-weight="bold">1×10<tspan font-size="5.3" dx="0.3" dy="-2.6">−4</tspan></text>
<text x="498.4" y="327.2" font-size="7.8" font-weight="bold">2×10<tspan font-size="5.3" dx="0.3" dy="-2.6">−4</tspan></text>
<text x="498.4" y="337.0" font-size="7.8" font-weight="bold">3×10<tspan font-size="5.3" dx="0.3" dy="-2.6">−4</tspan></text>
<text x="498.4" y="346.9" font-size="7.8" font-weight="bold">4×10<tspan font-size="5.3" dx="0.3" dy="-2.6">−4</tspan></text>
<text x="498.4" y="356.8" font-size="7.8" font-weight="bold">5×10<tspan font-size="5.3" dx="0.3" dy="-2.6">−4</tspan></text>
<text x="10.2" y="528.3" font-size="11" font-weight="bold">C</text>
<text x="280.0" y="529.0" font-size="11" font-weight="bold">G</text>
<ellipse cx="116.25" cy="577" rx="53.1" ry="54.5" fill="none" stroke="#1a1a1a" stroke-width="0.9"/>
<ellipse cx="188" cy="576.3" rx="53.1" ry="54.5" fill="none" stroke="#1a1a1a" stroke-width="0.9"/>
<ellipse cx="152.65" cy="638.8" rx="53.1" ry="54.5" fill="none" stroke="#1a1a1a" stroke-width="0.9"/>
<text transform="translate(115.3,541.3) scale(1,1.12)" font-size="12.3" font-weight="bold" text-anchor="middle" fill="#111" stroke="#111" stroke-width="0.3" textLength="41.8" lengthAdjust="spacingAndGlyphs">DOWN</text>
<text transform="translate(190.0,541.0) scale(1,1.12)" font-size="12.3" font-weight="bold" text-anchor="middle" fill="#111" stroke="#111" stroke-width="0.3" textLength="18.3" lengthAdjust="spacingAndGlyphs">UP</text>
<text transform="translate(102.2,567.2) scale(1,1.12)" font-size="12.7" font-weight="bold" text-anchor="middle" fill="#111" stroke="#111" stroke-width="0.3" textLength="23.1" lengthAdjust="spacingAndGlyphs">169</text>
<text transform="translate(102.0,585.0) scale(1,1.12)" font-size="12.7" font-weight="bold" text-anchor="middle" fill="#111" stroke="#111" stroke-width="0.3" textLength="48.9" lengthAdjust="spacingAndGlyphs">(11.7%)</text>
<text transform="translate(152.3,570.9) scale(1,1.12)" font-size="12.7" font-weight="bold" text-anchor="middle" fill="#111" stroke="#111" stroke-width="0.3" textLength="7.3" lengthAdjust="spacingAndGlyphs">0</text>
<text transform="translate(198.9,565.3) scale(1,1.12)" font-size="12.7" font-weight="bold" text-anchor="middle" fill="#111" stroke="#111" stroke-width="0.3" textLength="23.0" lengthAdjust="spacingAndGlyphs">130</text>
<text transform="translate(198.8,582.3) scale(1,1.12)" font-size="12.7" font-weight="bold" text-anchor="middle" fill="#111" stroke="#111" stroke-width="0.3" textLength="31.2" lengthAdjust="spacingAndGlyphs">(9%)</text>
<text transform="translate(152.3,600.0) scale(1,1.12)" font-size="12.7" font-weight="bold" text-anchor="middle" fill="#111" stroke="#111" stroke-width="0.3" textLength="7.3" lengthAdjust="spacingAndGlyphs">0</text>
<text transform="translate(127.4,608.5) scale(1,1.12)" font-size="12.7" font-weight="bold" text-anchor="middle" fill="#111" stroke="#111" stroke-width="0.3" textLength="14.5" lengthAdjust="spacingAndGlyphs">18</text>
<text transform="translate(126.9,619.5) scale(1,1.12)" font-size="12.7" font-weight="bold" text-anchor="middle" fill="#111" stroke="#111" stroke-width="0.3" textLength="40.4" lengthAdjust="spacingAndGlyphs">(1.2%)</text>
<text transform="translate(178.0,607.4) scale(1,1.12)" font-size="12.7" font-weight="bold" text-anchor="middle" fill="#111" stroke="#111" stroke-width="0.3" textLength="13.8" lengthAdjust="spacingAndGlyphs">12</text>
<text transform="translate(177.6,618.9) scale(1,1.12)" font-size="12.7" font-weight="bold" text-anchor="middle" fill="#111" stroke="#111" stroke-width="0.3" textLength="38.5" lengthAdjust="spacingAndGlyphs">(0.8%)</text>
<text transform="translate(152.0,643.6) scale(1,1.12)" font-size="12.7" font-weight="bold" text-anchor="middle" fill="#111" stroke="#111" stroke-width="0.3" textLength="30.3" lengthAdjust="spacingAndGlyphs">1113</text>
<text transform="translate(152.3,661.4) scale(1,1.12)" font-size="12.7" font-weight="bold" text-anchor="middle" fill="#111" stroke="#111" stroke-width="0.3" textLength="52.2" lengthAdjust="spacingAndGlyphs">(77.2%)</text>
<text transform="translate(152.0,677.9) scale(1,1.12)" font-size="12.3" font-weight="bold" text-anchor="middle" fill="#111" stroke="#111" stroke-width="0.3" textLength="61.1" lengthAdjust="spacingAndGlyphs">MitoCarta</text>
<ellipse cx="367.45" cy="577.5" rx="53.1" ry="54.5" fill="none" stroke="#1a1a1a" stroke-width="0.9"/>
<ellipse cx="439.1" cy="576" rx="53.1" ry="54.5" fill="none" stroke="#1a1a1a" stroke-width="0.9"/>
<ellipse cx="403.55" cy="640" rx="53.1" ry="54.5" fill="none" stroke="#1a1a1a" stroke-width="0.9"/>
<text transform="translate(365.9,541.5) scale(1,1.12)" font-size="12.3" font-weight="bold" text-anchor="middle" fill="#111" stroke="#111" stroke-width="0.3" textLength="42.4" lengthAdjust="spacingAndGlyphs">DOWN</text>
<text transform="translate(441.6,540.7) scale(1,1.12)" font-size="12.3" font-weight="bold" text-anchor="middle" fill="#111" stroke="#111" stroke-width="0.3" textLength="18.1" lengthAdjust="spacingAndGlyphs">UP</text>
<text transform="translate(353.7,567.7) scale(1,1.12)" font-size="12.7" font-weight="bold" text-anchor="middle" fill="#111" stroke="#111" stroke-width="0.3" textLength="24.4" lengthAdjust="spacingAndGlyphs">212</text>
<text transform="translate(353.0,585.3) scale(1,1.12)" font-size="12.7" font-weight="bold" text-anchor="middle" fill="#111" stroke="#111" stroke-width="0.3" textLength="51.7" lengthAdjust="spacingAndGlyphs">(14.7%)</text>
<text transform="translate(403.5,572.2) scale(1,1.12)" font-size="12.7" font-weight="bold" text-anchor="middle" fill="#111" stroke="#111" stroke-width="0.3" textLength="8.0" lengthAdjust="spacingAndGlyphs">0</text>
<text transform="translate(449.5,566.3) scale(1,1.12)" font-size="12.7" font-weight="bold" text-anchor="middle" fill="#111" stroke="#111" stroke-width="0.3" textLength="16.8" lengthAdjust="spacingAndGlyphs">86</text>
<text transform="translate(449.6,583.5) scale(1,1.12)" font-size="12.7" font-weight="bold" text-anchor="middle" fill="#111" stroke="#111" stroke-width="0.3" textLength="31.0" lengthAdjust="spacingAndGlyphs">(6%)</text>
<text transform="translate(403.5,600.1) scale(1,1.12)" font-size="12.7" font-weight="bold" text-anchor="middle" fill="#111" stroke="#111" stroke-width="0.3" textLength="8.0" lengthAdjust="spacingAndGlyphs">0</text>
<text transform="translate(378.3,607.6) scale(1,1.12)" font-size="12.7" font-weight="bold" text-anchor="middle" fill="#111" stroke="#111" stroke-width="0.3" textLength="13.1" lengthAdjust="spacingAndGlyphs">11</text>
<text transform="translate(377.1,620.6) scale(1,1.12)" font-size="12.7" font-weight="bold" text-anchor="middle" fill="#111" stroke="#111" stroke-width="0.3" textLength="40.4" lengthAdjust="spacingAndGlyphs">(0.8%)</text>
<text transform="translate(429.0,607.7) scale(1,1.12)" font-size="12.7" font-weight="bold" text-anchor="middle" fill="#111" stroke="#111" stroke-width="0.3" textLength="13.9" lengthAdjust="spacingAndGlyphs">17</text>
<text transform="translate(428.4,621.4) scale(1,1.12)" font-size="12.7" font-weight="bold" text-anchor="middle" fill="#111" stroke="#111" stroke-width="0.3" textLength="38.5" lengthAdjust="spacingAndGlyphs">(1.2%)</text>
<text transform="translate(403.7,643.8) scale(1,1.12)" font-size="12.7" font-weight="bold" text-anchor="middle" fill="#111" stroke="#111" stroke-width="0.3" textLength="30.8" lengthAdjust="spacingAndGlyphs">1118</text>
<text transform="translate(402.9,661.8) scale(1,1.12)" font-size="12.7" font-weight="bold" text-anchor="middle" fill="#111" stroke="#111" stroke-width="0.3" textLength="52.3" lengthAdjust="spacingAndGlyphs">(77.4%)</text>
<text transform="translate(403.0,679.3) scale(1,1.12)" font-size="12.3" font-weight="bold" text-anchor="middle" fill="#111" stroke="#111" stroke-width="0.3" textLength="61.3" lengthAdjust="spacingAndGlyphs">MitoCarta</text>
<path d="M4,752 L138.5,752 C160,752 180,754 196.5,761 L197,790 L212,796 L212,822 L205,829 L138.5,822 L4,820 Z" fill="#fdf9f8"/>
<path d="M40,751.5 L138.5,752 C160,752 180,754 196.5,761 L196.5,770.5 C190,770.5 181,770.5 179,773 C177,776 176,786 170.5,784.5 C165,783 166,770 162,767 C158,764 152,763.5 138.5,763.5 L118,763.5 L110,770 L40,770 Z" fill="#fbefea"/>
<path d="M54,752 H66" fill="none" stroke="#f0dcd2" stroke-width="3.2" stroke-linecap="round" stroke-linejoin="round"/>
<path d="M54,752 H66" fill="none" stroke="#fbf1ec" stroke-width="1.5" stroke-linecap="round" stroke-linejoin="round"/>
<path d="M132,751 H138.5" fill="none" stroke="#f0dcd2" stroke-width="3.2" stroke-linecap="round" stroke-linejoin="round"/>
<path d="M132,751 H138.5" fill="none" stroke="#fbf1ec" stroke-width="1.5" stroke-linecap="round" stroke-linejoin="round"/>
<path d="M109.5,782 C114,780 114,772 116,767 C118,763 125,763 138.5,763.5" fill="none" stroke="#f0dcd2" stroke-width="3.2" stroke-linecap="round" stroke-linejoin="round"/>
<path d="M109.5,782 C114,780 114,772 116,767 C118,763 125,763 138.5,763.5" fill="none" stroke="#fbf1ec" stroke-width="1.5" stroke-linecap="round" stroke-linejoin="round"/>
<path d="M55,780 C58,776 58,770 61,768" fill="none" stroke="#f0dcd2" stroke-width="3.2" stroke-linecap="round" stroke-linejoin="round"/>
<path d="M55,780 C58,776 58,770 61,768" fill="none" stroke="#fbf1ec" stroke-width="1.5" stroke-linecap="round" stroke-linejoin="round"/>
<path d="M92.5,829.5 C92.5,820 92.5,814 95,813 C98,812 100,813 102,816 C104,820 106,821.5 112,821.5 C122,821.5 130,821 138.5,820.5" fill="none" stroke="#f0dcd2" stroke-width="3.6" stroke-linecap="round" stroke-linejoin="round"/>
<path d="M92.5,829.5 C92.5,820 92.5,814 95,813 C98,812 100,813 102,816 C104,820 106,821.5 112,821.5 C122,821.5 130,821 138.5,820.5" fill="none" stroke="#fbf1ec" stroke-width="1.9" stroke-linecap="round" stroke-linejoin="round"/>
<path d="M54.5,816 C58,815 62,812.5 65,812.5 C67,813 67.5,816 67.3,820" fill="none" stroke="#f0dcd2" stroke-width="3.6" stroke-linecap="round" stroke-linejoin="round"/>
<path d="M54.5,816 C58,815 62,812.5 65,812.5 C67,813 67.5,816 67.3,820" fill="none" stroke="#fbf1ec" stroke-width="1.9" stroke-linecap="round" stroke-linejoin="round"/>
<path d="M67,835 H74.5" fill="none" stroke="#f0dcd2" stroke-width="3.2" stroke-linecap="round" stroke-linejoin="round"/>
<path d="M67,835 H74.5" fill="none" stroke="#fbf1ec" stroke-width="1.5" stroke-linecap="round" stroke-linejoin="round"/>
<path d="M67,845 H74.5" fill="none" stroke="#f0dcd2" stroke-width="3.2" stroke-linecap="round" stroke-linejoin="round"/>
<path d="M67,845 H74.5" fill="none" stroke="#fbf1ec" stroke-width="1.5" stroke-linecap="round" stroke-linejoin="round"/>
<path d="M132.4,835.5 H142.3" fill="none" stroke="#f0dcd2" stroke-width="3.2" stroke-linecap="round" stroke-linejoin="round"/>
<path d="M132.4,835.5 H142.3" fill="none" stroke="#fbf1ec" stroke-width="1.5" stroke-linecap="round" stroke-linejoin="round"/>
<path d="M132.4,848 H142.3" fill="none" stroke="#f0dcd2" stroke-width="3.2" stroke-linecap="round" stroke-linejoin="round"/>
<path d="M132.4,848 H142.3" fill="none" stroke="#fbf1ec" stroke-width="1.5" stroke-linecap="round" stroke-linejoin="round"/>
<path d="M138.5,752 C160,752 180,754 196.5,761" fill="none" stroke="#b9785f" stroke-width="4.0" stroke-linecap="round" stroke-linejoin="round"/>
<path d="M138.5,752 C160,752 180,754 196.5,761" fill="none" stroke="#edd5c8" stroke-width="1.8" stroke-linecap="round" stroke-linejoin="round"/>
<path d="M138.5,763.5 C152,763.5 158,764 162,767 C166,770 165,783 170.5,784.5 C176,786 177,776 179,773 C181,770.5 190,770.5 196.5,770.5" fill="none" stroke="#b9785f" stroke-width="4.0" stroke-linecap="round" stroke-linejoin="round"/>
<path d="M138.5,763.5 C152,763.5 158,764 162,767 C166,770 165,783 170.5,784.5 C176,786 177,776 179,773 C181,770.5 190,770.5 196.5,770.5" fill="none" stroke="#edd5c8" stroke-width="1.8" stroke-linecap="round" stroke-linejoin="round"/>
<path d="M211.5,790.5 C207,792 206,797 210,797.5" fill="none" stroke="#b9785f" stroke-width="4.0" stroke-linecap="round" stroke-linejoin="round"/>
<path d="M211.5,790.5 C207,792 206,797 210,797.5" fill="none" stroke="#edd5c8" stroke-width="1.8" stroke-linecap="round" stroke-linejoin="round"/>
<path d="M235,790.5 L236,795.5" fill="none" stroke="#b9785f" stroke-width="4.0" stroke-linecap="round" stroke-linejoin="round"/>
<path d="M235,790.5 L236,795.5" fill="none" stroke="#edd5c8" stroke-width="1.8" stroke-linecap="round" stroke-linejoin="round"/>
<path d="M221,820.5 L220.5,825" fill="none" stroke="#b9785f" stroke-width="4.0" stroke-linecap="round" stroke-linejoin="round"/>
<path d="M221,820.5 L220.5,825" fill="none" stroke="#edd5c8" stroke-width="1.8" stroke-linecap="round" stroke-linejoin="round"/>
<path d="M237.5,820.5 L237,825" fill="none" stroke="#b9785f" stroke-width="4.0" stroke-linecap="round" stroke-linejoin="round"/>
<path d="M237.5,820.5 L237,825" fill="none" stroke="#edd5c8" stroke-width="1.8" stroke-linecap="round" stroke-linejoin="round"/>
<path d="M138.5,821.8 C146,822 150,821 154,817 C158,812.5 162,811 165.5,813 C169,815 169,822 171,829.6" fill="none" stroke="#b9785f" stroke-width="4.0" stroke-linecap="round" stroke-linejoin="round"/>
<path d="M138.5,821.8 C146,822 150,821 154,817 C158,812.5 162,811 165.5,813 C169,815 169,822 171,829.6" fill="none" stroke="#edd5c8" stroke-width="1.8" stroke-linecap="round" stroke-linejoin="round"/>
<path d="M187.5,829.6 C188,824 191,822 194.5,822 C198,822 200,825 200.5,829.6" fill="none" stroke="#b9785f" stroke-width="4.0" stroke-linecap="round" stroke-linejoin="round"/>
<path d="M187.5,829.6 C188,824 191,822 194.5,822 C198,822 200,825 200.5,829.6" fill="none" stroke="#edd5c8" stroke-width="1.8" stroke-linecap="round" stroke-linejoin="round"/>
<path d="M205.5,835.5 C209,835 211,833 214.6,832" fill="none" stroke="#b9785f" stroke-width="4.0" stroke-linecap="round" stroke-linejoin="round"/>
<path d="M205.5,835.5 C209,835 211,833 214.6,832" fill="none" stroke="#edd5c8" stroke-width="1.8" stroke-linecap="round" stroke-linejoin="round"/>
<path d="M205.5,848 C209,848 211,846 214.6,845" fill="none" stroke="#b9785f" stroke-width="4.0" stroke-linecap="round" stroke-linejoin="round"/>
<path d="M205.5,848 C209,848 211,846 214.6,845" fill="none" stroke="#edd5c8" stroke-width="1.8" stroke-linecap="round" stroke-linejoin="round"/>
<path d="M138.5,835.5 H142.3" fill="none" stroke="#b9785f" stroke-width="4.0" stroke-linecap="round" stroke-linejoin="round"/>
<path d="M138.5,835.5 H142.3" fill="none" stroke="#edd5c8" stroke-width="1.8" stroke-linecap="round" stroke-linejoin="round"/>
<path d="M138.5,848 H142.3" fill="none" stroke="#b9785f" stroke-width="4.0" stroke-linecap="round" stroke-linejoin="round"/>
<path d="M138.5,848 H142.3" fill="none" stroke="#edd5c8" stroke-width="1.8" stroke-linecap="round" stroke-linejoin="round"/>
<rect x="5.8" y="739.5" width="48.7" height="75.0" rx="2.5" fill="#fdfaf8" stroke="#efddd3" stroke-width="1"/>
<text x="30.1" y="749.0" font-size="7.3" font-weight="bold" text-anchor="middle" fill="#111" stroke="#111" stroke-width="0.15">Metabolism</text>
<text x="30.1" y="756.4" font-size="7.2" text-anchor="middle" fill="#1a1a1a" stroke="#1a1a1a" stroke-width="0.18">Fastkd3</text>
<text x="30.1" y="763.6" font-size="7.2" text-anchor="middle" fill="#1a1a1a" stroke="#1a1a1a" stroke-width="0.18">Ckmt1</text>
<text x="30.1" y="770.9" font-size="7.2" text-anchor="middle" fill="#1a1a1a" stroke="#1a1a1a" stroke-width="0.18">Dlst</text>
<text x="30.1" y="778.2" font-size="7.2" text-anchor="middle" fill="#1a1a1a" stroke="#1a1a1a" stroke-width="0.18">Timm22</text>
<text x="30.1" y="785.5" font-size="7.2" text-anchor="middle" fill="#1a1a1a" stroke="#1a1a1a" stroke-width="0.18">Hadhb</text>
<text x="30.1" y="793.0" font-size="7.2" text-anchor="middle" fill="#1a1a1a" stroke="#1a1a1a" stroke-width="0.18">Gldc</text>
<text x="30.1" y="800.4" font-size="7.2" text-anchor="middle" fill="#1a1a1a" stroke="#1a1a1a" stroke-width="0.18">Dld</text>
<text x="30.1" y="807.6" font-size="7.2" text-anchor="middle" fill="#1a1a1a" stroke="#1a1a1a" stroke-width="0.18">Mtch2</text>
<rect x="66.4" y="715.5" width="66.3" height="42.3" rx="2.5" fill="#fdfaf8" stroke="#efddd3" stroke-width="1"/>
<text x="99.5" y="723.6" font-size="7.3" font-weight="bold" text-anchor="middle" fill="#111" stroke="#111" stroke-width="0.15">Oxidative</text>
<text x="99.5" y="730.4" font-size="7.3" font-weight="bold" text-anchor="middle" fill="#111" stroke="#111" stroke-width="0.15">Phosphorylation</text>
<text x="99.5" y="738.2" font-size="7.2" text-anchor="middle" fill="#1a1a1a" stroke="#1a1a1a" stroke-width="0.18">Uqcrfs1</text>
<text x="99.5" y="745.5" font-size="7.2" text-anchor="middle" fill="#1a1a1a" stroke="#1a1a1a" stroke-width="0.18">Coq6</text>
<text x="99.5" y="752.2" font-size="7.2" text-anchor="middle" fill="#1a1a1a" stroke="#1a1a1a" stroke-width="0.18">Ndufa9</text>
<rect x="61" y="760.4" width="48.5" height="32.7" rx="2.5" fill="#fdfaf8" stroke="#efddd3" stroke-width="1"/>
<text x="85.2" y="767.3" font-size="7.3" font-weight="bold" text-anchor="middle" fill="#111" stroke="#111" stroke-width="0.15">Oxidative</text>
<text x="85.2" y="774.5" font-size="7.3" font-weight="bold" text-anchor="middle" fill="#111" stroke="#111" stroke-width="0.15">Repair</text>
<text x="85.2" y="781.8" font-size="7.2" text-anchor="middle" fill="#1a1a1a" stroke="#1a1a1a" stroke-width="0.18">Prdx6</text>
<text x="85.2" y="788.6" font-size="7.2" text-anchor="middle" fill="#1a1a1a" stroke="#1a1a1a" stroke-width="0.18">Mpv17</text>
<rect x="6.4" y="819" width="60.9" height="35.5" rx="2.5" fill="#fdfaf8" stroke="#efddd3" stroke-width="1"/>
<text x="36.9" y="827.6" font-size="7.3" font-weight="bold" text-anchor="middle" fill="#111" stroke="#111" stroke-width="0.15">MitoRibosomes</text>
<text x="36.9" y="835.0" font-size="7.3" font-weight="bold" text-anchor="middle" fill="#111" stroke="#111" stroke-width="0.15">&amp; Biosynthesis</text>
<text x="36.9" y="842.2" font-size="7.2" text-anchor="middle" fill="#1a1a1a" stroke="#1a1a1a" stroke-width="0.18">Mrpl3</text>
<text x="36.9" y="849.5" font-size="7.2" text-anchor="middle" fill="#1a1a1a" stroke="#1a1a1a" stroke-width="0.18">Mief1</text>
<rect x="74.5" y="829.5" width="57.9" height="41.4" rx="2.5" fill="#fdfaf8" stroke="#efddd3" stroke-width="1"/>
<text x="103.5" y="837.3" font-size="7.3" font-weight="bold" text-anchor="middle" fill="#111" stroke="#111" stroke-width="0.15">Cell Signaling</text>
<text x="103.5" y="844.5" font-size="7.3" font-weight="bold" text-anchor="middle" fill="#111" stroke="#111" stroke-width="0.15">&amp; Cell Fate</text>
<text x="103.5" y="851.8" font-size="7.2" text-anchor="middle" fill="#1a1a1a" stroke="#1a1a1a" stroke-width="0.18">Slirp</text>
<text x="103.5" y="859.0" font-size="7.2" text-anchor="middle" fill="#1a1a1a" stroke="#1a1a1a" stroke-width="0.18">Alkbh7</text>
<text x="103.5" y="866.1" font-size="7.2" text-anchor="middle" fill="#1a1a1a" stroke="#1a1a1a" stroke-width="0.18">Dnajc4</text>
<rect x="140.5" y="715.5" width="66.9" height="34.0" rx="2.5" fill="#f1dcc0" stroke="#c48a6a" stroke-width="1"/>
<text x="173.9" y="722.9" font-size="7.3" font-weight="bold" text-anchor="middle" fill="#111" stroke="#111" stroke-width="0.15">Oxidative</text>
<text x="173.9" y="730.1" font-size="7.3" font-weight="bold" text-anchor="middle" fill="#111" stroke="#111" stroke-width="0.15">Phosphorylation</text>
<text x="173.9" y="737.4" font-size="7.2" text-anchor="middle" fill="#1a1a1a" stroke="#1a1a1a" stroke-width="0.18">Uqcc3</text>
<text x="173.9" y="744.6" font-size="7.2" text-anchor="middle" fill="#1a1a1a" stroke="#1a1a1a" stroke-width="0.18">Mt-nd5</text>
<rect x="214.7" y="724" width="49.2" height="25.8" rx="2.5" fill="#f1dcc0" stroke="#c48a6a" stroke-width="1"/>
<text x="239.3" y="730.8" font-size="7.3" font-weight="bold" text-anchor="middle" fill="#111" stroke="#111" stroke-width="0.15">Metabolism</text>
<text x="239.3" y="738.4" font-size="7.2" text-anchor="middle" fill="#1a1a1a" stroke="#1a1a1a" stroke-width="0.18">Abhd10</text>
<text x="239.3" y="745.6" font-size="7.2" text-anchor="middle" fill="#1a1a1a" stroke="#1a1a1a" stroke-width="0.18">Ide</text>
<rect x="196.2" y="756.9" width="49.4" height="33.5" rx="2.5" fill="#f1dcc0" stroke="#c48a6a" stroke-width="1"/>
<text x="220.9" y="763.8" font-size="7.3" font-weight="bold" text-anchor="middle" fill="#111" stroke="#111" stroke-width="0.15">Oxidative</text>
<text x="220.9" y="771.2" font-size="7.3" font-weight="bold" text-anchor="middle" fill="#111" stroke="#111" stroke-width="0.15">Repair</text>
<text x="220.9" y="778.4" font-size="7.2" text-anchor="middle" fill="#1a1a1a" stroke="#1a1a1a" stroke-width="0.18">Prdx2</text>
<text x="220.9" y="785.6" font-size="7.2" text-anchor="middle" fill="#1a1a1a" stroke="#1a1a1a" stroke-width="0.18">Gpx1</text>
<rect x="212.2" y="795.3" width="62.2" height="25.1" rx="2.5" fill="#f1dcc0" stroke="#c48a6a" stroke-width="1"/>
<text x="243.3" y="802.2" font-size="7.3" font-weight="bold" text-anchor="middle" fill="#111" stroke="#111" stroke-width="0.15">Structure/</text>
<text x="243.3" y="809.3" font-size="7.3" font-weight="bold" text-anchor="middle" fill="#111" stroke="#111" stroke-width="0.15">Other Function</text>
<text x="243.3" y="816.5" font-size="7.2" text-anchor="middle" fill="#1a1a1a" stroke="#1a1a1a" stroke-width="0.18">Snap29</text>
<rect x="142.3" y="829.6" width="63.2" height="44.9" rx="2.5" fill="#f1dcc0" stroke="#c48a6a" stroke-width="1"/>
<text x="173.9" y="838.7" font-size="7.3" font-weight="bold" text-anchor="middle" fill="#111" stroke="#111" stroke-width="0.15">MitoRibosomes</text>
<text x="173.9" y="845.8" font-size="7.3" font-weight="bold" text-anchor="middle" fill="#111" stroke="#111" stroke-width="0.15">&amp; Biosynthesis</text>
<text x="173.9" y="853.0" font-size="7.2" text-anchor="middle" fill="#1a1a1a" stroke="#1a1a1a" stroke-width="0.18">Lrpprc</text>
<text x="173.9" y="860.2" font-size="7.2" text-anchor="middle" fill="#1a1a1a" stroke="#1a1a1a" stroke-width="0.18">Pars2</text>
<text x="173.9" y="867.4" font-size="7.2" text-anchor="middle" fill="#1a1a1a" stroke="#1a1a1a" stroke-width="0.18">Trit1</text>
<rect x="214.6" y="825.1" width="49.1" height="41.0" rx="2.5" fill="#f1dcc0" stroke="#c48a6a" stroke-width="1"/>
<text x="239.1" y="832.4" font-size="7.3" font-weight="bold" text-anchor="middle" fill="#111" stroke="#111" stroke-width="0.15">Cell</text>
<text x="239.1" y="839.6" font-size="7.3" font-weight="bold" text-anchor="middle" fill="#111" stroke="#111" stroke-width="0.15">Signaling &amp;</text>
<text x="239.1" y="846.7" font-size="7.3" font-weight="bold" text-anchor="middle" fill="#111" stroke="#111" stroke-width="0.15">Cell Fate</text>
<text x="239.1" y="853.8" font-size="7.2" text-anchor="middle" fill="#1a1a1a" stroke="#1a1a1a" stroke-width="0.18">Septin4</text>
<text x="239.1" y="861.0" font-size="7.2" text-anchor="middle" fill="#1a1a1a" stroke="#1a1a1a" stroke-width="0.18">Htatip2</text>
<line x1="138.5" y1="706" x2="138.5" y2="883" stroke="#6e6e6e" stroke-width="1.1" stroke-dasharray="1.1,1.4"/>
<text x="91.3" y="710.9" font-size="13.2" font-weight="bold" text-anchor="middle">DOWN</text>
<text x="210.9" y="710.9" font-size="13.2" font-weight="bold" text-anchor="middle">UP</text>
<text x="10.0" y="702.4" font-size="12" font-weight="bold">D</text>
<path d="M343.7,755 H347.3" fill="none" stroke="#f0dcd2" stroke-width="3.2" stroke-linecap="round" stroke-linejoin="round"/>
<path d="M343.7,755 H347.3" fill="none" stroke="#fbf1ec" stroke-width="1.5" stroke-linecap="round" stroke-linejoin="round"/>
<path d="M392,770.5 H366 C355,771 348,778 346.5,789 C346,795 345.5,798 343.7,800" fill="none" stroke="#f0dcd2" stroke-width="4" stroke-linecap="round" stroke-linejoin="round"/>
<path d="M392,770.5 H366 C355,771 348,778 346.5,789 C346,795 345.5,798 343.7,800" fill="none" stroke="#fbf1ec" stroke-width="2.3" stroke-linecap="round" stroke-linejoin="round"/>
<path d="M377.5,768.2 C377.5,776 377,784.5 382.5,784.8 C388,785 388.5,776 388.5,768.2" fill="none" stroke="#f0dcd2" stroke-width="3.2" stroke-linecap="round" stroke-linejoin="round"/>
<path d="M377.5,768.2 C377.5,776 377,784.5 382.5,784.8 C388,785 388.5,776 388.5,768.2" fill="none" stroke="#fbf1ec" stroke-width="1.5" stroke-linecap="round" stroke-linejoin="round"/>
<path d="M330.5,818 C336,814 340,817 338,826 C337,831 338,831 340.1,832" fill="none" stroke="#f0dcd2" stroke-width="3.2" stroke-linecap="round" stroke-linejoin="round"/>
<path d="M330.5,818 C336,814 340,817 338,826 C337,831 338,831 340.1,832" fill="none" stroke="#fbf1ec" stroke-width="1.5" stroke-linecap="round" stroke-linejoin="round"/>
<path d="M362,831.8 C361,822 362,813 368,812.5 C374,812 374,820 377,823.5 C380,826 395,825 410.5,824" fill="none" stroke="#f0dcd2" stroke-width="3.2" stroke-linecap="round" stroke-linejoin="round"/>
<path d="M362,831.8 C361,822 362,813 368,812.5 C374,812 374,820 377,823.5 C380,826 395,825 410.5,824" fill="none" stroke="#fbf1ec" stroke-width="1.5" stroke-linecap="round" stroke-linejoin="round"/>
<path d="M277.5,803 C276.5,812 276.5,822 278,832" fill="none" stroke="#f0dcd2" stroke-width="3.2" stroke-linecap="round" stroke-linejoin="round"/>
<path d="M277.5,803 C276.5,812 276.5,822 278,832" fill="none" stroke="#fbf1ec" stroke-width="1.5" stroke-linecap="round" stroke-linejoin="round"/>
<path d="M343.7,795 C346,797 346,801 343.7,802" fill="none" stroke="#f0dcd2" stroke-width="3.2" stroke-linecap="round" stroke-linejoin="round"/>
<path d="M343.7,795 C346,797 346,801 343.7,802" fill="none" stroke="#fbf1ec" stroke-width="1.5" stroke-linecap="round" stroke-linejoin="round"/>
<path d="M402.9,838 H415" fill="none" stroke="#f0dcd2" stroke-width="3.2" stroke-linecap="round" stroke-linejoin="round"/>
<path d="M402.9,838 H415" fill="none" stroke="#fbf1ec" stroke-width="1.5" stroke-linecap="round" stroke-linejoin="round"/>
<path d="M406.4,753 H415" fill="none" stroke="#f0dcd2" stroke-width="3.2" stroke-linecap="round" stroke-linejoin="round"/>
<path d="M406.4,753 H415" fill="none" stroke="#fbf1ec" stroke-width="1.5" stroke-linecap="round" stroke-linejoin="round"/>
<path d="M406.4,764.5 H415" fill="none" stroke="#f0dcd2" stroke-width="3.2" stroke-linecap="round" stroke-linejoin="round"/>
<path d="M406.4,764.5 H415" fill="none" stroke="#fbf1ec" stroke-width="1.5" stroke-linecap="round" stroke-linejoin="round"/>
<path d="M410.5,753 H415" fill="none" stroke="#b9785f" stroke-width="4.0" stroke-linecap="round" stroke-linejoin="round"/>
<path d="M410.5,753 H415" fill="none" stroke="#edd5c8" stroke-width="1.8" stroke-linecap="round" stroke-linejoin="round"/>
<path d="M410.5,764.5 H415" fill="none" stroke="#b9785f" stroke-width="4.0" stroke-linecap="round" stroke-linejoin="round"/>
<path d="M410.5,764.5 H415" fill="none" stroke="#edd5c8" stroke-width="1.8" stroke-linecap="round" stroke-linejoin="round"/>
<path d="M439,776.4 C439,783 440,786 444,786 C448.5,786 449.5,783 449.5,776.4" fill="none" stroke="#b9785f" stroke-width="4.0" stroke-linecap="round" stroke-linejoin="round"/>
<path d="M439,776.4 C439,783 440,786 444,786 C448.5,786 449.5,783 449.5,776.4" fill="none" stroke="#edd5c8" stroke-width="1.8" stroke-linecap="round" stroke-linejoin="round"/>
<path d="M475,764.5 H478.4" fill="none" stroke="#b9785f" stroke-width="4.0" stroke-linecap="round" stroke-linejoin="round"/>
<path d="M475,764.5 H478.4" fill="none" stroke="#edd5c8" stroke-width="1.8" stroke-linecap="round" stroke-linejoin="round"/>
<path d="M475,772.5 C478,774 478,778 478.4,781" fill="none" stroke="#b9785f" stroke-width="4.0" stroke-linecap="round" stroke-linejoin="round"/>
<path d="M475,772.5 C478,774 478,778 478.4,781" fill="none" stroke="#edd5c8" stroke-width="1.8" stroke-linecap="round" stroke-linejoin="round"/>
<path d="M410.5,823.8 C418,823.8 424,824 428,821 C431,816 433,814 436,814 C440,814 440.5,819 441,826.4" fill="none" stroke="#b9785f" stroke-width="4.0" stroke-linecap="round" stroke-linejoin="round"/>
<path d="M410.5,823.8 C418,823.8 424,824 428,821 C431,816 433,814 436,814 C440,814 440.5,819 441,826.4" fill="none" stroke="#edd5c8" stroke-width="1.8" stroke-linecap="round" stroke-linejoin="round"/>
<path d="M463,826.4 C463,822 466,822 468,822 C471,822 472,824 472,826.4" fill="none" stroke="#b9785f" stroke-width="4.0" stroke-linecap="round" stroke-linejoin="round"/>
<path d="M463,826.4 C463,822 466,822 468,822 C471,822 472,824 472,826.4" fill="none" stroke="#edd5c8" stroke-width="1.8" stroke-linecap="round" stroke-linejoin="round"/>
<path d="M410.5,838.2 H415" fill="none" stroke="#b9785f" stroke-width="4.0" stroke-linecap="round" stroke-linejoin="round"/>
<path d="M410.5,838.2 H415" fill="none" stroke="#edd5c8" stroke-width="1.8" stroke-linecap="round" stroke-linejoin="round"/>
<path d="M477.7,836 C482,836 486,834 487,829 C488,826 489,826 490.1,826" fill="none" stroke="#b9785f" stroke-width="4.0" stroke-linecap="round" stroke-linejoin="round"/>
<path d="M477.7,836 C482,836 486,834 487,829 C488,826 489,826 490.1,826" fill="none" stroke="#edd5c8" stroke-width="1.8" stroke-linecap="round" stroke-linejoin="round"/>
<path d="M477.7,848 C482,848 486,846 490.1,846" fill="none" stroke="#b9785f" stroke-width="4.0" stroke-linecap="round" stroke-linejoin="round"/>
<path d="M477.7,848 C482,848 486,846 490.1,846" fill="none" stroke="#edd5c8" stroke-width="1.8" stroke-linecap="round" stroke-linejoin="round"/>
<path d="M481,803.1 C481,807 484,809 490,809 C495,809 497,811 497,814.4" fill="none" stroke="#b9785f" stroke-width="4.0" stroke-linecap="round" stroke-linejoin="round"/>
<path d="M481,803.1 C481,807 484,809 490,809 C495,809 497,811 497,814.4" fill="none" stroke="#edd5c8" stroke-width="1.8" stroke-linecap="round" stroke-linejoin="round"/>
<path d="M511.5,803.1 L511.5,814.4" fill="none" stroke="#b9785f" stroke-width="4.0" stroke-linecap="round" stroke-linejoin="round"/>
<path d="M511.5,803.1 L511.5,814.4" fill="none" stroke="#edd5c8" stroke-width="1.8" stroke-linecap="round" stroke-linejoin="round"/>
<rect x="276.8" y="743.1" width="66.9" height="58.4" rx="2.5" fill="#fdfaf8" stroke="#efddd3" stroke-width="1"/>
<text x="310.2" y="751.8" font-size="7.3" font-weight="bold" text-anchor="middle" fill="#111" stroke="#111" stroke-width="0.15">Oxidative</text>
<text x="310.2" y="759.3" font-size="7.3" font-weight="bold" text-anchor="middle" fill="#111" stroke="#111" stroke-width="0.15">Phosphorylation</text>
<text x="310.2" y="766.5" font-size="7.2" text-anchor="middle" fill="#1a1a1a" stroke="#1a1a1a" stroke-width="0.18">Ndufb4</text>
<text x="310.2" y="773.8" font-size="7.2" text-anchor="middle" fill="#1a1a1a" stroke="#1a1a1a" stroke-width="0.18">Ndufs5</text>
<text x="310.2" y="781.1" font-size="7.2" text-anchor="middle" fill="#1a1a1a" stroke="#1a1a1a" stroke-width="0.18">Higd2a</text>
<text x="310.2" y="788.4" font-size="7.2" text-anchor="middle" fill="#1a1a1a" stroke="#1a1a1a" stroke-width="0.18">Bcs1l</text>
<text x="310.2" y="795.7" font-size="7.2" text-anchor="middle" fill="#1a1a1a" stroke="#1a1a1a" stroke-width="0.18">Tmem126b</text>
<rect x="347.3" y="743.6" width="59.1" height="24.6" rx="2.5" fill="#fdfaf8" stroke="#efddd3" stroke-width="1"/>
<text x="376.9" y="750.2" font-size="7.3" font-weight="bold" text-anchor="middle" fill="#111" stroke="#111" stroke-width="0.15">Cell Signaling</text>
<text x="376.9" y="757.2" font-size="7.3" font-weight="bold" text-anchor="middle" fill="#111" stroke="#111" stroke-width="0.15">&amp; Cell Fate</text>
<text x="376.9" y="764.4" font-size="7.2" text-anchor="middle" fill="#1a1a1a" stroke="#1a1a1a" stroke-width="0.18">Rhot2</text>
<rect x="281.9" y="809.1" width="48.6" height="32.4" rx="2.5" fill="#fdfaf8" stroke="#efddd3" stroke-width="1"/>
<text x="306.2" y="815.7" font-size="7.3" font-weight="bold" text-anchor="middle" fill="#111" stroke="#111" stroke-width="0.15">Metabolism</text>
<text x="306.2" y="823.0" font-size="7.2" text-anchor="middle" fill="#1a1a1a" stroke="#1a1a1a" stroke-width="0.18">Ckmt1</text>
<text x="306.2" y="830.3" font-size="7.2" text-anchor="middle" fill="#1a1a1a" stroke="#1a1a1a" stroke-width="0.18">Ldhal6b</text>
<text x="306.2" y="837.6" font-size="7.2" text-anchor="middle" fill="#1a1a1a" stroke="#1a1a1a" stroke-width="0.18">Timm22</text>
<rect x="340.1" y="831.8" width="62.8" height="32.2" rx="2.5" fill="#fdfaf8" stroke="#efddd3" stroke-width="1"/>
<text x="371.5" y="838.2" font-size="7.3" font-weight="bold" text-anchor="middle" fill="#111" stroke="#111" stroke-width="0.15">MitoRibosomes</text>
<text x="371.5" y="845.3" font-size="7.3" font-weight="bold" text-anchor="middle" fill="#111" stroke="#111" stroke-width="0.15">&amp; Biosynthesis</text>
<text x="371.5" y="852.3" font-size="7.2" text-anchor="middle" fill="#1a1a1a" stroke="#1a1a1a" stroke-width="0.18">Mrm3</text>
<text x="371.5" y="859.5" font-size="7.2" text-anchor="middle" fill="#1a1a1a" stroke="#1a1a1a" stroke-width="0.18">Afg3l1</text>
<rect x="415" y="743.6" width="60.0" height="32.8" rx="2.5" fill="#f1dcc0" stroke="#c48a6a" stroke-width="1"/>
<text x="445.0" y="750.6" font-size="7.3" font-weight="bold" text-anchor="middle" fill="#111" stroke="#111" stroke-width="0.15">Cell Signaling</text>
<text x="445.0" y="757.6" font-size="7.3" font-weight="bold" text-anchor="middle" fill="#111" stroke="#111" stroke-width="0.15">&amp; Cell Fate</text>
<text x="445.0" y="764.7" font-size="7.2" text-anchor="middle" fill="#1a1a1a" stroke="#1a1a1a" stroke-width="0.18">Ahcyl1</text>
<text x="445.0" y="771.8" font-size="7.2" text-anchor="middle" fill="#1a1a1a" stroke="#1a1a1a" stroke-width="0.18">Fundc1</text>
<rect x="478.4" y="726.3" width="67.2" height="76.8" rx="2.5" fill="#f1dcc0" stroke="#c48a6a" stroke-width="1"/>
<text x="512.0" y="736.3" font-size="7.3" font-weight="bold" text-anchor="middle" fill="#111" stroke="#111" stroke-width="0.15">Oxidative</text>
<text x="512.0" y="743.6" font-size="7.3" font-weight="bold" text-anchor="middle" fill="#111" stroke="#111" stroke-width="0.15">Phosphorylation</text>
<text x="512.0" y="750.9" font-size="7.2" text-anchor="middle" fill="#1a1a1a" stroke="#1a1a1a" stroke-width="0.18">Chchd2</text>
<text x="512.0" y="758.1" font-size="7.2" text-anchor="middle" fill="#1a1a1a" stroke="#1a1a1a" stroke-width="0.18">Coq9</text>
<text x="512.0" y="765.4" font-size="7.2" text-anchor="middle" fill="#1a1a1a" stroke="#1a1a1a" stroke-width="0.18">Ndufaf6</text>
<text x="512.0" y="772.6" font-size="7.2" text-anchor="middle" fill="#1a1a1a" stroke="#1a1a1a" stroke-width="0.18">Mt-atp6</text>
<text x="512.0" y="779.9" font-size="7.2" text-anchor="middle" fill="#1a1a1a" stroke="#1a1a1a" stroke-width="0.18">Mt-nd2</text>
<text x="512.0" y="787.1" font-size="7.2" text-anchor="middle" fill="#1a1a1a" stroke="#1a1a1a" stroke-width="0.18">Mt-nd3</text>
<text x="512.0" y="794.4" font-size="7.2" text-anchor="middle" fill="#1a1a1a" stroke="#1a1a1a" stroke-width="0.18">Mt-nd5</text>
<rect x="415" y="826.4" width="62.7" height="43.6" rx="2.5" fill="#f1dcc0" stroke="#c48a6a" stroke-width="1"/>
<text x="446.4" y="835.1" font-size="7.3" font-weight="bold" text-anchor="middle" fill="#111" stroke="#111" stroke-width="0.15">MitoRibosomes</text>
<text x="446.4" y="842.2" font-size="7.3" font-weight="bold" text-anchor="middle" fill="#111" stroke="#111" stroke-width="0.15">&amp; Biosynthesis</text>
<text x="446.4" y="849.3" font-size="7.2" text-anchor="middle" fill="#1a1a1a" stroke="#1a1a1a" stroke-width="0.18">Mtres1</text>
<text x="446.4" y="856.4" font-size="7.2" text-anchor="middle" fill="#1a1a1a" stroke="#1a1a1a" stroke-width="0.18">Mrps23</text>
<text x="446.4" y="863.5" font-size="7.2" text-anchor="middle" fill="#1a1a1a" stroke="#1a1a1a" stroke-width="0.18">Mrpl9</text>
<rect x="490.1" y="814.4" width="49.4" height="50.1" rx="2.5" fill="#f1dcc0" stroke="#c48a6a" stroke-width="1"/>
<text x="514.8" y="822.5" font-size="7.3" font-weight="bold" text-anchor="middle" fill="#111" stroke="#111" stroke-width="0.15">Metabolism</text>
<text x="514.8" y="830.0" font-size="7.2" text-anchor="middle" fill="#1a1a1a" stroke="#1a1a1a" stroke-width="0.18">Rpia</text>
<text x="514.8" y="837.3" font-size="7.2" text-anchor="middle" fill="#1a1a1a" stroke="#1a1a1a" stroke-width="0.18">Slc25a44</text>
<text x="514.8" y="844.6" font-size="7.2" text-anchor="middle" fill="#1a1a1a" stroke="#1a1a1a" stroke-width="0.18">Ptges2</text>
<text x="514.8" y="851.9" font-size="7.2" text-anchor="middle" fill="#1a1a1a" stroke="#1a1a1a" stroke-width="0.18">Aldh7a1</text>
<text x="514.8" y="859.2" font-size="7.2" text-anchor="middle" fill="#1a1a1a" stroke="#1a1a1a" stroke-width="0.18">Idh2</text>
<line x1="410.5" y1="706.4" x2="410.5" y2="883" stroke="#6e6e6e" stroke-width="1.1" stroke-dasharray="1.1,1.4"/>
<text x="353.6" y="710.9" font-size="13.2" font-weight="bold" text-anchor="middle">DOWN</text>
<text x="473.5" y="710.9" font-size="13.2" font-weight="bold" text-anchor="middle">UP</text>
<text x="278.6" y="701.8" font-size="12" font-weight="bold">H</text>
</svg></body></html>
